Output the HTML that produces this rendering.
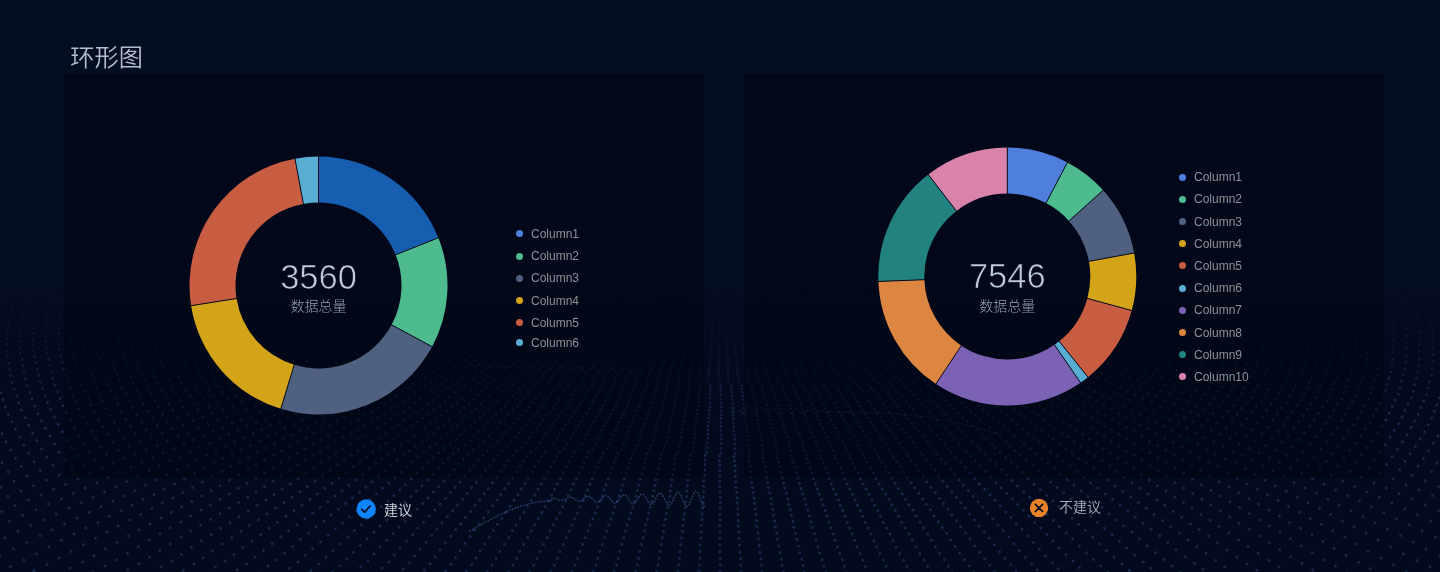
<!DOCTYPE html>
<html><head><meta charset="utf-8"><style>
html,body{margin:0;padding:0;}
body{width:1440px;height:572px;overflow:hidden;background:linear-gradient(180deg,#050d22 0,#050d22 280px,#030a1d 340px,#030a1d 572px);position:relative;font-family:"Liberation Sans","Noto Sans CJK SC",sans-serif;}
.abs{position:absolute;}
.txt{position:absolute;left:0;top:0;width:1440px;height:572px;will-change:transform;}
.title{position:absolute;left:70.3px;top:42px;font-size:24.2px;line-height:32px;color:#b4bccf;font-family:"Liberation Sans","Noto Sans CJK SC",sans-serif;font-weight:350;}
.panel{position:absolute;top:74px;width:640px;height:404px;background:rgba(0,3,16,0.5);}
.lg{position:absolute;width:7px;height:7px;border-radius:50%;}
.lt{position:absolute;font-size:12px;line-height:16px;color:#8f9095;white-space:nowrap;}
.num{position:absolute;font-size:34.5px;line-height:36px;color:#c4cadb;text-align:center;width:200px;font-weight:300;-webkit-text-stroke:0.7px #02081a;}
.sub{position:absolute;font-size:14px;line-height:20px;color:#9a9fae;font-weight:300;text-align:center;width:200px;font-family:"Liberation Sans","Noto Sans CJK SC",sans-serif;}
.tag{position:absolute;font-size:14px;line-height:20px;color:#c5c9d3;font-weight:350;font-family:"Liberation Sans","Noto Sans CJK SC",sans-serif;white-space:nowrap;}
svg{position:absolute;left:0;top:0;}
</style></head><body>
<svg width="1440" height="572" viewBox="0 0 1440 572" style="filter:blur(0.55px)">
<path d="M521.9 283.0h0m151.2 0.0h0m14.1-0.0h0m109.3 0.0h0m-157.7 0.1h0m39.0-0.0h0m4.7-0.0h0m217.4 0.0h0m81.3-0.0h0m-490.3 0.1h0m15.8-0.0h0m285.0 0.0h0m25.7 0.0h0m175.1-0.0h0m-401.2 0.0h0m242.9 0.1h0m-370.4 0.1h0m323.2-0.0h0m146.5 0.0h0m-376.9 0.1h0m47.2 0.0h0m39.8-0.0h0m138.5-0.0h0m103.7 0.0h0m-343.5 0.1h0m28.0 0.0h0m57.3-0.0h0m145.1 0.1h0m4.8-0.1h0m35.2 0.0h0m33.9 0.0h0m-393.7 0.1h0m163.2-0.1h0m147.2 0.1h0m4.8-0.0h0m104.4 0.1h0m36.6-0.1h0m-381.3 0.1h0m55.9 0.0h0m160.4 0.0h0m4.8-0.0h0m4.8-0.0h0m4.8-0.0h0m70.9 0.1h0m29.9-0.1h0m84.2 0.0h0m-502.1 0.1h0m39.3 0.1h0m167.9-0.1h0m86.0 0.1h0m4.8-0.1h0m-226.7 0.1h0m217.2-0.0h0m78.1-0.0h0m-310.9 0.1h0m99.7-0.0h0m36.0 0.0h0m92.4-0.1h0m228.8 0.1h0m-300.4 0.0h0m66.9-0.0h0m82.8 0.1h0m91.7-0.0h0m23.7 0.0h0m-356.1 0.1h0m46.8 0.0h0m106.4-0.1h0m109.0 0.1h0m17.1-0.0h0m-293.5 0.1h0m27.8 0.1h0m45.2-0.1h0m37.1 0.0h0m52.6-0.0h0m253.6 0.1h0m-430.8 0.1h0m172.4-0.1h0m92.2 0.0h0m56.0 0.1h0m26.5-0.0h0m-410.6 0.1h0m167.4 0.1h0m25.4-0.1h0m33.4 0.1h0m4.8-0.1h0m92.1 0.1h0m73.9-0.0h0m-278.2 0.1h0m78.7 0.0h0m23.9 0.0h0m236.3-0.0h0m47.3-0.1h0m-456.8 0.1h0m154.1-0.0h0m4.8 0.0h0m4.8-0.0h0m4.8-0.0h0m101.6 0.0h0m31.1-0.0h0m84.1 0.1h0m82.8 0.0h0m-499.7 0.1h0m115.1 0.0h0m181.8-0.0h0m53.0-0.0h0m-377.4 0.1h0m43.7-0.1h0m123.2 0.1h0m152.7-0.0h0m-225.0 0.1h0m14.0 0.0h0m46.5-0.0h0m28.3-0.0h0m126.6 0.0h0m4.9-0.1h0m40.7 0.1h0m-55.3 0.1h0m4.9-0.0h0m85.0 0.1h0m40.2-0.0h0m48.5-0.1h0m-398.5 0.1h0m42.0 0.0h0m168.3 0.0h0m4.9-0.1h0m-14.6 0.2h0m4.9-0.1h0m65.0 0.1h0m21.9-0.0h0m30.5 0.0h0m13.4-0.0h0m37.3-0.0h0m-388.5 0.1h0m70.1-0.0h0m53.0-0.1h0m87.6 0.0h0m-103.9 0.1h0m99.0-0.0h0m217.8-0.1h0m-471.6 0.1h0m248.9 0.1h0m79.5-0.0h0m-295.9 0.1h0m98.2-0.0h0m12.2 0.1h0m32.9-0.0h0m68.2 0.0h0m-227.6 0.0h0m66.5 0.1h0m240.4-0.0h0m26.8-0.0h0m17.5 0.0h0m54.1 0.0h0m60.3-0.0h0m-413.4 0.1h0m28.3-0.1h0m142.3 0.0h0m206.7 0.0h0m-335.6 0.2h0m70.4-0.1h0m53.6 0.0h0m84.1-0.0h0m-329.3 0.2h0m170.6-0.1h0m69.7 0.0h0m84.1 0.0h0m67.0-0.0h0m27.0 0.0h0m85.2-0.0h0m-439.0 0.1h0m131.9-0.0h0m38.9 0.0h0m84.0 0.0h0m36.6-0.1h0m48.7 0.0h0m-270.5 0.1h0m67.2 0.1h0m29.2-0.0h0m83.9 0.0h0m-167.7 0.1h0m12.1-0.0h0m47.4 0.0h0m19.5-0.0h0m83.8-0.0h0m63.9-0.1h0m93.1 0.0h0m-417.2 0.1h0m161.9 0.0h0m4.9 0.0h0m4.9-0.0h0m78.7 0.1h0m5.0-0.1h0m46.4 0.0h0m90.7-0.0h0m-424.7 0.1h0m82.5 0.0h0m76.1-0.1h0m119.1 0.0h0m-261.3 0.0h0m51.8 0.1h0m28.1 0.0h0m176.4-0.0h0m-5.0 0.1h0m61.2 0.0h0m40.2-0.0h0m-315.8 0.2h0m56.2-0.0h0m153.2-0.0h0m88.5 0.0h0m58.8 0.0h0m49.4-0.0h0m-296.0 0.1h0m94.3-0.0h0m124.6 0.0h0m13.6 0.0h0m-273.5 0.1h0m24.5-0.1h0m105.9 0.0h0m71.1-0.0h0m110.1 0.0h0m-395.9 0.1h0m96.8-0.0h0m112.9 0.0h0m-258.6 0.1h0m253.7 0.1h0m75.9-0.1h0m27.3 0.0h0m123.7-0.0h0m-381.8 0.2h0m80.5-0.1h0m145.3 0.1h0m50.2-0.1h0m-341.6 0.1h0m51.5-0.0h0m164.1 0.0h0m-231.9 0.1h0m95.6-0.0h0m50.3 0.1h0m81.0-0.0h0m75.7-0.0h0m110.3-0.0h0m61.4 0.0h0m-421.3 0.1h0m55.8 0.1h0m58.5-0.1h0m130.2 0.0h0m37.3-0.0h0m36.0 0.0h0m66.6-0.1h0m-215.6 0.1h0m70.6 0.0h0m106.0 0.0h0m-276.8 0.1h0m12.4 0.0h0m38.3-0.0h0m44.6 0.0h0m70.5-0.0h0m65.1 0.0h0m31.9-0.0h0m-346.5 0.1h0m174.1 0.1h0m70.4-0.1h0m47.3 0.0h0m-152.4 0.1h0m100.1-0.0h0m-126.4 0.1h0m31.3 0.1h0m19.8 0.0h0m5.0-0.1h0m65.2 0.0h0m149.9 0.1h0m25.3-0.1h0m-425.2 0.1h0m51.1-0.0h0m14.1 0.0h0m99.8 0.0h0m5.0 0.0h0m5.0-0.0h0m70.1-0.0h0m57.3 0.0h0m-335.2 0.1h0m69.5 0.1h0m42.2-0.0h0m161.1-0.0h0m85.1 0.1h0m18.2-0.0h0m-359.5 0.1h0m251.0 0.0h0m62.3 0.1h0m-205.2 0.0h0m25.0-0.0h0m16.9 0.0h0m96.0 0.0h0m155.2-0.0h0m-363.5 0.1h0m83.1-0.0h0m252.1-0.0h0m13.9 0.1h0m64.7-0.1h0m-210.6 0.1h0m67.3-0.0h0m-72.3 0.2h0m67.2-0.0h0m33.0-0.1h0m89.6 0.0h0m-270.6 0.1h0m199.1-0.0h0m-332.0 0.1h0m50.8-0.0h0m14.0 0.0h0m143.9-0.0h0m67.1-0.0h0m-239.4 0.1h0m79.7 0.0h0m154.5 0.0h0m38.0 0.0h0m-324.7 0.1h0m94.3-0.1h0m125.4 0.0h0m61.8 0.0h0m122.7 0.0h0m-296.9 0.1h0m12.6 0.0h0m34.0-0.1h0m60.7 0.1h0m61.7-0.0h0m85.0-0.0h0m-323.9 0.1h0m233.7 0.1h0m48.2 0.0h0m23.3-0.0h0m86.6-0.1h0m-270.2 0.2h0m50.6-0.0h0m56.5 0.0h0m109.2-0.1h0m14.3-0.0h0m-367.4 0.2h0m115.2-0.1h0m67.3 0.0h0m56.4 0.0h0m53.3 0.1h0m-241.6 0.1h0m91.5-0.0h0m35.4 0.0h0m56.3-0.0h0m-197.5 0.1h0m28.2-0.0h0m82.7 0.1h0m25.3 0.0h0m56.2 0.0h0m86.8-0.0h0m18.6 0.0h0m57.7-0.0h0m25.7-0.0h0m-339.6 0.1h0m25.4 0.0h0m49.0-0.0h0m5.1 0.0h0m5.1-0.0h0m5.1-0.0h0m119.6-0.0h0m-302.8 0.1h0m37.3 0.0h0m69.3-0.0h0m132.7 0.0h0m-103.0 0.1h0m161.3 0.0h0m-63.4 0.1h0m58.1 0.1h0m33.6-0.0h0m37.6-0.1h0m28.8 0.0h0m-163.3 0.2h0m148.7-0.1h0m-355.7 0.1h0m265.1 0.0h0m57.3 0.0h0m-286.5 0.1h0m14.2-0.0h0m69.4-0.0h0m82.4 0.0h0m57.9 0.0h0m135.4-0.0h0m-331.3 0.1h0m38.5-0.0h0m196.2 0.0h0m-314.4 0.2h0m37.0 0.0h0m56.0-0.0h0m119.6 0.0h0m57.8-0.1h0m-164.6 0.1h0m159.4 0.0h0m-124.7 0.1h0m67.0 0.0h0m52.5 0.0h0m49.1-0.0h0m23.7 0.0h0m19.0-0.1h0m43.6 0.1h0m-373.7 0.2h0m180.5 0.0h0m52.4-0.0h0m111.2 0.0h0m14.5 0.0h0m40.6-0.0h0m-297.6 0.1h0m22.2 0.0h0m103.8 0.0h0m54.3-0.1h0m-246.2 0.2h0m14.1 0.0h0m125.5-0.1h0m-111.9 0.2h0m65.5-0.0h0m41.2 0.0h0m52.2-0.1h0m54.2 0.0h0m29.0 0.0h0m-321.3 0.1h0m36.8 0.0h0m55.5 0.0h0m12.7-0.1h0m235.1 0.0h0m-190.4 0.1h0m30.9-0.0h0m52.1-0.0h0m54.1 0.0h0m112.0 0.0h0m-276.3 0.1h0m32.4 0.0h0m20.6-0.0h0m52.0 0.0h0m-205.9 0.1h0m138.4-0.0h0m5.2 0.0h0m5.2-0.0h0m111.1 0.0h0m34.2 0.0h0m-93.5 0.1h0m53.9 0.0h0m77.9-0.1h0m29.4 0.1h0m-14.9 0.1h0m-97.7 0.1h0m39.5 0.0h0m24.3-0.1h0m-328.6 0.2h0m51.1-0.1h0m14.0 0.0h0m39.2-0.0h0m17.4 0.0h0m89.2-0.0h0m-174.4 0.1h0m42.0 0.0h0m13.1 0.0h0m167.7-0.1h0m143.3 0.0h0m-197.0 0.1h0m48.3 0.0h0m44.7 0.0h0m43.6 0.1h0m-320.8 0.0h0m105.4 0.0h0m73.5 0.0h0m48.2-0.0h0m74.3-0.0h0m-79.6 0.2h0m50.0-0.0h0m93.5-0.0h0m-277.2 0.1h0m85.6 0.0h0m161.5 0.0h0m-224.5 0.1h0m105.8-0.0h0m133.5-0.0h0m-314.7 0.1h0m13.9 0.0h0m119.3-0.0h0m97.9-0.1h0m29.5 0.0h0m-275.0 0.1h0m41.7 0.0h0m13.0-0.0h0m135.5 0.1h0m-95.2 0.1h0m47.2-0.0h0m97.7-0.0h0m54.3-0.0h0m-309.2 0.2h0m199.8 0.0h0m-112.3 0.0h0m27.7 0.1h0m36.7-0.1h0m97.5-0.0h0m34.9 0.0h0m-137.6 0.1h0m97.3 0.0h0m-123.5 0.0h0m21.0 0.0h0m53.0-0.1h0m129.0 0.0h0m-197.7 0.1h0m5.2 0.0h0m5.2-0.0h0m102.3 0.0h0m40.2 0.0h0m24.7-0.0h0m49.8 0.0h0m-318.3 0.1h0m40.0-0.1h0m114.1 0.0h0m149.0-0.0h0m-317.3 0.1h0m28.1 0.0h0m13.3 0.0h0m30.6-0.0h0m140.3 0.0h0m-49.4 0.1h0m89.5 0.0h0m-267.2 0.0h0m221.6 0.0h0m70.2 0.1h0m19.8 0.0h0m-219.5 0.1h0m80.2-0.0h0m43.8 0.0h0m45.5 0.0h0m-187.2 0.1h0m92.6 0.1h0m43.7-0.0h0m45.4 0.1h0m70.1-0.0h0m-40.0 0.1h0m-265.5 0.0h0m14.2-0.0h0m13.7 0.0h0m13.2-0.0h0m35.8 0.0h0m64.2 0.0h0m43.6-0.0h0m136.0-0.0h0m-335.3 0.2h0m244.6-0.1h0m55.3 0.1h0m-106.0 0.1h0m-119.9 0.1h0m22.9-0.0h0m53.5-0.1h0m88.7 0.0h0m35.5 0.0h0m-129.5 0.1h0m43.4 0.0h0m45.1 0.0h0m-131.2 0.1h0m37.4 0.1h0m129.2 0.0h0m45.5-0.1h0m-253.1 0.1h0m46.3 0.1h0m75.4-0.0h0m44.9-0.0h0m66.2-0.0h0m-273.6 0.1h0m14.1-0.0h0m13.6 0.0h0m86.1-0.0h0m195.1 0.0h0m-323.4 0.1h0m73.4-0.0h0m33.5-0.0h0m5.3 0.1h0m5.3-0.0h0m5.3-0.1h0m93.4 0.0h0m-44.8 0.1h0m85.7-0.0h0m-46.4 0.1h0m71.5 0.0h0m-116.3 0.1h0m85.5-0.0h0m50.9 0.0h0m-97.3 0.1h0m-144.4 0.0h0m18.0-0.0h0m81.8 0.2h0m85.3-0.0h0m-225.5 0.2h0m13.9-0.0h0m13.5-0.0h0m151.9-0.0h0m76.9 0.0h0m40.8 0.0h0m-311.4 0.1h0m234.3-0.0h0m-156.0 0.1h0m70.9-0.0h0m39.0 0.0h0m102.5 0.0h0m-62.0 0.1h0m36.2 0.0h0m-204.4 0.1h0m83.3 0.0h0m-60.0 0.1h0m98.8-0.1h0m-44.3 0.2h0m84.7-0.1h0m-175.4 0.2h0m129.5 0.0h0m82.0-0.1h0m25.7 0.1h0m20.6-0.0h0m-271.3 0.1h0m55.1-0.0h0m128.1-0.0h0m-197.0 0.1h0m112.5-0.0h0m-66.9 0.1h0m28.7 0.0h0m32.7 0.0h0m44.1 0.0h0m40.1-0.0h0m41.7-0.0h0m-153.2 0.2h0m16.4 0.1h0m5.5-0.1h0m157.0 0.1h0m-173.3 0.0h0m5.5 0.0h0m54.9 0.0h0m40.0-0.1h0m41.6 0.0h0m-194.4 0.2h0m18.4 0.1h0m128.8 0.0h0m41.4 0.0h0m-201.8 0.1h0m120.5-0.0h0m112.6 0.0h0m-246.8 0.1h0m168.5 0.1h0m41.3-0.0h0m-81.2 0.1h0m-77.8 0.1h0m153.2 0.1h0m36.9-0.0h0m-208.3 0.1h0m130.2-0.0h0m-39.7 0.1h0m-66.6 0.2h0m141.8-0.1h0m-178.8 0.1h0m98.0 0.0h0m39.6-0.1h0m77.9-0.0h0m-229.2 0.2h0m186.6 0.0h0m-154.2 0.2h0m23.7-0.0h0m50.0 0.0h0m39.5 0.0h0m77.7-0.0h0m-42.5 0.1h0m-119.2 0.1h0m38.9-0.0h0m-5.6 0.2h0m45.0-0.0h0m77.5-0.0h0m-198.1 0.2h0m47.8-0.0h0m107.9-0.0h0m-102.3 0.1h0m11.1 0.0h0m5.6-0.1h0m122.1 0.1h0m-205.7 0.1h0m32.2-0.1h0m40.2-0.0h0m56.0 0.1h0m35.0 0.1h0m36.4 0.1h0m-77.0 0.1h0m34.9 0.1h0m-138.4 0.1h0m18.6-0.1h0m156.1 0.0h0m-76.8 0.1h0m34.8 0.1h0m-146.0 0.1h0m182.2-0.0h0m-144.5 0.1h0m67.9 0.0h0m34.7 0.1h0m36.0 0.0h0m-157.1 0.1h0m24.1 0.1h0m56.6-0.0h0m-5.7 0.2h0m40.3-0.1h0m35.9-0.0h0m-121.5 0.2h0m-43.1 0.0h0m82.7 0.1h0m-34.0 0.1h0m74.1-0.0h0m35.8-0.1h0m-139.6 0.1h0m58.0 0.0h0m-22.6 0.1h0m17.0 0.0h0m-11.3 0.0h0m5.7 0.0h0m87.1 0.0h0m-35.7 0.1h0m-111.2 0.2h0m18.9 0.0h0m122.1 0.1h0m-35.6 0.1h0m-80.7 0.3h0m75.0-0.0h0m35.5-0.0h0m-129.3 0.2h0m88.0 0.1h0m-63.4 0.1h0m57.7 0.2h0m-51.9 0.1h0m46.1 0.1h0m-40.4 0.2h0m34.6 0.0h0m-28.8 0.1h0m23.1 0.0h0m-17.3 0.1h0m5.8 0.0h0m5.8-0.0h0" stroke="#3d5a9a" stroke-opacity="0.03" stroke-width="1.51" stroke-linecap="round" fill="none"/>
<path d="M1041.1 283.1h0m-12.7 0.1h0m246.7 0.0h0m-1206.2 0.1h0m171.7-0.0h0m164.4 0.0h0m599.2-0.0h0m12.0-0.0h0m183.4 0.1h0m-1024.2 0.0h0m981.7 0.0h0m149.1 0.1h0m-1007.0 0.1h0m38.1-0.0h0m765.6-0.0h0m235.9 0.0h0m-966.3 0.1h0m-248.3 0.1h0m293.2-0.0h0m-222.8 0.3h0m63.3-0.1h0m171.6 0.0h0m658.8 0.1h0m138.5 0.0h0m-85.9 0.1h0m-755.1 0.1h0m-71.1 0.1h0m37.0 0.0h0m722.5 0.0h0m108.0-0.1h0m-1037.3 0.2h0m68.4-0.0h0m61.5-0.0h0m980.8 0.0h0m-195.0 0.1h0m-661.6 0.1h0m726.3-0.0h0m-78.1 0.1h0m-12.9 0.1h0m251.3-0.1h0m-1054.2 0.1h0m98.6 0.0h0m35.9-0.0h0m631.8-0.0h0m11.9 0.1h0m12.2-0.0h0m186.9 0.0h0m-1043.7 0.1h0m126.1-0.0h0m120.5 0.0h0m753.7-0.0h0m151.9 0.0h0m-207.2 0.1h0m-662.5 0.1h0m-23.6 0.0h0m12.0 0.1h0m-323.1 0.0h0m136.3 0.0h0m130.5 0.1h0m-195.0 0.1h0m160.2 0.0h0m750.6-0.0h0m141.1-0.0h0m-929.4 0.1h0m841.9 0.0h0m42.0 0.2h0m-924.7 0.1h0m814.7-0.0h0m-877.3 0.1h0m189.2-0.0h0m872.8 0.0h0m-1131.7 0.1h0m225.2 0.2h0m707.9-0.1h0m66.0 0.1h0m-810.4 0.0h0m657.3-0.0h0m-574.0 0.1h0m585.4 0.0h0m62.2-0.1h0m242.9 0.0h0m-1074.2 0.1h0m60.8-0.0h0m170.9-0.0h0m586.3 0.1h0m-37.3 0.0h0m12.1 0.1h0m12.4-0.0h0m146.3 0.0h0m44.1-0.1h0m-1063.5 0.2h0m263.9-0.1h0m24.1 0.0h0m-11.9 0.1h0m687.0 0.0h0m-744.4 0.1h0m-132.9 0.1h0m97.5-0.0h0m-38.4 0.1h0m947.0 0.1h0m-1071.9 0.1h0m928.1-0.0h0m-715.8 0.2h0m770.5-0.1h0m-899.4 0.2h0m942.3-0.0h0m-847.7 0.2h0m108.0 0.1h0m627.6-0.1h0m-894.0 0.1h0m121.2 0.0h0m658.5 0.0h0m-573.7 0.1h0m673.8 0.1h0m67.3 0.1h0m-866.2 0.1h0m174.2 0.0h0m535.9-0.0h0m-572.1 0.1h0m647.2 0.0h0m-847.1 0.1h0m153.8 0.1h0m70.7-0.0h0m559.2-0.1h0m231.0 0.1h0m-802.3 0.0h0m583.3 0.0h0m12.3 0.1h0m12.7-0.0h0m13.0-0.1h0m136.1 0.1h0m-852.1 0.1h0m794.7 0.1h0m-833.8 0.1h0m-60.2 0.0h0m149.3 0.2h0m86.3 0.0h0m489.7 0.1h0m153.4 0.1h0m-764.4 0.1h0m820.1 0.0h0m-916.5 0.1h0m234.9 0.0h0m725.3 0.1h0m-901.7 0.0h0m86.4 0.0h0m61.6 0.1h0m511.8-0.1h0m127.7 0.1h0m-688.0 0.2h0m571.5-0.1h0m-712.1 0.1h0m93.5 0.0h0m83.9-0.1h0m636.6 0.0h0m-660.9 0.1h0m570.3-0.0h0m159.1-0.1h0m-717.1 0.1h0m-228.7 0.1h0m119.9-0.0h0m150.0-0.0h0m528.7 0.1h0m64.6-0.1h0m-576.3 0.2h0m523.8 0.0h0m38.7-0.0h0m138.7 0.0h0m45.8-0.1h0m-210.7 0.2h0m12.9-0.0h0m-756.2 0.1h0m90.8 0.0h0m576.3-0.0h0m-728.4 0.1h0m911.0-0.1h0m-794.6 0.3h0m123.6-0.0h0m499.0 0.1h0m-573.3 0.1h0m-147.6 0.1h0m59.6-0.0h0m817.6-0.0h0m56.7 0.1h0m-694.6 0.1h0m16.9 0.0h0m-45.9 0.1h0m521.5 0.0h0m246.5-0.0h0m-817.5 0.1h0m-47.9 0.1h0m749.0 0.0h0m-844.3 0.1h0m156.1 0.0h0m24.7-0.1h0m544.7 0.1h0m-556.9 0.0h0m-110.9 0.1h0m628.5 0.1h0m143.3-0.0h0m-92.2 0.1h0m162.1-0.1h0m-688.8 0.1h0m34.2 0.1h0m-135.1 0.0h0m639.7 0.0h0m65.8-0.1h0m-798.0 0.1h0m210.8 0.0h0m533.8 0.1h0m39.5-0.0h0m141.3 0.0h0m-168.0 0.1h0m13.2-0.0h0m-714.4 0.1h0m623.6-0.1h0m186.1 0.1h0m-759.4 0.1h0m75.7-0.0h0m-165.4 0.2h0m217.1 0.1h0m456.8-0.0h0m-619.4 0.2h0m48.8-0.1h0m50.4 0.0h0m679.5-0.0h0m57.8 0.1h0m-707.8 0.0h0m17.2 0.0h0m445.7 0.0h0m-529.7 0.1h0m123.0-0.1h0m445.7 0.0h0m-555.9 0.1h0m12.4-0.1h0m-125.4 0.1h0m801.5 0.0h0m-121.0 0.1h0m-627.6 0.1h0m154.3-0.0h0m406.6 0.0h0m26.7 0.1h0m146.0 0.0h0m-630.7 0.1h0m536.7 0.0h0m165.2-0.1h0m-899.0 0.2h0m270.7-0.0h0m-213.5 0.1h0m174.8-0.1h0m514.1 0.1h0m67.1-0.0h0m-598.4 0.1h0m584.1 0.1h0m-690.5 0.0h0m584.1 0.1h0m66.1-0.1h0m13.0 0.1h0m13.4-0.0h0m-120.0 0.1h0m-479.6 0.0h0m69.2 0.0h0m627.5 0.0h0m-865.2 0.1h0m105.2 0.1h0m154.5 0.0h0m-204.2 0.0h0m576.5 0.1h0m54.7-0.0h0m-530.1 0.1h0m64.7 0.0h0m-102.6 0.1h0m68.0 0.0h0m662.3-0.0h0m-717.3 0.1h0m12.6-0.0h0m59.9 0.0h0m454.2-0.0h0m-641.9 0.1h0m227.4 0.0h0m454.2 0.0h0m-627.8 0.1h0m195.4 0.1h0m567.4 0.0h0m-191.3 0.1h0m68.1-0.0h0m-534.7 0.2h0m52.4-0.1h0m441.5 0.0h0m-636.5 0.1h0m593.2 0.0h0m192.0-0.0h0m-733.0 0.1h0m165.3 0.0h0m472.0-0.1h0m-511.4 0.2h0m592.3 0.0h0m-609.7 0.0h0m541.4-0.0h0m-462.7 0.1h0m408.2 0.0h0m67.4-0.0h0m41.0-0.0h0m-689.6 0.1h0m64.5-0.0h0m488.7 0.0h0m108.7-0.0h0m13.7-0.0h0m-726.2 0.1h0m185.7 0.0h0m639.4 0.0h0m-760.8 0.2h0m38.7-0.0h0m105.1-0.0h0m363.4 0.1h0m15.9-0.1h0m55.8 0.1h0m-565.6 0.1h0m12.9 0.0h0m43.2 0.1h0m35.2-0.0h0m60.9 0.1h0m-214.6 0.0h0m599.2-0.0h0m194.2 0.0h0m-657.0 0.1h0m40.4 0.1h0m462.8-0.0h0m-440.5 0.2h0m383.2 0.1h0m195.0 0.0h0m-815.8 0.0h0m53.2 0.0h0m220.8 0.0h0m416.2-0.0h0m-544.9 0.1h0m443.4-0.0h0m15.8 0.1h0m44.1-0.0h0m-449.9 0.1h0m60.5 0.0h0m443.4 0.1h0m97.6-0.0h0m-578.5 0.1h0m345.8 0.1h0m-499.9 0.0h0m96.1 0.1h0m17.8-0.0h0m-165.6 0.1h0m117.4 0.0h0m110.6-0.0h0m471.5-0.0h0m69.7-0.0h0m-153.7 0.1h0m28.5-0.0h0m68.7 0.1h0m41.8 0.0h0m-688.8 0.1h0m198.5 0.0h0m462.0-0.1h0m13.9 0.0h0m-635.0 0.1h0m84.2 0.0h0m377.5-0.1h0m-487.6 0.2h0m170.3-0.0h0m296.2 0.0h0m36.8 0.0h0m16.2-0.1h0m-506.3 0.1h0m119.8 0.0h0m-196.6 0.1h0m639.9 0.0h0m-519.2 0.2h0m97.9-0.0h0m-62.0 0.1h0m454.0-0.0h0m-86.6 0.2h0m21.0 0.0h0m-406.1 0.0h0m512.8 0.1h0m-636.8 0.1h0m165.2-0.0h0m74.4-0.0h0m-51.7 0.1h0m37.1-0.0h0m353.4-0.0h0m-32.7 0.1h0m-451.8 0.1h0m409.2 0.0h0m58.7-0.0h0m44.9 0.1h0m42.4-0.0h0m-439.2 0.1h0m-195.3 0.1h0m133.6 0.1h0m375.8-0.0h0m137.7 0.1h0m99.5 0.0h0m-679.6 0.1h0m90.0-0.0h0m325.4 0.0h0m-468.3 0.1h0m83.8-0.0h0m18.1 0.0h0m63.6-0.0h0m51.3-0.0h0m-14.5 0.1h0m308.3 0.0h0m49.6-0.1h0m29.1 0.0h0m56.6-0.0h0m71.0 0.0h0m-676.7 0.1h0m448.9 0.0h0m170.2-0.0h0m-645.5 0.0h0m13.4 0.1h0m435.1-0.0h0m80.9 0.0h0m129.9-0.0h0m14.2 0.0h0m14.6-0.1h0m-514.5 0.1h0m339.3 0.0h0m-400.6 0.1h0m23.3 0.1h0m451.8 0.0h0m-144.8 0.0h0m-384.3 0.1h0m99.8-0.0h0m51.0 0.1h0m260.2-0.1h0m21.4 0.1h0m66.8-0.0h0m-606.9 0.1h0m144.3 0.0h0m99.8 0.0h0m241.9 0.0h0m-359.7 0.1h0m102.9 0.1h0m419.7-0.0h0m-480.6 0.1h0m344.3-0.0h0m43.4-0.0h0m33.4 0.0h0m-397.9 0.1h0m288.6-0.0h0m92.4 0.0h0m-557.5 0.1h0m80.7 0.0h0m438.3 0.1h0m-320.1 0.1h0m404.3-0.0h0m43.2 0.0h0m-396.9 0.1h0m209.6-0.0h0m32.4 0.0h0m-477.2 0.1h0m53.8 0.1h0m67.9-0.0h0m99.2-0.0h0m424.0 0.1h0m-438.8 0.1h0m232.6-0.0h0m81.6 0.0h0m-506.3 0.1h0m71.3-0.0h0m60.2-0.0h0m23.0 0.1h0m302.5 0.0h0m27.3-0.0h0m72.5-0.0h0m-543.2 0.1h0m13.2-0.1h0m62.9 0.0h0m496.7-0.0h0m57.7 0.0h0m-225.4 0.1h0m103.9-0.0h0m16.8 0.0h0m-362.6 0.0h0m480.9 0.0h0m-430.7 0.2h0m223.8-0.0h0m220.9-0.0h0m14.5 0.0h0m-273.5 0.1h0m65.4 0.0h0m-363.8 0.1h0m98.6 0.0h0m287.0 0.0h0m98.5 0.0h0m-539.1 0.1h0m78.8-0.0h0m22.9 0.1h0m37.3 0.0h0m246.5-0.0h0m123.2-0.0h0m-161.3 0.1h0m-310.1 0.2h0m86.5 0.0h0m186.9-0.1h0m101.9 0.0h0m44.2 0.0h0m-437.8 0.1h0m360.4-0.0h0m111.4 0.0h0m60.7 0.0h0m-377.7 0.1h0m167.7-0.0h0m92.9 0.1h0m39.2-0.0h0m-485.9 0.1h0m74.1 0.0h0m243.1-0.0h0m-219.5 0.0h0m74.4 0.0h0m213.6-0.0h0m33.1 0.0h0m113.8 0.0h0m-600.0 0.1h0m188.0-0.0h0m85.0-0.0h0m142.3 0.1h0m228.8 0.0h0m-419.0 0.0h0m-170.3 0.1h0m324.0 0.0h0m68.2 0.0h0m83.1 0.0h0m-515.9 0.1h0m195.7 0.0h0m270.0-0.0h0m27.8-0.0h0m-479.6 0.2h0m13.5-0.0h0m82.3-0.0h0m135.6 0.0h0m149.7-0.1h0m172.4 0.0h0m75.5-0.0h0m-570.2 0.1h0m191.9 0.0h0m162.0 0.0h0m105.8-0.0h0m-441.0 0.1h0m42.5-0.1h0m23.5-0.0h0m201.1-0.0h0m191.0 0.0h0m47.9-0.1h0m-417.4 0.1h0m51.2 0.0h0m228.1-0.0h0m196.9-0.0h0m-267.3 0.1h0m98.2 0.0h0m-270.2 0.1h0m135.8 0.0h0m67.8-0.0h0m88.9 0.0h0m160.8-0.1h0m-399.8 0.1h0m182.8 0.0h0m-251.2 0.1h0m49.2 0.0h0m131.7 0.0h0m226.8-0.0h0m-549.4 0.1h0m56.1 0.0h0m297.9 0.0h0m66.4 0.0h0m97.9-0.1h0m-438.1 0.1h0m23.4-0.0h0m182.8-0.0h0m179.0 0.1h0m-249.6 0.1h0m170.7-0.0h0m-260.4 0.1h0m50.9 0.0h0m139.5 0.0h0m126.0-0.0h0m57.6-0.0h0m-462.1 0.1h0m242.6-0.1h0m67.3 0.1h0m134.6-0.1h0m79.4 0.1h0m-574.5 0.1h0m31.9-0.1h0m143.4 0.0h0m217.6 0.0h0m33.7-0.0h0m-217.2 0.1h0m25.0 0.0h0m52.9 0.1h0m-126.7 0.1h0m162.7 0.0h0m219.4-0.0h0m-467.1 0.1h0m24.1-0.0h0m23.2 0.0h0m231.6 0.0h0m-367.3 0.1h0m253.2-0.0h0m41.1 0.0h0m105.4 0.0h0m33.6 0.0h0m28.4-0.0h0m22.8-0.0h0m116.0 0.0h0m-442.3 0.1h0m50.5 0.0h0m-235.8 0.0h0m13.8 0.0h0m272.4 0.0h0m29.4-0.0h0m41.7 0.1h0m-101.8 0.0h0m36.6 0.0h0m17.6-0.0h0m78.6 0.0h0m140.1 0.0h0m35.6-0.1h0m-504.1 0.2h0m37.7 0.0h0m124.0-0.0h0m76.3-0.0h0m5.9-0.0h0m116.8-0.0h0m33.5 0.0h0m91.9 0.0h0m95.0-0.1h0m-158.6 0.1h0m112.5-0.0h0m-515.7 0.2h0m43.3-0.0h0m23.9-0.1h0m23.1 0.0h0m37.5 0.0h0m144.3-0.0h0m153.7 0.0h0m149.7 0.0h0m-272.4 0.1h0m32.1 0.0h0m-172.5 0.1h0m19.6-0.1h0m186.3-0.0h0m-256.0 0.2h0m153.6 0.1h0m130.5-0.0h0m-428.4 0.1h0m328.7 0.0h0m32.0-0.0h0m33.2 0.0h0m80.4-0.0h0m53.9-0.0h0m31.6 0.0h0m-379.4 0.1h0m39.6 0.0h0m230.9-0.0h0m-393.8 0.0h0m48.5-0.0h0m186.3 0.1h0m217.7 0.0h0m-427.8 0.0h0m46.8 0.0h0m37.3 0.1h0m256.1-0.0h0m69.7-0.0h0m-291.1 0.2h0m153.9 0.0h0m33.1-0.0h0m-400.4 0.1h0m32.5 0.0h0m206.3 0.0h0m59.9 0.0h0m36.7-0.1h0m250.0 0.0h0m-533.9 0.1h0m112.1 0.1h0m264.7 0.1h0m28.9-0.0h0m23.2 0.0h0m72.5-0.0h0m-566.2 0.1h0m305.9-0.0h0m101.4-0.0h0m-292.7 0.1h0m23.7-0.1h0m74.3-0.0h0m45.4-0.0h0m84.5 0.0h0m31.8-0.0h0m-284.2 0.1h0m71.1 0.0h0m71.5 0.0h0m67.2 0.0h0m311.9-0.1h0m-347.8 0.1h0m171.0 0.0h0m75.8-0.0h0m36.2 0.0h0m-348.9 0.0h0m95.7 0.1h0m107.0-0.0h0m62.9 0.0h0m-193.8 0.0h0m18.0 0.1h0m48.5-0.0h0m31.7-0.0h0m160.6-0.0h0m-495.3 0.1h0m149.9 0.1h0m92.7-0.1h0m6.0 0.0h0m205.0 0.0h0m91.5 0.0h0m-506.6 0.1h0m356.8 0.0h0m-307.1 0.1h0m23.6-0.1h0m73.8 0.0h0m19.9-0.0h0m155.8 0.0h0m-341.7 0.0h0m44.2 0.1h0m233.2-0.0h0m31.6 0.0h0m95.4-0.0h0m-289.5 0.1h0m336.3 0.1h0m-483.3 0.1h0m183.8-0.1h0m217.6-0.0h0m58.1 0.0h0m78.7-0.0h0m32.2 0.1h0m-346.2 0.1h0m79.3-0.0h0m64.1-0.0h0m-198.6 0.2h0m166.0-0.0h0m95.0-0.0h0m71.1 0.0h0m18.3 0.0h0m-411.7 0.1h0m23.4-0.0h0m73.4-0.0h0m-146.2 0.1h0m239.2 0.1h0m97.6-0.1h0m-408.0 0.1h0m96.4-0.0h0m147.0 0.1h0m131.0-0.0h0m-341.2 0.1h0m133.6-0.1h0m175.1 0.1h0m94.6-0.0h0m29.4-0.0h0m23.7 0.1h0m107.0-0.0h0m-544.0 0.2h0m150.7 0.0h0m101.1 0.0h0m259.1-0.0h0m-161.9 0.1h0m-177.9 0.1h0m25.8-0.1h0m-122.0 0.1h0m23.3 0.0h0m37.7-0.0h0m109.8-0.0h0m69.7-0.1h0m61.9 0.1h0m77.3-0.0h0m-251.6 0.1h0m80.0-0.0h0m123.6-0.0h0m84.9 0.0h0m-465.7 0.1h0m25.0-0.0h0m188.8 0.1h0m102.9-0.0h0m130.1-0.0h0m-263.6 0.1h0m221.1-0.1h0m-462.2 0.2h0m152.7-0.1h0m112.8 0.0h0m75.6 0.0h0m214.3 0.0h0m-366.4 0.0h0m20.3 0.0h0m37.9-0.1h0m6.1 0.0h0m6.1-0.0h0m49.4 0.0h0m93.9-0.1h0m29.2 0.1h0m-392.7 0.1h0m74.6-0.0h0m254.3-0.0h0m-348.2 0.1h0m69.8 0.0h0m47.2-0.0h0m37.5 0.0h0m305.2-0.0h0m-177.0 0.1h0m32.2-0.0h0m61.4 0.0h0m59.2-0.0h0m-390.4 0.1h0m150.6 0.1h0m320.0-0.1h0m-173.9 0.2h0m63.6-0.1h0m72.4 0.1h0m-338.3 0.0h0m36.1 0.0h0m320.9 0.0h0m-219.9 0.1h0m-175.8 0.1h0m207.8-0.0h0m61.2-0.0h0m-292.8 0.2h0m125.0-0.0h0m196.7 0.0h0m30.0-0.1h0m24.1 0.1h0m-426.2 0.1h0m97.2-0.0h0m37.2 0.1h0m174.3-0.0h0m-283.2 0.1h0m218.1-0.0h0m-282.6 0.1h0m375.5 0.1h0m164.9-0.0h0m-520.6 0.1h0m174.4-0.1h0m26.3 0.0h0m94.1-0.0h0m-156.2 0.1h0m118.1 0.0h0m127.9-0.0h0m29.9 0.0h0m48.9-0.0h0m-363.1 0.2h0m221.3-0.0h0m179.4 0.0h0m-424.5 0.1h0m130.5 0.0h0m231.5-0.0h0m43.4-0.0h0m-231.3 0.1h0m38.0 0.1h0m60.7-0.1h0m-297.3 0.1h0m71.2-0.1h0m37.0 0.0h0m53.1 0.0h0m-186.8 0.0h0m154.4 0.0h0m63.5-0.0h0m133.6-0.0h0m29.7 0.1h0m-188.2 0.1h0m18.7 0.0h0m77.0 0.0h0m-89.4 0.0h0m6.2 0.0h0m224.4 0.1h0m-311.0 0.0h0m136.9 0.0h0m60.4-0.0h0m88.9 0.0h0m-424.1 0.1h0m76.0-0.1h0m23.6-0.0h0m264.1 0.1h0m-184.0 0.1h0m213.7-0.0h0m-341.8 0.1h0m107.6 0.0h0m142.0 0.0h0m166.0-0.0h0m-344.8 0.1h0m146.0 0.1h0m217.7-0.0h0m-459.9 0.1h0m302.4 0.0h0m28.4 0.1h0m60.1-0.0h0m-231.1 0.1h0m200.5-0.0h0m55.2-0.0h0m-358.7 0.1h0m23.5 0.1h0m37.9-0.1h0m117.7 0.1h0m32.6 0.0h0m-236.1 0.1h0m107.0 0.0h0m156.4 0.0h0m-314.7 0.1h0m185.0 0.1h0m158.0-0.0h0m59.8 0.0h0m49.8-0.0h0m-426.5 0.1h0m95.7-0.0h0m126.6 0.0h0m124.0 0.0h0m54.9 0.1h0m-146.3 0.0h0m190.5 0.0h0m-388.9 0.1h0m61.0 0.1h0m47.8-0.1h0m50.7-0.0h0m66.0 0.1h0m-249.7 0.1h0m47.5-0.0h0m58.8 0.0h0m171.6-0.0h0m-100.6 0.1h0m129.8-0.0h0m30.3-0.0h0m-198.1 0.1h0m76.8 0.1h0m-241.1 0.1h0m170.7 0.0h0m25.3-0.0h0m216.0-0.0h0m-438.0 0.0h0m121.1-0.0h0m94.6 0.1h0m197.1-0.1h0m-209.8 0.1h0m6.3 0.0h0m84.8 0.0h0m-212.0 0.1h0m81.6 0.0h0m158.4-0.1h0m29.1 0.0h0m30.2 0.0h0m-323.4 0.1h0m84.7-0.0h0m117.8 0.0h0m196.1-0.0h0m-351.3 0.1h0m-72.2 0.2h0m254.4 0.0h0m118.1-0.1h0m25.1 0.1h0m-115.2 0.1h0m29.0 0.0h0m30.1 0.0h0m-246.7 0.0h0m42.5 0.0h0m83.9-0.0h0m-189.0 0.2h0m23.9-0.0h0m60.3 0.0h0m98.3 0.2h0m150.9-0.0h0m-286.4 0.1h0m64.5 0.0h0m104.3-0.0h0m86.6 0.1h0m-327.2 0.0h0m268.4-0.0h0m28.9-0.0h0m85.9 0.1h0m-289.0 0.2h0m106.8-0.0h0m-58.1 0.1h0m-110.9 0.1h0m23.8 0.0h0m59.9-0.1h0m118.4 0.0h0m117.1-0.0h0m-156.7 0.1h0m67.3 0.0h0m28.7-0.0h0m29.8-0.0h0m-313.0 0.2h0m142.0-0.1h0m-70.6 0.1h0m109.3 0.0h0m187.9-0.1h0m-220.2 0.2h0m25.8 0.1h0m45.9-0.0h0m116.6 0.0h0m-243.2 0.0h0m21.4-0.0h0m40.0-0.0h0m6.5 0.1h0m6.5-0.0h0m138.2 0.0h0m-274.3 0.1h0m216.0 0.0h0m28.6-0.0h0m-220.9 0.1h0m-48.2 0.1h0m354.2-0.0h0m-147.8 0.1h0m-135.4 0.1h0m43.3 0.0h0m208.2-0.0h0m-30.6 0.1h0m-198.8 0.1h0m140.8-0.0h0m28.5-0.0h0m-230.7 0.2h0m168.2-0.0h0m147.2 0.1h0m-339.7 0.1h0m47.9-0.0h0m65.7 0.0h0m194.5 0.1h0m-122.1 0.2h0m33.9 0.0h0m57.7-0.1h0m-207.0 0.1h0m177.6 0.0h0m-155.7 0.1h0m27.7 0.0h0m-88.7 0.2h0m147.9-0.0h0m121.6 0.1h0m-246.2 0.1h0m71.9-0.0h0m46.1 0.1h0m40.3-0.1h0m57.5-0.0h0m-29.3 0.1h0m-164.0 0.2h0m21.8 0.0h0m34.1-0.0h0m32.9 0.1h0m-26.3 0.1h0m19.7 0.0h0m134.3-0.0h0m-255.4 0.1h0m107.9-0.1h0m6.6 0.0h0m53.4 0.0h0m57.2 0.1h0m-201.9 0.2h0m172.7-0.1h0m-128.7 0.1h0m-21.6 0.2h0m115.5 0.0h0m87.1 0.0h0m-30.1 0.2h0m-211.1 0.1h0m67.0 0.0h0m115.1-0.1h0m-34.7 0.2h0m-124.3 0.1h0m211.0 0.1h0m-188.6 0.0h0m28.2 0.1h0m67.0 0.1h0m34.5 0.0h0m28.9-0.0h0m-197.0 0.3h0m73.3 0.1h0m53.6 0.0h0m-103.9 0.1h0m22.2 0.0h0m174.7-0.1h0m-139.9 0.2h0m40.2 0.0h0m41.1-0.0h0m28.8 0.0h0m-103.4 0.2h0m26.8-0.0h0m-20.1 0.1h0m6.7 0.0h0m6.7-0.0h0m-99.7 0.1h0m44.9 0.1h0m102.5 0.0h0m58.3-0.0h0m-182.8 0.1h0m153.1 0.0h0m-35.5 0.3h0m-88.8 0.0h0m117.3 0.2h0m-139.2 0.1h0m28.8 0.2h0m75.1-0.1h0m-68.3 0.5h0m61.5-0.1h0m35.2 0.0h0m-125.3 0.1h0m83.3 0.1h0m-47.8 0.1h0m41.0 0.2h0m-34.2 0.1h0m76.1-0.0h0m-48.7 0.1h0m-62.7 0.1h0m42.2-0.0h0m6.8 0.1h0m6.8-0.0h0m48.6 0.3h0m-97.5 0.2h0m90.5 0.3h0m-83.5 0.2h0m76.6 0.2h0m-69.6 0.2h0m62.7 0.2h0m-55.7 0.2h0" stroke="#3d5a9a" stroke-opacity="0.06" stroke-width="1.72" stroke-linecap="round" fill="none"/>
<path d="M1409.0 283.1h0m-36.0 0.3h0m-1339.9 0.1h0m58.0 1.0h0m1331.0 0.3h0m-1365.6 0.2h0m1328.9 0.1h0m-1365.3 0.1h0m1330.4 0.0h0m-1271.3 1.1h0m1356.2 0.2h0m-1391.6 0.3h0m-37.1 0.1h0m1321.8-0.0h0m69.5-0.1h0m-35.6 0.1h0m-1261.2 0.4h0m-34.3 0.8h0m1209.0-0.1h0m-1153.3 0.1h0m1184.5 0.3h0m-1276.3 0.1h0m1379.9 0.0h0m-70.8 0.1h0m34.5 0.1h0m-1231.0 0.1h0m-54.2 0.3h0m1166.7 0.1h0m-1092.2 0.1h0m1122.6 0.4h0m-1232.0 0.1h0m129.2 0.0h0m-72.4 0.1h0m1207.0 0.2h0m-1300.5 0.1h0m1406.1 0.0h0m-72.1 0.1h0m35.2 0.1h0m-1254.4 0.2h0m-55.2 0.3h0m1188.9 0.1h0m-1113.0 0.2h0m-111.5 0.4h0m1255.4-0.1h0m-1123.8 0.1h0m-73.7 0.1h0m-95.3 0.2h0m1325.2-0.0h0m-1136.6 0.2h0m1244.3-0.0h0m-190.6 0.1h0m117.1-0.0h0m35.8 0.0h0m-1278.2 0.3h0m90.7 0.1h0m-146.9 0.2h0m1211.5 0.1h0m-1046.0 0.1h0m-88.1 0.1h0m1085.1 0.2h0m-1198.7 0.2h0m219.7 0.0h0m1059.5-0.0h0m-1145.1 0.1h0m-75.1 0.1h0m1253.3 0.1h0m-1158.2 0.2h0m1073.7 0.1h0m119.3-0.0h0m36.5 0.0h0m-203.5 0.1h0m-1099.1 0.2h0m92.4-0.0h0m-149.7 0.2h0m1234.5 0.1h0m-1065.9 0.1h0m-89.8 0.2h0m1059.5 0.0h0m46.2 0.1h0m-997.6 0.1h0m-223.9 0.0h0m1303.5 0.0h0m-1166.9 0.2h0m-76.6 0.1h0m181.6 0.1h0m916.1 0.0h0m179.5-0.0h0m-1180.2 0.2h0m1215.7 0.0h0m37.2 0.0h0m-158.8 0.0h0m-48.5 0.1h0m-943.5 0.1h0m-176.4 0.1h0m94.2-0.0h0m-152.5 0.2h0m171.8 0.2h0m1086.2 0.0h0m-1006.3 0.1h0m-171.4 0.2h0m1079.7 0.0h0m-969.5 0.1h0m1016.6-0.0h0m-1244.7 0.1h0m1328.3 0.1h0m-1189.0 0.2h0m-78.0 0.1h0m185.1 0.0h0m1116.4 0.1h0m-182.9 0.1h0m-1019.8 0.1h0m1238.8-0.0h0m37.9 0.0h0m-1172.7 0.1h0m1010.9-0.1h0m-49.4 0.1h0m-1141.2 0.2h0m95.9-0.1h0m982.3 0.1h0m-1137.7 0.1h0m175.0 0.1h0m81.4-0.1h0m1025.4 0.1h0m-161.0 0.3h0m-1039.0 0.0h0m112.3 0.0h0m987.9-0.0h0m-908.9 0.1h0m956.8-0.0h0m85.2 0.1h0m-1102.6 0.2h0m891.8-0.0h0m-1080.4 0.2h0m79.5-0.1h0m185.8 0.2h0m1060.8-0.0h0m-186.4 0.1h0m-1039.1 0.1h0m106.0-0.0h0m1156.4-0.0h0m-126.3 0.1h0m-50.4 0.1h0m-1065.1 0.1h0m159.9 0.0h0m-257.7 0.1h0m200.7 0.0h0m898.0 0.1h0m-1159.3 0.0h0m178.4 0.1h0m1127.8 0.1h0m-1027.9 0.2h0m-194.9 0.1h0m114.4-0.1h0m944.3 0.0h0m62.3 0.1h0m48.9 0.1h0m86.8 0.1h0m-1123.5 0.1h0m908.8 0.1h0m-1019.9 0.1h0m189.3-0.1h0m-270.3 0.1h0m1351.3 0.1h0m-1140.8 0.1h0m874.2 0.0h0m76.7 0.0h0m227.4 0.1h0m-1286.3 0.0h0m183.9 0.1h0m782.5 0.0h0m191.2-0.0h0m-1031.8 0.2h0m825.3-0.0h0m155.2-0.0h0m-1085.4 0.1h0m-99.6 0.1h0m-61.8 0.0h0m340.0 0.1h0m841.4-0.0h0m-999.6 0.1h0m101.9 0.1h0m1047.4 0.1h0m-1129.5 0.2h0m153.6 0.0h0m-270.1 0.1h0m1078.9-0.0h0m63.5 0.1h0m-1006.6 0.2h0m79.7-0.1h0m976.7-0.0h0m88.5 0.1h0m-1340.7 0.2h0m1121.8-0.1h0m-1039.3 0.1h0m132.0 0.1h0m77.3 0.1h0m1085.2-0.0h0m-271.7 0.1h0m78.2 0.0h0m231.7 0.1h0m-1310.7 0.1h0m128.2 0.1h0m856.5 0.0h0m194.9 0.0h0m-976.3 0.2h0m765.9-0.0h0m158.2 0.0h0m-1106.0 0.1h0m917.9-0.1h0m14.7 0.0h0m-1034.2 0.2h0m226.1 0.1h0m914.8 0.0h0m-1018.6 0.1h0m176.6 0.1h0m994.5 0.1h0m-1150.9 0.1h0m100.8 0.1h0m70.7 0.1h0m809.1 0.0h0m-1099.4 0.0h0m1164.1 0.0h0m-1025.7 0.1h0m1076.4 0.0h0m-910.0 0.1h0m1000.1 0.0h0m-1068.7 0.1h0m-297.4 0.1h0m218.6-0.0h0m924.6-0.0h0m-1059.0 0.1h0m1319.1 0.1h0m-1166.1 0.2h0m76.5 0.0h0m812.7-0.1h0m79.7 0.1h0m-1099.5 0.1h0m1003.5 0.1h0m198.6 0.0h0m-259.5 0.0h0m14.6 0.1h0m15.0 0.0h0m15.5-0.1h0m161.2 0.0h0m-1127.0 0.1h0m126.9-0.0h0m74.2 0.1h0m-304.6 0.1h0m1162.5 0.1h0m-1037.9 0.1h0m123.3 0.2h0m72.0-0.0h0m998.1 0.1h0m-1172.8 0.0h0m189.6 0.2h0m-310.7 0.1h0m141.0 0.0h0m979.2-0.0h0m-879.5 0.1h0m84.3-0.0h0m861.1-0.0h0m-847.1 0.1h0m898.8 0.0h0m91.9 0.1h0m-1169.3 0.1h0m817.7 0.2h0m124.4-0.1h0m-1079.2 0.1h0m233.9 0.0h0m-78.0 0.1h0m906.1 0.1h0m-93.2 0.0h0m174.4 0.0h0m-1120.4 0.1h0m151.5 0.1h0m75.7-0.1h0m733.3 0.0h0m62.1-0.0h0m202.3 0.1h0m-249.6 0.1h0m31.0 0.0h0m-15.7 0.0h0m180.0 0.0h0m-1148.4 0.1h0m220.6 0.1h0m-73.4 0.1h0m932.0 0.1h0m-1057.6 0.0h0m214.2 0.1h0m-193.2 0.1h0m122.0 0.1h0m85.9-0.0h0m28.1-0.0h0m-13.9 0.1h0m-201.8 0.1h0m997.8 0.0h0m-158.6 0.0h0m225.8 0.0h0m52.7 0.1h0m-1097.9 0.0h0m98.7 0.1h0m734.6 0.2h0m126.8 0.0h0m-940.8 0.1h0m95.8 0.2h0m732.5 0.0h0m95.0 0.0h0m82.7 0.1h0m-987.3 0.0h0m824.3 0.1h0m-645.2 0.0h0m581.3 0.0h0m127.2-0.0h0m-794.6 0.1h0m746.5 0.0h0m31.6 0.0h0m-16.0 0.0h0m-986.8 0.1h0m149.9-0.0h0m1020.3-0.0h0m-930.1 0.1h0m57.4-0.0h0m-275.6 0.2h0m233.2 0.0h0m28.7 0.0h0m621.6-0.1h0m194.2-0.0h0m-932.1 0.1h0m102.1 0.0h0m-226.4 0.1h0m20.7 0.2h0m855.1 0.0h0m-734.4 0.1h0m896.1 0.0h0m-996.6 0.1h0m1065.1-0.1h0m-830.8 0.2h0m566.0-0.0h0m48.8 0.1h0m-829.5 0.1h0m97.6-0.0h0m861.1 0.0h0m-939.6 0.3h0m216.0-0.0h0m525.4 0.0h0m83.6-0.0h0m-730.3 0.1h0m87.8 0.0h0m739.3-0.0h0m-147.0 0.1h0m65.2 0.0h0m166.1-0.0h0m-101.6 0.1h0m-886.0 0.1h0m92.0 0.0h0m744.9-0.0h0m-686.5 0.1h0m702.4-0.0h0m16.4-0.0h0m-761.9 0.2h0m29.2 0.1h0m-118.5 0.1h0m104.1-0.0h0m613.4 0.1h0m34.4-0.0h0m-585.1 0.1h0m783.0 0.0h0m-762.9 0.2h0m-169.5 0.1h0m679.9-0.1h0m68.5 0.2h0m-871.4 0.0h0m1036.1 0.2h0m-1015.6 0.1h0m815.5 0.0h0m-696.1 0.1h0m119.3-0.0h0m846.6-0.0h0m-220.1 0.1h0m-845.3 0.1h0m976.9 0.2h0m-860.9 0.0h0m658.9 0.0h0m-755.4 0.1h0m186.0 0.1h0m34.1-0.0h0m20.0-0.0h0m495.4 0.0h0m105.2-0.1h0m-51.1 0.2h0m-677.0 0.1h0m743.4 0.1h0m83.4-0.1h0m-920.5 0.1h0m1006.4 0.0h0m-897.1 0.1h0m44.0-0.1h0m94.6 0.0h0m604.9 0.1h0m50.0-0.0h0m-33.8 0.1h0m16.7-0.0h0m-761.3 0.1h0m14.7-0.0h0m-120.7 0.1h0m671.5 0.1h0m59.6 0.0h0m35.0 0.0h0m-596.2 0.1h0m40.4 0.1h0m480.4 0.0h0m19.9 0.0h0m-692.8 0.1h0m219.1 0.1h0m730.9-0.1h0m-777.3 0.1h0m589.9 0.1h0m-745.3 0.2h0m629.1 0.0h0m80.2 0.0h0m-587.7 0.1h0m791.5 0.1h0m-153.2 0.1h0m-743.2 0.1h0m166.0 0.0h0m26.4-0.0h0m438.9 0.0h0m40.1 0.0h0m-769.8 0.2h0m189.5-0.0h0m559.9-0.0h0m226.3 0.1h0m-861.0 0.1h0m109.5 0.0h0m632.4-0.1h0m-612.0 0.1h0m458.6-0.1h0m101.3 0.0h0m-785.3 0.2h0m111.3 0.0h0m44.9-0.0h0m696.8 0.0h0m85.0-0.0h0m-811.2 0.1h0m14.9 0.0h0m137.2-0.0h0m-26.3 0.2h0m616.4-0.0h0m50.9 0.0h0m-901.3 0.1h0m684.3-0.0h0m182.5 0.0h0m17.0 0.0h0m-225.8 0.1h0m87.0-0.1h0m35.7 0.1h0m-607.5 0.2h0m530.6-0.0h0m20.2 0.0h0m-706.0 0.1h0m249.5 0.1h0m-53.2 0.1h0m411.0 0.0h0m-431.2 0.1h0m47.3 0.0h0m553.8-0.0h0m-759.5 0.0h0m264.3 0.0h0m350.5 0.0h0m26.2-0.0h0m81.8 0.1h0m-598.8 0.1h0m-106.8 0.1h0m222.1-0.0h0m343.2 0.0h0m78.1 0.0h0m114.0 0.0h0m-73.1 0.1h0m-429.8 0.2h0m335.9-0.0h0m73.0-0.1h0m-646.8 0.1h0m76.2 0.0h0m76.3 0.0h0m26.9-0.0h0m420.3 0.0h0m103.2 0.2h0m53.1-0.0h0m-739.9 0.1h0m95.5-0.0h0m429.8 0.0h0m-479.5 0.0h0m70.5 0.1h0m80.4-0.1h0m-181.0 0.1h0m15.2 0.0h0m519.3 0.2h0m52.7-0.0h0m152.9-0.1h0m86.6 0.1h0m-671.5 0.1h0m58.1-0.0h0m347.2 0.0h0m88.7 0.0h0m107.3-0.0h0m51.9 0.0h0m-680.0 0.1h0m374.0-0.0h0m183.1 0.0h0m87.7-0.0h0m17.3 0.0h0m-602.2 0.1h0m418.8-0.1h0m20.6 0.1h0m-719.4 0.1h0m158.0 0.0h0m460.7 0.1h0m52.4 0.2h0m-653.2 0.0h0m182.0 0.0h0m54.2-0.0h0m57.8 0.0h0m274.7 0.0h0m57.8-0.0h0m-465.2 0.1h0m612.5-0.0h0m-504.6 0.1h0m467.2-0.0h0m-719.0 0.2h0m108.8-0.0h0m83.3-0.0h0m383.8 0.1h0m79.6-0.0h0m41.6 0.2h0m-680.2 0.1h0m209.3-0.0h0m317.8 0.0h0m57.5-0.0h0m74.4-0.0h0m95.7-0.0h0m-677.1 0.2h0m189.2-0.0h0m344.3-0.0h0m-594.7 0.2h0m225.8-0.0h0m-179.3 0.2h0m92.3-0.0h0m27.4 0.0h0m368.8-0.0h0m164.6-0.0h0m54.1 0.1h0m-738.0 0.0h0m15.5 0.0h0m65.8-0.0h0m517.0 0.1h0m-495.9 0.1h0m81.9-0.0h0m303.0 0.0h0m57.3-0.0h0m26.4 0.1h0m183.1-0.0h0m-536.9 0.2h0m24.4-0.1h0m419.7-0.0h0m-204.7 0.1h0m55.1 0.1h0m106.8-0.1h0m152.1 0.1h0m-612.7 0.1h0m107.2-0.1h0m374.5 0.0h0m58.8 0.0h0m89.4 0.1h0m17.6 0.0h0m-737.8 0.1h0m63.1-0.0h0m61.2 0.0h0m288.3 0.0h0m57.0-0.0h0m53.4 0.1h0m-27.2 0.1h0m-113.7 0.1h0m-225.1 0.0h0m24.3 0.0h0m255.6 0.0h0m209.1 0.0h0m-624.2 0.1h0m21.0-0.0h0m55.3 0.0h0m106.6 0.0h0m403.1-0.1h0m-621.8 0.1h0m557.1-0.0h0m-411.3 0.1h0m273.5 0.1h0m56.7-0.1h0m-391.1 0.2h0m493.1 0.0h0m21.6-0.0h0m-693.1 0.1h0m595.7 0.0h0m27.0 0.0h0m-543.6 0.1h0m403.4-0.0h0m54.6 0.0h0m232.0-0.1h0m-752.3 0.2h0m255.2-0.0h0m24.2 0.1h0m-82.8 0.0h0m-180.3 0.1h0m31.2-0.0h0m182.7 0.0h0m72.5-0.0h0m242.7 0.0h0m167.8-0.0h0m-681.0 0.1h0m456.8 0.1h0m279.3 0.0h0m-669.1 0.1h0m42.4 0.0h0m484.4-0.1h0m-456.5 0.1h0m401.8-0.0h0m26.9 0.1h0m-139.5 0.0h0m54.3 0.1h0m-392.3 0.1h0m83.5 0.0h0m58.3 0.0h0m384.2-0.0h0m43.5-0.0h0m94.5 0.0h0m-498.2 0.1h0m381.6 0.0h0m-430.5 0.1h0m72.1 0.0h0m228.1-0.0h0m190.2 0.0h0m-246.3 0.1h0m81.9 0.1h0m-478.4 0.0h0m92.1 0.1h0m274.3-0.0h0m166.5-0.0h0m-112.5 0.1h0m84.8-0.1h0m-440.9 0.1h0m62.3-0.0h0m58.1 0.1h0m-24.8 0.1h0m48.6 0.0h0m23.0 0.0h0m213.5-0.0h0m174.2 0.0h0m38.8 0.0h0m-268.9 0.1h0m164.1-0.1h0m-567.7 0.1h0m36.4 0.0h0m337.1 0.0h0m111.5-0.0h0m-427.2 0.0h0m56.3 0.1h0m474.8-0.0h0m22.0-0.0h0m-462.4 0.1h0m278.7 0.0h0m84.4-0.1h0m27.5-0.0h0m-208.4 0.1h0m-345.5 0.1h0m101.3 0.1h0m202.5-0.0h0m399.3-0.0h0m-506.6 0.1h0m24.6-0.0h0m46.6-0.0h0m70.8 0.0h0m128.1 0.0h0m-513.6 0.1h0m16.1 0.1h0m15.6-0.1h0m260.0-0.0h0m65.9 0.0h0m20.9 0.0h0m49.7-0.0h0m29.9-0.0h0m252.1 0.0h0m-345.5 0.1h0m7.0 0.0h0m167.6 0.0h0m82.2 0.0h0m-437.6 0.1h0m34.2 0.1h0m347.7 0.0h0m27.4 0.0h0m173.3-0.1h0m-681.9 0.1h0m237.4 0.1h0m159.9-0.1h0m-354.0 0.1h0m514.8-0.0h0m44.4 0.0h0m-530.6 0.1h0m94.8-0.0h0m24.5 0.0h0m145.7-0.1h0m85.0 0.1h0m-399.7 0.1h0m192.6-0.0h0m151.8-0.0h0m213.4-0.0h0m-472.7 0.2h0m340.0 0.0h0m193.8-0.0h0m-499.7 0.1h0m103.3 0.1h0m228.9 0.0h0m55.4-0.0h0m-542.9 0.1h0m343.7-0.0h0m60.3 0.1h0m110.7-0.0h0m-420.9 0.3h0m94.3-0.0h0m24.3 0.0h0m23.5-0.0h0m29.7 0.0h0m107.6-0.1h0m55.0 0.0h0m-362.9 0.1h0m63.5-0.0h0m207.6 0.0h0m227.3-0.0h0m67.2 0.0h0m39.6 0.1h0m-507.7 0.1h0m290.6-0.0h0m-468.2 0.1h0m494.3 0.1h0m105.8-0.0h0m22.4 0.0h0m-585.4 0.1h0m250.2 0.0h0m123.9 0.0h0m110.2-0.0h0m28.0-0.0h0m-490.5 0.1h0m285.2-0.1h0m-359.1 0.2h0m395.7-0.0h0m-264.3 0.1h0m35.0 0.0h0m58.9 0.0h0m47.5-0.1h0m36.7 0.1h0m141.0-0.0h0m-465.9 0.1h0m265.0-0.0h0m102.6-0.0h0m-151.9 0.1h0m275.3 0.0h0m200.2 0.0h0m-572.5 0.0h0m213.4-0.0h0m28.4 0.0h0m240.3-0.0h0m-261.6 0.1h0m7.1 0.0h0m7.1-0.0h0m163.7-0.0h0m-113.1 0.1h0m30.4-0.0h0m109.6 0.0h0m27.9 0.0h0m-518.2 0.2h0m136.0 0.0h0m105.8-0.0h0m326.7 0.1h0m-467.4 0.0h0m512.7 0.0h0m-419.2 0.1h0m24.1 0.0h0m186.1-0.0h0m186.1 0.0h0m-546.8 0.1h0m125.6-0.0h0m173.4 0.1h0m86.7-0.0h0m-407.3 0.1h0m50.7 0.0h0m176.0 0.0h0m206.5-0.0h0m83.3-0.0h0m-165.5 0.1h0m109.0 0.1h0m-496.8 0.1h0m123.5-0.0h0m34.7-0.0h0m366.3-0.0h0m-284.1 0.3h0m109.8-0.0h0m-158.5 0.1h0m24.8-0.0h0m54.2 0.1h0m140.9-0.1h0m162.9 0.0h0m68.5 0.1h0m-206.6 0.1h0m-451.3 0.1h0m110.5 0.0h0m35.8 0.0h0m34.6 0.0h0m214.4-0.1h0m81.8 0.1h0m134.5-0.0h0m22.8 0.0h0m-552.8 0.0h0m276.3 0.0h0m145.8 0.0h0m27.6 0.0h0m28.6-0.1h0m-267.0 0.1h0m-255.0 0.1h0m224.8 0.1h0m-202.6 0.1h0m290.6-0.0h0m68.4 0.0h0m-204.8 0.1h0m24.7-0.0h0m61.2 0.0h0m87.8 0.1h0m193.2 0.0h0m-462.5 0.1h0m35.7-0.0h0m34.4 0.1h0m154.7-0.0h0m100.3-0.0h0m-136.4 0.1h0m162.0 0.1h0m-154.7 0.1h0m21.7-0.0h0m159.5 0.0h0m27.4 0.0h0m28.4-0.1h0m-461.8 0.1h0m180.2-0.0h0m51.7 0.0h0m7.2-0.0h0m274.0 0.0h0m-579.4 0.1h0m198.3 0.1h0m24.5-0.0h0m134.1 0.0h0m31.0-0.0h0m214.1 0.0h0m-463.4 0.1h0m-35.5 0.1h0m69.8 0.0h0m239.6 0.1h0m136.6 0.0h0m-504.2 0.1h0m208.9-0.0h0m184.1 0.1h0m-415.1 0.1h0m441.4 0.0h0m27.3 0.0h0m28.3-0.0h0m-445.3 0.2h0m275.1-0.1h0m-203.0 0.2h0m83.8 0.0h0m150.1-0.0h0m-269.3 0.1h0m94.8-0.0h0m364.9-0.0h0m-390.1 0.2h0m80.5-0.1h0m81.0 0.2h0m62.6 0.0h0m188.5-0.0h0m-163.2 0.2h0m110.6-0.1h0m-272.1 0.2h0m187.7-0.0h0m27.1 0.0h0m28.1-0.0h0m-458.2 0.2h0m29.4-0.0h0m71.8-0.1h0m83.3 0.1h0m135.1-0.0h0m-364.2 0.1h0m110.5-0.1h0m215.6-0.0h0m-121.2 0.1h0m-25.1 0.1h0m87.4 0.0h0m286.3 0.0h0m-530.9 0.1h0m296.1 0.0h0m69.7 0.1h0m-234.7 0.2h0m120.9-0.0h0m36.8 0.1h0m212.1-0.0h0m-404.9 0.1h0m118.0 0.0h0m120.1-0.0h0m56.9 0.0h0m26.0 0.1h0m55.0-0.0h0m-412.3 0.1h0m199.7 0.0h0m22.1 0.0h0m162.6-0.1h0m-254.1 0.2h0m76.8-0.0h0m7.4 0.0h0m-243.7 0.1h0m134.6 0.0h0m193.2 0.2h0m164.2-0.0h0m-418.3 0.1h0m34.9 0.0h0m82.5-0.0h0m105.1-0.0h0m-258.7 0.2h0m315.3 0.1h0m109.4-0.1h0m-483.9 0.1h0m400.5 0.0h0m26.8-0.0h0m27.8-0.0h0m-266.1 0.1h0m-24.8 0.1h0m56.3 0.0h0m90.1-0.0h0m-280.3 0.1h0m73.4-0.0h0m34.8 0.1h0m203.5-0.0h0m-274.4 0.1h0m437.7 0.0h0m-277.3 0.2h0m75.1-0.0h0m172.5 0.0h0m-278.9 0.1h0m170.2-0.0h0m80.1 0.1h0m-335.2 0.1h0m60.2 0.0h0m220.6-0.1h0m26.7-0.0h0m-410.6 0.2h0m30.0 0.0h0m37.2 0.0h0m70.5-0.0h0m89.1-0.0h0m60.0-0.0h0m38.8 0.0h0m-130.0 0.3h0m38.7-0.0h0m45.0-0.0h0m-168.2 0.2h0m160.7 0.1h0m78.5-0.1h0m108.1 0.0h0m-287.4 0.1h0m70.7-0.0h0m134.1 0.1h0m54.0-0.1h0m-354.6 0.1h0m173.9 0.0h0m7.5 0.0h0m7.5-0.0h0m53.7-0.0h0m84.5-0.0h0m-364.1 0.1h0m107.3-0.0h0m57.6 0.2h0m-84.0 0.2h0m-35.6 0.1h0m95.2 0.1h0m131.5-0.1h0m32.2-0.0h0m107.5 0.1h0m-403.3 0.1h0m106.8 0.0h0m57.4 0.0h0m157.1-0.0h0m53.7-0.0h0m-27.4 0.1h0m-267.1 0.3h0m175.4-0.0h0m-210.8 0.1h0m126.7 0.2h0m116.2-0.0h0m-279.6 0.1h0m131.5-0.1h0m-25.2 0.2h0m133.5 0.0h0m146.6-0.0h0m-81.6 0.1h0m53.4 0.0h0m-313.4 0.1h0m35.3 0.1h0m90.8-0.1h0m160.1 0.0h0m-191.8 0.3h0m92.9-0.1h0m-223.9 0.1h0m170.3 0.0h0m93.1-0.1h0m-157.5 0.3h0m110.3-0.0h0m-171.4 0.1h0m133.1-0.0h0m7.6 0.2h0m22.9-0.1h0m80.0 0.0h0m-208.6 0.0h0m113.3 0.1h0m7.6-0.0h0m140.8 0.0h0m-203.0 0.1h0m116.9 0.0h0m59.0-0.0h0m-261.6 0.4h0m60.8-0.0h0m-25.8 0.2h0m58.4-0.0h0m101.3 0.1h0m32.8 0.0h0m25.9 0.2h0m26.9-0.0h0m-272.1 0.2h0m60.5 0.1h0m32.5 0.0h0m85.7 0.1h0m-143.9 0.2h0m176.5 0.1h0m-110.6 0.1h0m70.1 0.1h0m-162.7 0.1h0m60.2 0.1h0m168.7-0.0h0m26.7 0.0h0m-155.3 0.1h0m54.6 0.1h0m-120.2 0.1h0m160.5 0.1h0m-87.1 0.1h0m39.0 0.0h0m-138.8 0.2h0m59.9 0.0h0m47.8-0.0h0m7.8 0.1h0m7.8 0.0h0m7.8-0.1h0m81.5 0.2h0m-178.0 0.2h0m144.5-0.0h0m-111.2 0.2h0m103.2 0.4h0m33.4 0.1h0m-161.9 0.1h0m33.1 0.0h0m87.4 0.4h0m-79.4 0.1h0m-33.0 0.2h0m145.7-0.0h0m-41.2 0.1h0m-63.5 0.1h0m55.6 0.3h0m-47.6 0.1h0m-40.8 0.1h0m48.7 0.1h0m31.8-0.0h0m49.0-0.0h0m-72.8 0.2h0m7.9 0.0h0m7.9-0.1h0" stroke="#3d5a9a" stroke-opacity="0.09" stroke-width="1.93" stroke-linecap="round" fill="none"/>
<path d="M-0.9 308.0h0m1429.8 0.3h0m-1404.6 0.7h0m1343.0 0.4h0m-1318.4 0.3h0m1355.1 0.3h0m-1331.2 0.3h0m1369.7 0.1h0m-1346.5 0.3h0m1248.1 0.1h0m-1333.0 0.3h0m1368.5 0.5h0m-1343.5 0.3h0m1285.4 0.2h0m95.4 0.1h0m-1356.5 0.3h0m23.7 0.5h0m1271.9 0.1h0m-56.4 0.2h0m-1301.9 0.1h0m109.5-0.0h0m22.4 0.3h0m21.7 0.2h0m1240.9 0.1h0m-1369.0 0.3h0m1309.8 0.2h0m97.2 0.1h0m-1382.3 0.3h0m24.1 0.5h0m1296.0 0.1h0m-1272.6 0.2h0m1215.1-0.1h0m-1192.3 0.3h0m22.2 0.2h0m1264.5 0.1h0m-1243.0 0.0h0m-152.1 0.2h0m173.0-0.1h0m1106.0 0.1h0m-1085.6 0.1h0m1141.4 0.1h0m-1309.5 0.4h0m1232.6 0.3h0m-1208.0 0.2h0m1320.6 0.1h0m-58.5 0.2h0m-1238.2 0.1h0m1163.6 0.2h0m-1140.3 0.0h0m22.6 0.2h0m21.9 0.2h0m1266.6 0.0h0m-1245.3 0.1h0m1054.5 0.1h0m-1033.8 0.1h0m1106.2 0.0h0m56.8 0.2h0m-1142.9 0.0h0m994.2 0.1h0m-974.6 0.2h0m-211.0 0.1h0m230.1 0.2h0m1025.9 0.1h0m-1231.0 0.2h0m1345.7 0.1h0m-1321.4 0.2h0m1261.7-0.1h0m-76.1 0.3h0m-1162.0 0.1h0m23.0 0.2h0m22.4 0.1h0m1290.7 0.1h0m-1268.9 0.1h0m1074.6 0.1h0m-1053.4 0.1h0m1127.3 0.1h0m-1106.7 0.1h0m1164.6 0.1h0m-1144.7 0.1h0m993.1-0.0h0m-1208.2 0.3h0m234.4-0.0h0m954.5 0.0h0m-18.7 0.2h0m-917.0 0.1h0m1026.6 0.0h0m-1254.3 0.2h0m246.1 0.1h0m1125.2 0.0h0m-60.8 0.2h0m-1285.7 0.1h0m239.1 0.1h0m-214.9 0.2h0m1184.1-0.1h0m-1160.7 0.3h0m22.8 0.1h0m22.2 0.1h0m21.5 0.1h0m1073.4 0.0h0m-1052.5 0.2h0m1127.8 0.1h0m-1107.4 0.1h0m1012.0 0.1h0m154.4-0.1h0m-1146.6 0.2h0m972.7 0.2h0m-953.5 0.1h0m880.5-0.0h0m17.5 0.2h0m36.5-0.0h0m-18.5 0.1h0m-897.3 0.1h0m1027.4-0.1h0m-1278.2 0.3h0m268.9 0.1h0m1128.5-0.0h0m-61.9 0.2h0m-1310.2 0.1h0m261.2 0.0h0m970.0 0.1h0m-1206.6 0.1h0m253.7 0.0h0m-229.8 0.1h0m23.2 0.1h0m22.6 0.1h0m21.9 0.1h0m1093.8 0.0h0m-1072.5 0.1h0m20.7 0.2h0m1128.5 0.0h0m-1108.3 0.2h0m899.5 0.0h0m111.6 0.0h0m157.3 0.0h0m-1148.9 0.2h0m897.3 0.1h0m74.3 0.0h0m-952.6 0.2h0m896.0-0.0h0m18.3 0.1h0m18.8-0.1h0m113.8 0.2h0m-1028.5 0.1h0m-274.0 0.2h0m291.9 0.1h0m1132.0 0.0h0m-63.1 0.1h0m-1051.5 0.1h0m-283.6 0.1h0m1064.7 0.1h0m189.8 0.0h0m-954.1 0.0h0m-275.5 0.1h0m291.9-0.1h0m-267.5 0.2h0m23.7 0.1h0m23.0 0.1h0m22.4 0.1h0m962.9-0.0h0m151.7 0.1h0m-1092.9 0.0h0m21.1 0.1h0m1149.9 0.1h0m-1129.4 0.0h0m857.8 0.1h0m58.9-0.1h0m113.7 0.1h0m-1010.4 0.1h0m1170.7-0.0h0m-256.4 0.1h0m-894.9 0.1h0m970.7-0.0h0m-57.6 0.1h0m18.7 0.1h0m19.2-0.0h0m-932.1 0.1h0m815.6 0.1h0m232.4 0.1h0m-1029.8 0.1h0m17.7 0.2h0m66.0 0.1h0m-48.8 0.1h0m16.7 0.1h0m16.2-0.0h0m745.8 0.0h0m275.5 0.0h0m-1360.4 0.2h0m1043.5-0.0h0m234.9 0.0h0m-1252.9 0.3h0m24.8 0.1h0m969.0-0.0h0m82.5-0.0h0m-1027.4 0.1h0m23.4 0.0h0m22.8 0.0h0m22.1 0.0h0m1113.6 0.0h0m-1092.1 0.1h0m20.9 0.1h0m874.1 0.0h0m60.0 0.0h0m216.8 0.1h0m-1130.5 0.0h0m1029.6 0.1h0m-856.0 0.1h0m-153.9 0.0h0m911.9-0.0h0m77.2 0.2h0m-969.9 0.1h0m790.0-0.0h0m121.2-0.0h0m19.0 0.1h0m19.6-0.0h0m-830.2 0.2h0m646.4 0.0h0m65.1-0.1h0m-812.5 0.1h0m1049.3 0.2h0m-1031.2 0.0h0m67.2 0.1h0m-49.7 0.1h0m17.1 0.1h0m16.6-0.0h0m759.9 0.1h0m-42.2 0.1h0m-71.6 0.3h0m310.9-0.0h0m-264.0 0.1h0m-23.9 0.1h0m108.0-0.0h0m-721.5 0.1h0m-325.5 0.2h0m23.9 0.0h0m23.2 0.0h0m22.6 0.0h0m21.9 0.0h0m912.0 0.0h0m200.9-0.0h0m-1091.6 0.1h0m951.8-0.0h0m-931.1 0.1h0m176.9 0.1h0m38.2-0.0h0m-195.0 0.1h0m753.4 0.0h0m175.8 0.0h0m99.8-0.0h0m-1009.5 0.2h0m805.0-0.0h0m-48.2 0.2h0m171.7-0.0h0m59.8-0.0h0m-969.4 0.1h0m102.9-0.0h0m658.7-0.0h0m66.4-0.0h0m101.0 0.0h0m19.9 0.0h0m-930.4 0.2h0m68.5 0.1h0m-50.6 0.1h0m17.4 0.1h0m16.9-0.0h0m71.6 0.1h0m927.1-0.0h0m-363.0 0.1h0m95.7 0.2h0m43.0-0.1h0m-679.7 0.2h0m510.4 0.0h0m53.3 0.1h0m47.8 0.1h0m-24.3 0.1h0m293.3 0.1h0m-183.3 0.1h0m-735.2 0.1h0m570.1 0.2h0m-501.4 0.1h0m622.2 0.0h0m-951.7 0.1h0m22.3 0.0h0m21.7 0.1h0m756.4-0.0h0m213.5-0.0h0m142.4 0.0h0m-1091.2 0.1h0m180.3 0.1h0m608.0-0.0h0m-767.8 0.1h0m198.7-0.0h0m22.9 0.1h0m618.6 0.1h0m106.7 0.0h0m101.7 0.1h0m-1028.7 0.0h0m771.2 0.0h0m-751.9 0.2h0m104.8 0.0h0m592.4-0.0h0m78.8-0.1h0m67.6 0.1h0m83.2 0.0h0m-713.7 0.1h0m774.7-0.0h0m-969.0 0.1h0m927.8-0.0h0m20.3 0.0h0m-878.3 0.1h0m578.3-0.0h0m-629.9 0.1h0m17.7 0.1h0m17.2-0.0h0m647.7 0.1h0m-574.8 0.1h0m672.3 0.1h0m43.8-0.0h0m-669.9 0.1h0m30.6 0.1h0m466.8-0.0h0m54.3 0.0h0m-574.4 0.1h0m623.2 0.1h0m-133.2 0.1h0m108.4-0.0h0m-137.4 0.2h0m249.6 0.0h0m-749.1 0.1h0m581.0 0.1h0m-442.7 0.0h0m-37.8 0.2h0m603.6-0.1h0m-634.0 0.2h0m479.9-0.0h0m217.6 0.0h0m-163.6 0.1h0m-803.2 0.1h0m183.7-0.0h0m535.6 0.0h0m-698.4 0.1h0m202.5 0.0h0m122.5-0.1h0m531.2 0.0h0m-186.6 0.1h0m136.6-0.0h0m158.8 0.0h0m-944.6 0.0h0m205.6 0.0h0m604.9 0.0h0m-790.8 0.1h0m106.8-0.0h0m140.6-0.0h0m463.0 0.0h0m149.2 0.0h0m84.8 0.1h0m-925.3 0.0h0m18.6 0.1h0m52.6-0.0h0m203.1 0.0h0m386.2 0.0h0m284.9-0.0h0m20.7 0.0h0m-929.5 0.1h0m17.5-0.0h0m143.9-0.0h0m516.1 0.1h0m-477.3 0.1h0m393.9-0.1h0m-502.3 0.2h0m685.1 0.0h0m-211.5 0.0h0m256.2-0.0h0m-575.5 0.1h0m455.1 0.0h0m-55.4 0.0h0m-506.8 0.1h0m586.6 0.0h0m25.2-0.0h0m-635.0 0.1h0m54.3 0.0h0m38.6 0.0h0m406.3-0.0h0m224.7 0.2h0m-763.4 0.1h0m178.0-0.0h0m331.1 0.0h0m82.9-0.0h0m125.5 0.2h0m-237.0 0.1h0m-339.6 0.1h0m312.1-0.0h0m107.5 0.1h0m55.0 0.1h0m166.7 0.0h0m-798.0 0.1h0m118.2-0.0h0m84.0 0.1h0m-115.0 0.0h0m150.6 0.1h0m307.9-0.0h0m160.8-0.1h0m-51.0 0.1h0m-615.1 0.1h0m640.2-0.0h0m136.7 0.1h0m-942.5 0.1h0m108.8-0.0h0m181.6-0.0h0m351.1 0.0h0m82.4 0.0h0m-534.5 0.1h0m686.6-0.0h0m-856.5 0.1h0m593.6 0.1h0m-574.7 0.1h0m53.6-0.0h0m160.1 0.0h0m83.7-0.0h0m249.9 0.0h0m376.7-0.0h0m-905.6 0.1h0m17.9-0.0h0m617.9 0.0h0m-321.2 0.1h0m375.9 0.0h0m-448.2 0.0h0m-77.7 0.1h0m440.9 0.1h0m186.3 0.0h0m-698.1 0.1h0m743.6 0.0h0m-122.7 0.1h0m-510.5 0.1h0m83.4-0.0h0m288.7 0.1h0m81.9-0.0h0m81.3 0.1h0m25.7-0.0h0m-514.4 0.1h0m72.0 0.1h0m197.9-0.0h0m27.2 0.0h0m-406.2 0.1h0m-23.6 0.1h0m508.8 0.0h0m229.0 0.1h0m-777.9 0.1h0m95.5-0.0h0m39.4 0.0h0m83.0 0.0h0m385.4-0.1h0m127.9 0.2h0m-549.7 0.0h0m337.4 0.0h0m-265.7 0.2h0m318.0 0.1h0m56.1-0.0h0m-192.7 0.1h0m55.2-0.1h0m307.4 0.1h0m-813.2 0.1h0m159.7 0.1h0m143.4-0.1h0m174.6 0.0h0m242.3 0.0h0m-303.6 0.0h0m251.6 0.0h0m-547.5 0.1h0m85.6-0.0h0m36.3-0.0h0m313.7 0.1h0m137.4-0.0h0m-652.3 0.1h0m47.7-0.1h0m-105.6 0.1h0m626.8 0.1h0m154.9 0.0h0m-487.7 0.1h0m33.8 0.0h0m-345.0 0.1h0m99.2 0.0h0m103.0 0.0h0m357.7-0.0h0m-595.8 0.1h0m18.2-0.0h0m459.7-0.0h0m-193.7 0.1h0m227.7-0.1h0m-191.5 0.1h0m246.4-0.0h0m80.9-0.0h0m55.7 0.0h0m-504.5 0.1h0m189.9 0.1h0m150.0-0.1h0m267.8 0.1h0m-559.9 0.1h0m108.5-0.0h0m114.5-0.0h0m383.3 0.1h0m-757.8 0.0h0m72.3 0.0h0m449.3-0.0h0m111.2-0.0h0m51.6 0.2h0m-486.8 0.0h0m104.2 0.0h0m106.7 0.1h0m166.8-0.1h0m82.9 0.0h0m-424.6 0.2h0m132.9-0.0h0m125.3 0.0h0m-379.2 0.0h0m47.6 0.1h0m149.6 0.0h0m-284.9 0.1h0m24.1-0.0h0m219.2-0.0h0m90.1 0.0h0m76.9-0.0h0m27.8-0.0h0m80.4 0.0h0m-559.3 0.1h0m614.7-0.0h0m-392.7 0.2h0m111.8-0.0h0m411.2 0.0h0m-378.8 0.1h0m-268.9 0.1h0m40.1 0.1h0m204.5-0.1h0m8.1 0.1h0m8.1-0.0h0m58.0-0.0h0m112.5 0.1h0m-343.8 0.0h0m73.0-0.0h0m381.2 0.0h0m-346.7 0.1h0m289.5-0.0h0m-598.4 0.0h0m733.6 0.0h0m-218.2 0.1h0m165.3-0.0h0m-433.7 0.2h0m212.2-0.0h0m247.6-0.1h0m-723.7 0.2h0m503.7-0.0h0m-444.8 0.1h0m120.7-0.1h0m47.3 0.0h0m214.3-0.0h0m142.4 0.0h0m55.0 0.1h0m-531.1 0.1h0m32.2 0.0h0m159.9-0.0h0m34.4 0.0h0m-351.5 0.0h0m101.1 0.2h0m469.5 0.0h0m-364.5 0.1h0m84.0-0.0h0m160.5 0.0h0m229.9-0.0h0m-427.2 0.1h0m106.6 0.1h0m263.8-0.1h0m-138.4 0.1h0m300.3 0.0h0m-460.0 0.1h0m215.6-0.0h0m-374.8 0.1h0m346.4-0.0h0m192.7-0.1h0m-644.7 0.1h0m381.6 0.1h0m289.0-0.0h0m26.7-0.0h0m-543.0 0.1h0m153.1-0.0h0m224.1-0.0h0m54.7 0.1h0m-512.5 0.1h0m127.6 0.0h0m36.7 0.0h0m35.4 0.2h0m42.3-0.0h0m57.7-0.0h0m42.8 0.0h0m84.9 0.0h0m-386.4 0.1h0m495.4-0.0h0m-626.4 0.0h0m41.6 0.0h0m137.8-0.0h0m390.5-0.0h0m-503.8 0.1h0m274.0 0.0h0m41.2-0.0h0m106.6 0.1h0m-261.8 0.0h0m233.5-0.0h0m-196.9 0.1h0m85.6-0.0h0m24.7-0.0h0m278.1 0.1h0m-353.2 0.1h0m58.7-0.1h0m8.2-0.0h0m-381.6 0.1h0m115.9-0.0h0m324.9 0.0h0m114.6-0.0h0m54.3 0.0h0m-453.0 0.1h0m48.3-0.0h0m488.5 0.0h0m26.5 0.1h0m-468.4 0.2h0m273.5 0.1h0m-237.1 0.1h0m35.0 0.0h0m310.4 0.0h0m-590.8 0.0h0m171.2 0.1h0m253.9-0.0h0m109.6 0.0h0m-411.7 0.1h0m266.5-0.0h0m63.7-0.0h0m-403.7 0.1h0m32.8 0.1h0m-57.1 0.1h0m590.2-0.1h0m-397.8 0.1h0m71.1 0.0h0m214.8 0.0h0m-323.5 0.1h0m73.8-0.0h0m303.7-0.1h0m-425.5 0.1h0m249.1-0.0h0m259.7 0.0h0m-657.0 0.2h0m432.6-0.0h0m57.0 0.1h0m-176.4 0.0h0m-205.6 0.1h0m353.0 0.0h0m136.7-0.0h0m-354.8 0.1h0m146.4-0.0h0m152.7-0.0h0m-466.5 0.2h0m82.2-0.1h0m47.8-0.0h0m73.4 0.1h0m43.1 0.0h0m58.8 0.2h0m241.3-0.0h0m-595.9 0.2h0m304.2-0.0h0m94.0-0.0h0m86.5-0.0h0m53.6 0.0h0m-513.4 0.1h0m66.0-0.0h0m49.4 0.0h0m205.8-0.0h0m-158.1 0.1h0m37.2-0.0h0m87.3 0.0h0m308.6-0.0h0m-360.0 0.1h0m76.6 0.0h0m117.0 0.0h0m-133.9 0.0h0m8.4 0.0h0m96.6-0.0h0m135.8 0.2h0m-55.4 0.1h0m-447.9 0.0h0m90.9 0.0h0m240.1 0.0h0m-289.4 0.1h0m96.8 0.0h0m37.1 0.1h0m35.7-0.0h0m316.3 0.1h0m-110.4 0.1h0m53.3 0.1h0m-370.4 0.1h0m258.7 0.0h0m-382.7 0.1h0m346.5-0.1h0m64.9 0.0h0m-336.5 0.0h0m96.4 0.1h0m72.4-0.1h0m-268.6 0.1h0m58.2-0.0h0m174.8 0.0h0m309.5 0.1h0m-55.0 0.1h0m-329.6 0.1h0m204.9 0.1h0m-85.6 0.0h0m-168.2 0.1h0m96.1 0.2h0m193.8-0.0h0m167.8-0.0h0m-324.8 0.1h0m215.1-0.1h0m-389.2 0.2h0m218.1-0.0h0m68.5-0.0h0m155.6-0.0h0m-342.9 0.1h0m260.4-0.0h0m-392.9 0.2h0m83.8 0.0h0m176.1 0.1h0m51.4 0.0h0m187.3 0.1h0m-319.0 0.0h0m36.6 0.0h0m52.4 0.0h0m34.3 0.0h0m53.0-0.0h0m88.2-0.0h0m-302.3 0.1h0m-98.9 0.1h0m50.4-0.0h0m184.0 0.0h0m8.6 0.1h0m8.6-0.0h0m119.3 0.2h0m-29.4 0.1h0m-159.2 0.2h0m241.2-0.0h0m-456.4 0.1h0m92.7 0.0h0m48.4 0.0h0m37.8-0.1h0m158.5 0.1h0m-294.9 0.1h0m436.9 0.2h0m-255.4 0.1h0m201.1-0.1h0m-323.1 0.1h0m48.2 0.1h0m37.6-0.0h0m140.9 0.0h0m36.9 0.0h0m-313.7 0.1h0m342.9-0.0h0m-385.1 0.2h0m101.5 0.2h0m121.5-0.1h0m214.3 0.1h0m-127.1 0.1h0m-258.6 0.2h0m97.9-0.1h0m37.4 0.0h0m44.8 0.1h0m115.3 0.1h0m-236.3 0.1h0m190.8-0.0h0m104.6-0.1h0m54.0 0.0h0m-219.6 0.2h0m135.6-0.0h0m-315.0 0.2h0m97.6 0.1h0m37.3-0.0h0m97.0-0.0h0m-43.6 0.1h0m-129.3 0.2h0m164.2-0.0h0m-26.2 0.1h0m8.7 0.1h0m8.7-0.0h0m62.7-0.0h0m89.8-0.0h0m-357.5 0.2h0m134.3 0.1h0m-37.1 0.1h0m229.3 0.0h0m-29.9 0.1h0m-237.8 0.1h0m-49.3 0.1h0m249.4 0.0h0m-115.6 0.2h0m-36.9 0.2h0m-38.3 0.1h0m280.1-0.0h0m-329.3 0.1h0m231.1 0.1h0m37.6 0.1h0m-135.4 0.0h0m165.2 0.1h0m-289.0 0.3h0m87.1-0.0h0m-38.1 0.1h0m83.8 0.0h0m80.0-0.0h0m-71.1 0.4h0m108.6 0.0h0m-46.3 0.0h0m-107.7 0.1h0m-38.0 0.1h0m92.3 0.1h0m129.3-0.0h0m-84.8 0.0h0m-35.6 0.2h0m26.7 0.0h0m-17.8 0.1h0m8.9 0.0h0m-72.0 0.1h0m135.9 0.0h0m-173.7 0.1h0m203.1 0.4h0m-156.3 0.1h0m117.8 0.1h0m-155.4 0.1h0m46.7 0.3h0m99.7 0.2h0m-90.6 0.3h0m81.5 0.2h0m-72.5 0.2h0m63.4 0.2h0m-54.4 0.1h0m45.3 0.2h0m-36.2 0.1h0m27.2 0.1h0m-18.1 0.0h0m9.1 0.0h0" stroke="#3d5a9a" stroke-opacity="0.13" stroke-width="2.14" stroke-linecap="round" fill="none"/>
<path d="M1419.2 331.9h0m-25.5 1.3h0m-1386.3 0.2h0m26.0 0.3h0m25.3 0.1h0m1310.2 0.5h0m63.6 0.3h0m-26.0 1.3h0m-1386.1 0.5h0m25.8 0.1h0m25.0 0.0h0m24.3-0.0h0m23.7-0.0h0m1262.0 0.4h0m-24.6 0.9h0m62.9 0.7h0m-86.8 0.1h0m-1325.7 0.5h0m146.9 0.0h0m22.1 0.0h0m-142.8 0.1h0m74.4-0.0h0m23.4-0.1h0m1178.3 0.0h0m-1250.7 0.1h0m24.8-0.0h0m1203.3 0.3h0m106.8 0.1h0m-128.7 0.2h0m103.7 0.7h0m-24.3 0.7h0m88.4-0.0h0m-1289.6 0.5h0m22.5-0.0h0m21.9 0.0h0m-67.7 0.1h0m88.9 0.0h0m1111.8-0.0h0m-1224.6 0.1h0m133.5 0.0h0m-209.3 0.1h0m26.0 0.0h0m25.3-0.0h0m1226.2 0.2h0m108.8 0.1h0m-131.2 0.1h0m-42.8 0.0h0m21.1 0.1h0m127.4 0.7h0m-24.8 0.7h0m-1201.0 0.5h0m22.3-0.0h0m-45.3 0.1h0m67.0-0.1h0m21.1 0.1h0m1111.8 0.0h0m-1223.5 0.1h0m132.1 0.0h0m960.4-0.1h0m-1116.9 0.1h0m176.3 0.0h0m-253.6 0.1h0m52.2-0.0h0m220.7 0.0h0m-246.4 0.0h0m1187.9 0.0h0m87.3 0.0h0m-66.4 0.2h0m177.3-0.0h0m-155.8 0.1h0m22.1-0.1h0m-115.2 1.0h0m222.9-0.1h0m-203.4 0.7h0m178.1 0.0h0m-1223.8 0.5h0m22.7-0.1h0m22.1-0.0h0m21.5 0.0h0m930.4 0.0h0m-1020.2 0.1h0m110.6-0.1h0m978.6-0.0h0m133.5 0.1h0m-1091.9 0.0h0m19.7 0.1h0m-174.6 0.0h0m193.7 0.0h0m18.5-0.0h0m-237.0 0.1h0m1158.8 0.0h0m-1184.3 0.1h0m1273.2-0.0h0m-1299.5 0.1h0m1231.8 0.1h0m44.5 0.1h0m-22.5 0.0h0m158.8 0.0h0m-272.9 0.1h0m19.3 0.7h0m-48.6 0.1h0m275.7-0.0h0m-304.0 0.5h0m96.8 0.0h0m181.5 0.2h0m-1043.1 0.1h0m-158.3 0.2h0m21.9-0.0h0m948.1-0.1h0m-992.5 0.1h0m65.6-0.0h0m20.6 0.1h0m76.7-0.0h0m899.9-0.0h0m-1086.1 0.1h0m129.5-0.0h0m19.5 0.0h0m18.9-0.0h0m-191.7 0.1h0m1245.9-0.1h0m-1270.5 0.2h0m1155.5-0.0h0m-120.5 0.2h0m211.1-0.0h0m-1271.4 0.0h0m1202.5 0.1h0m-1228.5 0.1h0m1273.8 0.0h0m-1300.5 0.1h0m1161.2-0.0h0m116.3 0.0h0m-219.9 0.1h0m27.2-0.0h0m96.0 0.7h0m-823.1 0.1h0m773.6 0.0h0m280.9 0.2h0m-1071.6 0.3h0m761.8-0.0h0m-55.0 0.1h0m27.0 0.1h0m126.5-0.0h0m-878.0 0.3h0m1063.0 0.1h0m-235.8 0.1h0m-966.1 0.2h0m21.6-0.0h0m99.2-0.1h0m917.0 0.1h0m-1060.1 0.0h0m65.0-0.0h0m20.4 0.0h0m19.8 0.0h0m19.2-0.0h0m98.0 0.0h0m-245.4 0.1h0m-23.6 0.1h0m896.2 0.1h0m349.1-0.1h0m-1269.6 0.1h0m1029.7 0.0h0m122.8-0.1h0m-1177.5 0.2h0m971.4 0.0h0m228.1 0.0h0m70.2-0.0h0m-243.8 0.1h0m77.7-0.1h0m-1129.5 0.1h0m327.7 0.1h0m696.3-0.1h0m224.0 0.0h0m23.4-0.0h0m-1298.0 0.2h0m337.3 0.6h0m650.4-0.0h0m137.8 0.0h0m50.4-0.0h0m-795.5 0.3h0m633.0 0.1h0m-693.6 0.2h0m86.1-0.1h0m690.2 0.0h0m-56.0 0.1h0m27.5 0.1h0m128.9 0.0h0m-243.6 0.1h0m-651.1 0.1h0m842.9 0.2h0m-861.3 0.1h0m-38.7 0.2h0m19.6-0.0h0m713.3 0.0h0m240.1 0.0h0m-1057.6 0.1h0m22.1-0.0h0m21.4-0.0h0m20.8 0.0h0m139.7 0.0h0m-226.7 0.1h0m-23.4 0.1h0m889.1 0.1h0m-913.2 0.1h0m1024.5-0.0h0m125.1 0.0h0m119.4 0.0h0m-943.3 0.1h0m-350.4 0.1h0m325.1-0.0h0m639.3-0.0h0m-86.5 0.2h0m113.9-0.0h0m28.3-0.0h0m79.2-0.0h0m97.6 0.1h0m71.6 0.0h0m-986.2 0.1h0m937.8 0.0h0m23.9 0.0h0m-341.5 0.3h0m-637.4 0.3h0m803.3-0.0h0m51.4-0.0h0m-725.7 0.2h0m533.8-0.1h0m-567.7 0.2h0m-51.1 0.1h0m645.0 0.0h0m84.2 0.1h0m-791.0 0.1h0m620.8-0.0h0m-533.1 0.1h0m646.2-0.1h0m28.1 0.0h0m131.4 0.1h0m-911.7 0.1h0m174.6 0.1h0m488.9 0.0h0m195.4 0.1h0m-877.7 0.0h0m-39.4 0.2h0m20.0-0.1h0m-83.6 0.2h0m21.8-0.0h0m21.2-0.0h0m684.8-0.0h0m82.7 0.1h0m244.7-0.0h0m-1077.6 0.1h0m207.9-0.1h0m77.3-0.0h0m-308.4 0.2h0m351.6 0.1h0m530.6 0.0h0m113.4-0.0h0m-198.8 0.1h0m326.3-0.0h0m-213.9 0.1h0m-625.7 0.1h0m653.6-0.0h0m28.8-0.1h0m80.7-0.0h0m-788.9 0.1h0m888.4 0.1h0m-932.0 0.1h0m607.0 0.0h0m-459.8 0.1h0m808.4-0.0h0m-851.5 0.1h0m445.7 0.2h0m82.1 0.1h0m-649.5 0.2h0m818.5-0.1h0m52.4 0.0h0m-696.6 0.1h0m501.1 0.1h0m-440.9 0.1h0m301.0 0.0h0m55.0-0.0h0m111.6 0.2h0m-720.2 0.1h0m63.0-0.1h0m52.0 0.0h0m34.5-0.0h0m656.5-0.0h0m-58.2 0.2h0m28.6 0.0h0m-574.5 0.0h0m430.6 0.0h0m-543.2 0.1h0m821.0-0.1h0m-929.0 0.1h0m280.6-0.0h0m313.8 0.1h0m-613.7 0.1h0m695.2 0.0h0m199.1-0.1h0m-914.2 0.2h0m269.2 0.0h0m-289.5 0.1h0m237.2-0.0h0m-279.8 0.1h0m21.6-0.1h0m1031.4 0.0h0m-886.3 0.1h0m225.3-0.0h0m272.8 0.0h0m138.9-0.0h0m-84.3 0.1h0m-473.9 0.1h0m700.3 0.0h0m-604.1 0.1h0m488.5 0.0h0m-540.6 0.3h0m568.1-0.0h0m57.8 0.0h0m82.3 0.0h0m-596.3 0.1h0m341.8-0.0h0m142.9 0.0h0m-692.2 0.2h0m-44.5 0.1h0m70.7-0.0h0m131.2-0.0h0m335.5-0.0h0m-61.8 0.3h0m142.8-0.1h0m-318.2 0.1h0m-194.2 0.2h0m43.9-0.0h0m356.0-0.1h0m-294.5 0.2h0m49.9-0.1h0m382.6 0.1h0m-661.8 0.1h0m578.1-0.0h0m255.9-0.0h0m53.4 0.0h0m-199.2 0.2h0m-510.6 0.2h0m149.7-0.1h0m475.6 0.1h0m-821.4 0.1h0m64.2 0.0h0m193.2-0.1h0m49.7 0.0h0m195.6 0.0h0m117.4-0.0h0m113.7-0.0h0m-169.7 0.1h0m197.9-0.0h0m29.1 0.0h0m-674.1 0.1h0m-136.2 0.1h0m171.3-0.1h0m380.6 0.1h0m111.7 0.1h0m-553.5 0.1h0m114.7 0.0h0m61.2 0.0h0m88.0-0.0h0m517.8 0.0h0m-911.4 0.0h0m-20.1 0.1h0m375.2-0.0h0m-396.0 0.1h0m666.2 0.0h0m83.1-0.0h0m-176.4 0.1h0m-446.5 0.2h0m115.3 0.1h0m53.3-0.1h0m61.0 0.1h0m87.7 0.0h0m331.8-0.0h0m144.8 0.1h0m-286.3 0.2h0m-427.2 0.1h0m198.6-0.0h0m197.6 0.0h0m86.7-0.0h0m112.9-0.0h0m28.0 0.2h0m58.8-0.0h0m-584.6 0.1h0m258.9-0.0h0m295.8 0.1h0m-406.6 0.1h0m-344.1 0.1h0m256.8-0.1h0m348.3 0.1h0m-559.8 0.1h0m97.6-0.0h0m-70.8 0.1h0m133.7 0.1h0m100.2 0.0h0m241.7 0.0h0m-194.3 0.1h0m92.3-0.1h0m184.5 0.0h0m-363.8 0.2h0m218.3 0.0h0m347.0-0.0h0m-849.9 0.1h0m126.3 0.1h0m407.5-0.0h0m140.6-0.0h0m-503.4 0.1h0m62.7 0.0h0m147.1 0.1h0m73.9 0.0h0m134.5 0.1h0m-255.5 0.1h0m367.7-0.0h0m-720.1 0.2h0m837.0-0.1h0m-524.0 0.2h0m95.9-0.0h0m339.0-0.1h0m-682.5 0.1h0m398.8 0.0h0m312.4 0.0h0m29.7-0.0h0m-606.5 0.1h0m62.5-0.0h0m369.7 0.1h0m-651.3 0.1h0m437.4 0.0h0m94.3-0.0h0m-392.9 0.1h0m335.6-0.1h0m119.9 0.1h0m-419.6 0.1h0m206.5-0.1h0m65.5 0.0h0m18.5 0.0h0m-352.9 0.1h0m343.7-0.0h0m220.4 0.1h0m-384.8 0.1h0m50.5 0.0h0m220.5-0.1h0m-333.3 0.1h0m472.9 0.1h0m-634.7 0.1h0m323.3 0.0h0m131.7 0.0h0m95.1 0.0h0m111.4 0.1h0m-489.6 0.1h0m62.1-0.1h0m-116.4 0.1h0m166.7 0.0h0m404.8 0.0h0m88.5 0.1h0m-203.6 0.2h0m143.6-0.1h0m29.5 0.0h0m-665.2 0.1h0m250.8 0.0h0m152.8 0.0h0m31.7-0.1h0m-535.2 0.2h0m463.6-0.0h0m-263.8 0.1h0m62.0 0.0h0m-215.5 0.1h0m265.6 0.1h0m304.8-0.1h0m-543.2 0.1h0m72.1 0.0h0m214.5 0.0h0m-150.4 0.2h0m244.5 0.0h0m103.9 0.0h0m84.1-0.1h0m-660.8 0.1h0m290.0 0.0h0m98.0 0.2h0m124.4 0.0h0m174.7-0.0h0m-558.5 0.1h0m211.2-0.0h0m-165.6 0.1h0m63.9-0.0h0m225.1-0.0h0m80.7-0.0h0m170.6 0.0h0m-114.3 0.2h0m142.6-0.0h0m-695.4 0.1h0m252.3-0.0h0m97.7-0.1h0m374.7 0.1h0m-318.3 0.1h0m-205.8 0.2h0m158.7-0.1h0m-57.3 0.1h0m95.0 0.1h0m180.4-0.0h0m-522.3 0.1h0m81.9-0.1h0m231.8 0.0h0m18.8 0.1h0m67.8-0.0h0m-427.4 0.1h0m350.2-0.1h0m-286.6 0.2h0m170.5-0.0h0m257.1-0.0h0m-308.6 0.2h0m392.1-0.1h0m-116.0 0.1h0m-504.5 0.1h0m164.9 0.0h0m164.5-0.1h0m317.4 0.1h0m-183.2 0.3h0m96.9 0.0h0m113.5-0.1h0m-435.6 0.1h0m51.3-0.0h0m412.5 0.1h0m-582.4 0.2h0m55.3-0.0h0m164.0-0.0h0m-255.6 0.2h0m443.6 0.1h0m57.8-0.1h0m-556.1 0.1h0m219.6-0.0h0m205.7 0.0h0m40.7-0.0h0m-309.6 0.2h0m114.2-0.1h0m49.2 0.1h0m-292.1 0.1h0m553.5-0.0h0m-480.0 0.2h0m65.3 0.2h0m62.9-0.1h0m99.9 0.0h0m86.3-0.1h0m191.6-0.0h0m-326.9 0.2h0m241.2-0.0h0m112.7 0.1h0m-569.1 0.2h0m273.8 0.0h0m67.1 0.0h0m50.1-0.1h0m-279.5 0.2h0m-65.1 0.1h0m127.8 0.0h0m248.9-0.1h0m57.4 0.2h0m-255.6 0.1h0m58.4-0.1h0m47.9 0.0h0m-209.7 0.3h0m171.3-0.1h0m28.8 0.0h0m-19.2 0.1h0m9.6 0.0h0m-366.4 0.1h0m27.6-0.1h0m210.9 0.1h0m321.3-0.1h0m-448.8 0.1h0m324.5-0.0h0m-370.8 0.2h0m224.2-0.0h0m211.5 0.0h0m85.1 0.0h0m-399.6 0.1h0m281.4 0.2h0m145.0 0.0h0m-491.1 0.1h0m127.1 0.0h0m177.3 0.1h0m-229.5 0.0h0m102.6-0.0h0m225.7 0.1h0m-449.2 0.3h0m56.4-0.0h0m-93.4 0.1h0m168.1 0.1h0m52.0-0.1h0m50.1 0.0h0m107.5 0.1h0m133.3-0.1h0m-91.8 0.1h0m32.9-0.0h0m-348.3 0.2h0m432.9 0.1h0m-256.6 0.1h0m-101.8 0.1h0m-130.7 0.1h0m182.5-0.0h0m137.9 0.0h0m-253.9 0.2h0m175.7 0.1h0m186.0 0.0h0m-117.7 0.2h0m-347.4 0.0h0m177.6 0.0h0m220.9-0.1h0m-284.8 0.2h0m115.6-0.0h0m59.5-0.0h0m142.4 0.1h0m-383.9 0.0h0m290.3 0.0h0m-39.1 0.1h0m191.1 0.0h0m-181.3 0.1h0m9.8 0.0h0m9.8-0.1h0m-203.9 0.2h0m63.8 0.0h0m51.5 0.1h0m-181.4 0.2h0m330.7-0.1h0m-254.2 0.3h0m320.4 0.0h0m-256.9 0.2h0m51.3 0.1h0m171.9-0.0h0m-352.7 0.2h0m76.3 0.1h0m233.9 0.0h0m100.6 0.2h0m-271.1 0.1h0m51.1-0.0h0m-180.2 0.2h0m76.1 0.1h0m213.6 0.1h0m-99.5 0.2h0m141.8-0.0h0m33.5 0.0h0m-226.2 0.2h0m-52.8 0.1h0m113.7 0.2h0m79.6-0.1h0m-183.0 0.5h0m52.6-0.0h0m60.7-0.0h0m59.7-0.0h0m52.0 0.2h0m-101.8 0.1h0m39.8 0.0h0m-29.9 0.2h0m125.2-0.0h0m-115.2 0.1h0m10.0-0.1h0m-142.8 0.2h0m52.5 0.0h0m152.1 0.4h0m-194.3 0.3h0m52.3-0.0h0m175.1 0.3h0m-43.3 0.2h0m-121.7 0.1h0m10.1 0.5h0m101.4 0.1h0m-91.3 0.4h0m81.1 0.1h0m-71.0 0.3h0m60.9 0.1h0m-50.7 0.2h0m10.1 0.2h0m30.4-0.1h0m-20.3 0.2h0m10.1-0.0h0" stroke="#3d5a9a" stroke-opacity="0.18" stroke-width="2.36" stroke-linecap="round" fill="none"/>
<path d="M1432.8 354.9h0m-26.7 0.7h0m-1345.2 1.0h0m-26.2 0.2h0m-27.0 0.2h0m1411.5 1.6h0m-1295.0 0.4h0m-24.5 0.2h0m1293.1-0.1h0m-1318.3 0.3h0m1292.6-0.0h0m-25.0 0.1h0m-1293.5 0.1h0m-26.7 0.2h0m161.9 1.6h0m-22.9 0.1h0m1271.8-0.0h0m-1295.3 0.2h0m1144.4 0.1h0m-1168.7 0.1h0m1292.6 0.1h0m-1317.6 0.2h0m1217.1-0.0h0m74.3 0.1h0m-50.3 0.1h0m24.8 0.1h0m-1291.6 0.0h0m-26.5 0.3h0m-27.2 0.3h0m1238.2 0.6h0m-1028.5 0.6h0m1051.0 0.0h0m-1073.0 0.1h0m-22.7 0.1h0m-23.3 0.2h0m-24.0 0.2h0m1086.7 0.1h0m79.5-0.1h0m-1190.9 0.3h0m1214.7 0.1h0m102.5-0.1h0m-1342.7 0.3h0m1264.7 0.0h0m51.2-0.0h0m-26.0 0.1h0m-1316.2 0.2h0m1184.7 0.1h0m-1211.7 0.2h0m1233.9 0.6h0m-984.6 0.3h0m928.7-0.0h0m-949.2 0.2h0m-21.1 0.1h0m-21.8 0.1h0m1070.9 0.0h0m-1093.4 0.1h0m982.0 0.1h0m-1005.1 0.1h0m-23.8 0.2h0m1082.9 0.1h0m81.0-0.0h0m-1188.3 0.2h0m1212.6 0.2h0m104.4-0.0h0m-1342.2 0.1h0m1262.8 0.2h0m25.7 0.1h0m26.5-0.1h0m-1340.9 0.1h0m1125.1 0.1h0m55.4 0.1h0m-1207.2 0.2h0m1119.5 0.2h0m-852.9 0.1h0m-294.1 0.1h0m1115.7 0.1h0m-841.3 0.2h0m983.0 0.0h0m-1003.3 0.2h0m946.3-0.0h0m-967.3 0.2h0m-21.5 0.1h0m-22.2 0.1h0m1091.3-0.0h0m-1114.1 0.2h0m1000.7-0.0h0m-1024.2 0.2h0m992.1 0.2h0m87.0 0.0h0m-1103.4 0.1h0m955.3 0.1h0m30.0 0.0h0m200.6-0.1h0m-1210.9 0.3h0m230.7 0.0h0m1004.9 0.1h0m-1261.3 0.2h0m1286.8 0.0h0m53.2 0.1h0m-219.9 0.1h0m193.0 0.0h0m-1075.5 0.1h0m939.0-0.0h0m-1202.9 0.1h0m1113.5 0.3h0m-1140.8 0.1h0m271.7-0.0h0m747.7 0.1h0m89.5 0.1h0m-60.7 0.0h0m29.8 0.0h0m-826.4 0.1h0m88.0-0.0h0m913.7 0.1h0m-58.0 0.2h0m-964.3 0.0h0m-21.3 0.2h0m-22.0 0.2h0m-22.6 0.2h0m1112.0-0.0h0m-955.6 0.1h0m840.0-0.0h0m-1019.7 0.1h0m-24.0 0.2h0m890.5 0.0h0m120.5-0.0h0m88.7 0.0h0m-180.6 0.1h0m264.7-0.1h0m-1208.5 0.2h0m973.4-0.1h0m30.6-0.0h0m-794.3 0.2h0m1024.0 0.1h0m-1259.1 0.1h0m283.1 0.1h0m1002.0 0.1h0m-169.9 0.0h0m224.1 0.1h0m-1365.4 0.0h0m242.0 0.0h0m95.5 0.0h0m861.3-0.0h0m139.1-0.0h0m-1364.9 0.4h0m955.1-0.0h0m179.6-0.0h0m-885.6 0.1h0m733.5 0.1h0m28.4 0.1h0m91.2-0.0h0m-873.6 0.1h0m89.6 0.0h0m722.1-0.1h0m30.4-0.0h0m178.5 0.1h0m-59.1 0.2h0m-982.6 0.0h0m-21.7 0.2h0m-22.4 0.2h0m183.9 0.1h0m28.1 0.0h0m898.1 0.0h0m-1133.1 0.1h0m777.4-0.0h0m238.0 0.0h0m-856.0 0.1h0m-183.1 0.2h0m296.7 0.0h0m530.8-0.0h0m178.3 0.2h0m90.4 0.0h0m-1120.6 0.1h0m879.2-0.1h0m327.1 0.1h0m-298.9 0.1h0m90.6 0.0h0m-61.4 0.1h0m30.2 0.0h0m-778.2 0.1h0m-213.7 0.0h0m1257.1 0.1h0m-994.6 0.2h0m-288.5 0.0h0m345.2 0.1h0m37.7-0.0h0m753.4 0.0h0m-916.4 0.1h0m975.0 0.0h0m-329.1 0.1h0m-548.6 0.1h0m133.6 0.2h0m651.2 0.0h0m-902.4 0.1h0m692.3-0.0h0m27.1 0.2h0m-525.4 0.1h0m553.5 0.1h0m121.9-0.1h0m-890.2 0.1h0m282.6 0.1h0m514.6-0.0h0m30.0 0.0h0m31.0-0.0h0m181.9 0.0h0m-948.7 0.0h0m559.9 0.1h0m328.6 0.0h0m-1001.3 0.1h0m198.8 0.0h0m-220.9 0.2h0m336.7 0.0h0m-359.5 0.2h0m291.9-0.1h0m450.8 0.1h0m388.5 0.0h0m-943.8 0.1h0m823.8 0.0h0m-1034.6 0.1h0m162.4-0.0h0m77.1-0.0h0m154.1 0.0h0m398.6 0.2h0m-816.3 0.1h0m1024.9 0.1h0m92.1-0.0h0m-766.6 0.0h0m492.8 0.1h0m-540.9 0.0h0m126.0 0.0h0m326.5 0.1h0m116.2 0.0h0m121.0-0.0h0m-824.8 0.2h0m732.5-0.1h0m29.7 0.0h0m30.8-0.0h0m-599.1 0.3h0m77.7-0.0h0m64.6 0.2h0m-286.4 0.1h0m864.0-0.0h0m-933.8 0.1h0m632.5-0.1h0m-504.8 0.2h0m865.9-0.1h0m-827.5 0.1h0m136.1-0.0h0m-77.5 0.1h0m-125.4 0.1h0m-119.8 0.1h0m387.1-0.0h0m291.7-0.0h0m240.7-0.0h0m-336.0 0.1h0m34.1 0.0h0m-284.4 0.1h0m-77.3 0.1h0m449.5-0.0h0m180.4 0.0h0m-907.1 0.1h0m93.1 0.1h0m661.2-0.0h0m120.1 0.0h0m-655.6 0.1h0m564.0-0.0h0m29.5 0.0h0m30.5-0.0h0m155.6 0.0h0m-1020.3 0.1h0m440.6-0.0h0m-130.8 0.1h0m77.1 0.0h0m-409.5 0.2h0m225.1 0.0h0m482.9-0.0h0m-69.2 0.1h0m-295.8 0.2h0m130.4 0.0h0m533.6 0.0h0m-839.4 0.1h0m106.5 0.0h0m145.8-0.0h0m252.8-0.0h0m-554.5 0.1h0m78.5 0.1h0m536.7-0.0h0m-379.7 0.2h0m618.7 0.1h0m-488.7 0.1h0m276.2 0.0h0m-329.4 0.1h0m198.0-0.1h0m310.5 0.1h0m-840.5 0.1h0m137.7-0.0h0m48.9-0.0h0m79.4 0.0h0m422.8-0.0h0m119.3 0.1h0m-90.9 0.1h0m29.3 0.0h0m30.3-0.0h0m-178.0 0.1h0m-203.1 0.1h0m168.1 0.1h0m-287.0 0.1h0m65.8-0.0h0m177.1 0.0h0m-540.0 0.1h0m71.1-0.1h0m146.8 0.1h0m-87.9 0.3h0m296.3-0.1h0m218.1 0.0h0m-336.6 0.1h0m-328.9 0.1h0m122.1 0.0h0m68.1-0.0h0m204.3 0.0h0m542.5-0.1h0m-687.1 0.1h0m300.8-0.0h0m-93.0 0.2h0m234.0 0.0h0m210.9 0.0h0m-924.3 0.1h0m361.3 0.0h0m255.0-0.0h0m34.8 0.1h0m-556.2 0.1h0m187.6 0.1h0m279.5-0.1h0m178.5 0.0h0m150.5-0.0h0m-464.4 0.1h0m63.0-0.0h0m279.0 0.1h0m90.3-0.0h0m-61.2 0.1h0m30.1-0.0h0m-604.8 0.2h0m328.7 0.0h0m-179.7 0.0h0m128.0 0.0h0m-206.6 0.2h0m-109.3 0.1h0m326.3-0.0h0m31.0-0.0h0m-104.1 0.1h0m83.5-0.0h0m10.3 0.0h0m145.2 0.0h0m-70.5 0.0h0m-530.4 0.1h0m50.3 0.1h0m178.8 0.1h0m78.4-0.1h0m-227.4 0.2h0m78.8 0.0h0m406.2-0.0h0m-192.6 0.2h0m254.5-0.0h0m-386.9 0.1h0m-260.2 0.2h0m338.3-0.1h0m201.7 0.1h0m316.4-0.1h0m-182.4 0.1h0m149.4 0.1h0m-683.1 0.1h0m49.9 0.1h0m80.9-0.0h0m132.0 0.0h0m298.8-0.1h0m89.6 0.0h0m-60.7 0.1h0m29.9-0.0h0m-708.9 0.3h0m297.4-0.1h0m261.0-0.0h0m-35.7 0.2h0m-292.4 0.0h0m247.5 0.0h0m-115.9 0.1h0m-212.4 0.1h0m-89.6 0.2h0m248.0 0.1h0m-277.6 0.1h0m210.7-0.0h0m343.0 0.0h0m-484.3 0.1h0m272.5-0.0h0m94.8 0.0h0m-306.5 0.2h0m-180.1 0.1h0m271.5 0.0h0m130.8 0.0h0m129.0 0.0h0m99.0-0.1h0m-292.1 0.1h0m137.9 0.0h0m90.7 0.1h0m211.8 0.0h0m-587.4 0.1h0m466.7-0.1h0m88.9 0.1h0m-334.0 0.0h0m273.7 0.0h0m29.6 0.0h0m-433.8 0.1h0m183.1-0.1h0m-334.9 0.2h0m292.8 0.0h0m-74.5 0.1h0m85.1 0.0h0m21.1-0.1h0m-364.1 0.1h0m111.4 0.0h0m242.1-0.1h0m-413.1 0.2h0m489.3 0.0h0m71.8 0.0h0m-299.0 0.0h0m-231.7 0.2h0m151.9 0.0h0m146.1 0.0h0m-217.6 0.2h0m413.9-0.0h0m63.1 0.2h0m-314.6 0.0h0m-79.7 0.1h0m145.7 0.2h0m139.5-0.0h0m136.5 0.1h0m-543.9 0.1h0m133.3 0.1h0m439.0-0.0h0m29.4 0.0h0m30.4-0.1h0m-722.4 0.1h0m141.1-0.0h0m161.9-0.0h0m65.8 0.2h0m200.2 0.0h0m-82.1 0.1h0m-252.2 0.0h0m298.0 0.0h0m-218.7 0.2h0m-282.8 0.1h0m30.1-0.1h0m91.3 0.0h0m227.1 0.0h0m-133.7 0.1h0m230.3 0.1h0m-374.3 0.1h0m493.5-0.0h0m-205.0 0.2h0m-65.4 0.1h0m-161.1 0.1h0m93.2 0.0h0m208.4 0.1h0m157.1 0.1h0m-221.5 0.1h0m120.7-0.0h0m36.1 0.2h0m-103.2 0.1h0m196.1-0.0h0m-475.6 0.1h0m93.0-0.0h0m143.6-0.0h0m268.2 0.0h0m-344.1 0.1h0m86.7 0.1h0m21.5-0.0h0m-330.5 0.1h0m319.8-0.1h0m-360.2 0.2h0m113.5 0.2h0m92.8 0.0h0m231.5 0.1h0m-164.0 0.1h0m237.2 0.1h0m-386.1 0.3h0m92.5 0.1h0m256.3 0.0h0m-421.7 0.0h0m232.7 0.1h0m253.3 0.1h0m-401.8 0.1h0m290.6 0.1h0m-415.1 0.2h0m216.8-0.0h0m337.4-0.0h0m-418.4 0.2h0m148.0-0.0h0m-232.1 0.1h0m352.4 0.2h0m83.7 0.0h0m-340.7 0.1h0m80.8 0.0h0m222.9 0.0h0m-156.0 0.0h0m-231.4 0.3h0m95.2 0.1h0m147.2 0.1h0m87.5-0.0h0m-154.1 0.2h0m275.6 0.1h0m-344.8 0.2h0m146.8-0.0h0m65.6 0.0h0m-307.4 0.1h0m364.7 0.1h0m-112.1 0.1h0m43.7 0.0h0m-121.1 0.0h0m-69.0 0.1h0m157.3-0.0h0m21.9 0.0h0m116.1-0.1h0m-127.0 0.1h0m-263.0 0.1h0m106.1 0.4h0m68.8-0.0h0m-163.3 0.2h0m330.4 0.0h0m74.6 0.2h0m-299.1 0.2h0m68.6 0.0h0m192.6 0.2h0m-47.8 0.3h0m-202.1 0.1h0m68.3 0.0h0m-57.0 0.6h0m68.1-0.0h0m111.4 0.0h0m47.5 0.2h0m-147.8 0.2h0m89.2 0.1h0m-157.1 0.0h0m79.1 0.2h0m66.9 0.2h0m-55.7 0.1h0m44.6 0.1h0m-33.4 0.1h0m11.1 0.1h0m11.1-0.0h0" stroke="#3d5a9a" stroke-opacity="0.24" stroke-width="2.57" stroke-linecap="round" fill="none"/>
<path d="M10.6 375.8h0m1378.4 2.2h0m27.2 0.2h0m-1363.4 0.2h0m-27.5 0.5h0m-28.3 0.5h0m1351.5 1.2h0m-1229.2 0.1h0m-25.6 0.4h0m1281.0-0.0h0m26.9 0.4h0m-1334.4 0.1h0m1362.1 0.1h0m-1389.3 0.4h0m1269.3 0.4h0m-1297.3 0.1h0m169.8 0.7h0m1152.7 0.0h0m-1176.6 0.3h0m1113.5 0.2h0m-1138.2 0.1h0m1227.2 0.1h0m-1252.5 0.3h0m1279.2 0.3h0m-1305.4 0.2h0m1153.0 0.0h0m60.9 0.2h0m118.9 0.0h0m-1359.7 0.3h0m1388.0-0.1h0m-1415.7 0.6h0m1293.4 0.1h0m-62.5 0.1h0m-1039.7 0.1h0m-219.6 0.2h0m196.7 0.1h0m-23.7 0.3h0m1174.6-0.0h0m-124.6 0.1h0m-1074.3 0.3h0m1039.1 0.2h0m95.6-0.1h0m-1159.8 0.2h0m1250.5-0.0h0m-1276.3 0.4h0m1303.5 0.1h0m-155.2 0.1h0m-969.6 0.1h0m-205.3 0.1h0m1237.0-0.1h0m121.2 0.1h0m-1174.2 0.4h0m954.8-0.0h0m-1166.2 0.1h0m189.3 0.3h0m941.9-0.0h0m158.6 0.1h0m-1318.0 0.2h0m1125.5 0.0h0m128.8-0.0h0m-1059.5 0.1h0m-23.4 0.3h0m1045.8 0.3h0m127.0-0.1h0m-1196.9 0.1h0m147.0 0.1h0m-171.8 0.3h0m1156.3 0.0h0m-97.4 0.1h0m189.8 0.1h0m-1274.2 0.2h0m176.9 0.1h0m872.7 0.0h0m-33.6 0.3h0m-1042.3 0.1h0m1328.3-0.0h0m-318.5 0.1h0m160.3 0.0h0m-988.0 0.1h0m1051.2 0.0h0m123.5 0.2h0m-1383.9 0.1h0m187.4 0.2h0m973.0 0.0h0m-1188.3 0.4h0m192.9 0.1h0m959.8 0.0h0m161.6 0.0h0m-1022.9 0.2h0m958.0-0.0h0m-131.2 0.1h0m-948.4 0.0h0m-198.5 0.2h0m1113.5 0.1h0m-938.9 0.2h0m906.6 0.0h0m-31.2 0.1h0m319.7 0.1h0m-129.4 0.1h0m-1090.2 0.1h0m149.8 0.0h0m52.2 0.2h0m950.9 0.1h0m-1178.2 0.1h0m1078.9 0.0h0m-820.7 0.1h0m1014.1-0.0h0m-1118.2 0.2h0m889.3 0.1h0m-1069.6 0.0h0m1035.3 0.3h0m291.4 0.0h0m-161.2 0.1h0m-1192.3 0.1h0m185.5 0.0h0m843.4 0.0h0m227.8 0.0h0m-995.9 0.1h0m736.1 0.1h0m-61.0 0.1h0m30.0 0.0h0m-993.6 0.3h0m191.0-0.0h0m991.5 0.0h0m-862.3 0.4h0m30.7 0.0h0m-182.8 0.1h0m978.0 0.1h0m164.7-0.0h0m-1339.2 0.1h0m296.9 0.1h0m976.2-0.0h0m-1100.1 0.2h0m247.8-0.0h0m718.6 0.1h0m-34.0 0.3h0m-956.7 0.1h0m802.7 0.1h0m121.1 0.1h0m294.0-0.0h0m-131.9 0.1h0m-958.3 0.1h0m703.9 0.0h0m60.5-0.0h0m-917.0 0.1h0m886.3-0.0h0m-680.4 0.2h0m103.1 0.0h0m865.9-0.0h0m-907.1 0.1h0m-293.6 0.2h0m1099.4-0.1h0m197.1 0.1h0m-1033.4 0.1h0m-106.0 0.0h0m906.2 0.2h0m-1089.9 0.1h0m447.4 0.1h0m-74.3 0.2h0m681.9 0.0h0m132.7-0.0h0m-1025.9 0.1h0m1091.6 0.0h0m-384.9 0.1h0m-629.9 0.1h0m220.5-0.0h0m562.2 0.0h0m-689.0 0.2h0m656.4 0.0h0m-849.5 0.1h0m757.8-0.1h0m-426.3 0.1h0m455.9 0.0h0m30.5-0.0h0m192.4 0.0h0m-764.4 0.1h0m-269.2 0.3h0m155.0 0.0h0m211.4-0.0h0m347.1-0.0h0m-527.3 0.1h0m978.2-0.1h0m-167.8 0.1h0m100.4 0.1h0m-994.7 0.1h0m-126.3 0.2h0m305.0 0.0h0m97.0-0.0h0m582.8 0.1h0m-732.3 0.1h0m512.4 0.1h0m-789.7 0.1h0m438.4 0.0h0m536.5 0.0h0m-633.3 0.2h0m178.6-0.0h0m586.3-0.0h0m-976.5 0.1h0m583.3-0.0h0m228.1 0.0h0m-123.4 0.1h0m-843.5 0.1h0m475.5 0.0h0m459.0 0.1h0m-724.7 0.1h0m566.6-0.1h0m96.5 0.1h0m324.4-0.1h0m-294.0 0.1h0m-630.3 0.2h0m106.1-0.0h0m178.2-0.0h0m536.9 0.0h0m-779.2 0.1h0m172.2 0.1h0m-353.2 0.1h0m108.0 0.1h0m485.6 0.1h0m-336.7 0.1h0m666.5 0.0h0m-488.8 0.1h0m-69.9 0.1h0m304.8 0.0h0m353.4 0.0h0m-1045.4 0.1h0m910.2 0.0h0m-619.1 0.0h0m-212.9 0.1h0m137.3-0.0h0m437.9-0.0h0m-184.9 0.1h0m-69.6 0.1h0m205.9 0.0h0m271.1 0.0h0m-572.9 0.1h0m417.2-0.0h0m-743.2 0.1h0m196.8 0.1h0m832.7 0.0h0m-163.9 0.0h0m-362.7 0.1h0m269.4 0.0h0m-434.4 0.1h0m95.7 0.0h0m368.9-0.0h0m31.1-0.1h0m-857.2 0.2h0m157.9 0.1h0m116.4-0.1h0m365.9-0.0h0m375.3 0.2h0m-911.3 0.1h0m85.6-0.0h0m183.6 0.0h0m164.6-0.0h0m150.6 0.1h0m38.5-0.0h0m-258.3 0.2h0m160.1 0.1h0m-243.7 0.2h0m164.2-0.0h0m429.6 0.0h0m-692.7 0.1h0m-53.5 0.1h0m327.9 0.1h0m56.8-0.0h0m-137.1 0.2h0m463.3-0.0h0m-860.9 0.1h0m314.2-0.0h0m358.0 0.0h0m-182.9 0.1h0m34.1-0.0h0m-22.7 0.1h0m11.4 0.0h0m-296.4 0.1h0m378.7-0.0h0m232.4 0.0h0m-771.5 0.2h0m270.7-0.0h0m375.0 0.1h0m92.7 0.1h0m-384.5 0.0h0m223.4 0.1h0m323.7 0.0h0m-225.4 0.1h0m30.9 0.0h0m-783.9 0.1h0m141.7-0.0h0m42.8 0.1h0m65.3-0.0h0m110.2 0.0h0m-249.9 0.1h0m332.8 0.2h0m162.0 0.1h0m336.1-0.1h0m-679.2 0.2h0m109.9-0.0h0m-394.6 0.0h0m705.2 0.2h0m-625.5 0.1h0m397.7 0.0h0m450.2-0.1h0m-630.9 0.2h0m-320.2 0.1h0m243.0-0.1h0m186.8-0.0h0m209.8 0.1h0m49.6-0.1h0m226.7 0.1h0m-715.5 0.3h0m131.7 0.0h0m180.2-0.0h0m244.9 0.0h0m124.8 0.1h0m-440.4 0.1h0m345.2 0.1h0m62.3-0.0h0m-712.5 0.1h0m207.5 0.0h0m283.9-0.0h0m189.4 0.0h0m-735.6 0.1h0m442.0-0.0h0m486.6 0.0h0m-841.4 0.1h0m86.1-0.0h0m100.9 0.2h0m97.2-0.0h0m82.1 0.1h0m81.0 0.0h0m60.9-0.1h0m39.2 0.0h0m256.7 0.2h0m-605.1 0.2h0m178.9 0.0h0m57.9 0.1h0m-544.9 0.1h0m152.9-0.0h0m54.6-0.0h0m197.7 0.0h0m93.5 0.1h0m378.6 0.0h0m-557.1 0.1h0m190.0 0.0h0m23.1-0.1h0m-11.6 0.1h0m163.2 0.1h0m-628.7 0.1h0m549.3 0.1h0m236.8-0.0h0m-425.5 0.1h0m-197.3 0.1h0m112.5-0.0h0m-354.8 0.1h0m831.3 0.0h0m-94.4 0.0h0m-592.6 0.1h0m522.8-0.0h0m131.6 0.1h0m-686.6 0.1h0m254.6-0.0h0m400.6-0.1h0m-579.4 0.2h0m263.4-0.0h0m-196.8 0.1h0m704.3 0.0h0m-982.1 0.2h0m639.7 0.0h0m-237.6 0.1h0m-320.9 0.2h0m208.9 0.0h0m196.4-0.0h0m458.8 0.1h0m-226.6 0.2h0m-304.5 0.1h0m-190.4 0.2h0m78.6-0.0h0m195.9 0.1h0m129.7-0.0h0m50.5-0.0h0m231.0 0.0h0m-729.1 0.3h0m134.2 0.1h0m111.6-0.0h0m321.6 0.0h0m127.1 0.0h0m-759.5 0.1h0m394.6-0.0h0m-450.4 0.0h0m556.6 0.1h0m161.8 0.1h0m63.5-0.1h0m-693.0 0.1h0m178.4-0.0h0m482.3 0.0h0m-371.0 0.1h0m-201.9 0.0h0m285.6 0.0h0m-182.8 0.2h0m265.3-0.0h0m62.1 0.1h0m-132.8 0.1h0m172.8-0.0h0m261.6-0.0h0m-930.7 0.2h0m412.9 0.0h0m142.4-0.0h0m-241.3 0.1h0m194.1 0.0h0m-352.3 0.1h0m387.7 0.0h0m-332.1 0.1h0m308.5-0.0h0m11.8 0.0h0m362.3-0.0h0m-836.6 0.2h0m268.9-0.0h0m98.6 0.2h0m273.1 0.1h0m160.5 0.1h0m-881.5 0.0h0m640.1-0.0h0m-278.6 0.1h0m-114.6 0.1h0m-99.8 0.1h0m700.0-0.0h0m-732.8 0.1h0m345.6-0.0h0m291.0-0.0h0m-377.2 0.1h0m306.1-0.1h0m134.1 0.1h0m-32.1 0.0h0m-590.4 0.1h0m67.8 0.1h0m368.8 0.1h0m-569.1 0.1h0m327.0-0.0h0m85.9 0.0h0m467.5 0.2h0m-667.6 0.1h0m126.4 0.1h0m85.7 0.1h0m224.6 0.0h0m-92.4 0.1h0m-411.9 0.1h0m80.1 0.0h0m383.3-0.0h0m235.4-0.1h0m-742.9 0.2h0m250.4 0.0h0m85.5 0.0h0m-459.0 0.0h0m56.9 0.0h0m773.9 0.1h0m-571.0 0.1h0m307.3 0.1h0m134.1-0.1h0m-610.7 0.2h0m380.5 0.0h0m325.7 0.0h0m-411.0 0.0h0m346.2 0.1h0m-459.7 0.0h0m491.5 0.0h0m-583.8 0.1h0m375.1 0.0h0m-72.1 0.0h0m-505.8 0.2h0m307.5 0.0h0m333.6-0.0h0m-220.4 0.1h0m97.0 0.0h0m48.1 0.0h0m116.0 0.0h0m-152.0 0.2h0m-209.8 0.1h0m221.8-0.0h0m12.0-0.1h0m-395.0 0.1h0m752.2 0.1h0m-852.5 0.1h0m157.0 0.0h0m217.5 0.1h0m-100.5 0.1h0m296.4 0.3h0m82.4-0.0h0m163.5-0.0h0m-529.8 0.1h0m100.3 0.1h0m-352.2 0.1h0m33.4-0.0h0m101.7 0.0h0m611.7 0.1h0m-482.4 0.1h0m311.9 0.0h0m72.4-0.0h0m64.2 0.1h0m-634.3 0.1h0m601.6 0.0h0m-736.6 0.1h0m420.8-0.0h0m-87.6 0.2h0m246.7-0.0h0m-375.8 0.0h0m228.8 0.4h0m-87.3 0.1h0m-128.8 0.1h0m350.8 0.2h0m94.2 0.0h0m-216.6 0.1h0m414.8-0.1h0m-882.5 0.1h0m170.5-0.0h0m210.2 0.0h0m262.0-0.0h0m-584.7 0.1h0m67.5-0.0h0m126.6 0.0h0m227.9 0.3h0m98.0 0.0h0m268.7-0.0h0m-754.3 0.1h0m172.5 0.0h0m449.8 0.0h0m-321.5 0.0h0m99.1 0.2h0m319.7-0.0h0m-534.4 0.2h0m288.2-0.1h0m180.2 0.0h0m32.4 0.1h0m-594.9 0.1h0m222.2 0.1h0m98.9-0.0h0m49.0 0.1h0m76.7 0.0h0m-339.9 0.1h0m226.5 0.0h0m12.2 0.1h0m12.2-0.0h0m130.4 0.1h0m-635.2 0.2h0m102.2 0.0h0m164.3 0.0h0m115.1 0.1h0m-221.7 0.2h0m119.3 0.1h0m552.6 0.2h0m-437.7 0.0h0m187.1-0.0h0m-546.0 0.2h0m256.7-0.0h0m373.3-0.0h0m-595.9 0.1h0m103.6 0.2h0m623.3 0.0h0m-491.6 0.1h0m101.9 0.1h0m-428.8 0.0h0m644.7 0.0h0m73.8 0.0h0m-580.9 0.1h0m646.3 0.0h0m-33.3 0.1h0m-411.1 0.1h0m251.4-0.0h0m-382.9 0.2h0m233.2 0.0h0m-89.0 0.3h0m-131.2 0.3h0m232.7-0.0h0m124.8 0.0h0m-542.3 0.2h0m328.8 0.0h0m309.5-0.0h0m-569.5 0.1h0m45.9 0.0h0m481.1 0.0h0m-398.0 0.2h0m232.2-0.0h0m99.8 0.2h0m-494.9 0.1h0m768.6 0.0h0m-462.1 0.0h0m101.0 0.1h0m-231.8 0.1h0m458.4 0.0h0m-151.7 0.1h0m-62.4 0.1h0m313.3-0.0h0m-544.5 0.2h0m130.5-0.1h0m346.8 0.0h0m-573.2 0.1h0m339.6 0.0h0m37.4-0.1h0m229.2 0.0h0m-254.1 0.1h0m12.5-0.0h0m90.7 0.0h0m-605.0 0.2h0m258.6 0.0h0m388.7 0.1h0m-543.1 0.1h0m284.7-0.1h0m-117.3 0.2h0m-108.6 0.3h0m121.5 0.1h0m117.1 0.0h0m-365.7 0.2h0m556.4-0.0h0m-521.7 0.1h0m226.8 0.0h0m380.4 0.1h0m-263.5 0.2h0m-103.9 0.1h0m500.9 0.0h0m-635.1 0.0h0m458.1 0.2h0m-516.7 0.1h0m591.9 0.0h0m-386.1 0.1h0m103.6 0.0h0m152.6-0.0h0m196.6-0.0h0m-33.9 0.1h0m-552.9 0.2h0m146.9 0.1h0m103.4 0.1h0m127.1 0.2h0m-552.6 0.1h0m188.3 0.1h0m146.7 0.0h0m103.2 0.1h0m-368.1 0.0h0m580.3 0.0h0m-533.6 0.1h0m490.3 0.0h0m-67.2 0.2h0m-504.3 0.0h0m165.9 0.1h0m146.4-0.0h0m102.9 0.0h0m76.3 0.3h0m-63.6 0.0h0m-248.9 0.1h0m467.1 0.0h0m-320.9 0.1h0m115.4 0.1h0m38.1 0.0h0m-25.4 0.1h0m12.7 0.0h0m281.1-0.1h0m-652.6 0.2h0m97.7-0.0h0m486.4 0.0h0m33.7 0.0h0m-153.9 0.1h0m-220.2 0.1h0m-132.8 0.1h0m-157.4 0.1h0m553.4-0.0h0m-382.8 0.2h0m132.5 0.1h0m-372.6 0.2h0m129.5-0.0h0m123.8 0.0h0m-218.0 0.2h0m531.6-0.0h0m-300.4 0.2h0m119.1-0.0h0m268.5 0.2h0m-374.4 0.2h0m-136.8 0.1h0m-59.7 0.1h0m315.3-0.1h0m211.2 0.1h0m-55.8 0.1h0m-261.1 0.1h0m393.5 0.0h0m68.0 0.1h0m-34.6 0.1h0m-308.3 0.1h0m-255.1 0.1h0m149.7-0.0h0m234.9 0.3h0m-221.7 0.2h0m105.1-0.1h0m-375.1 0.2h0m120.5 0.1h0m470.8 0.1h0m-626.4 0.1h0m82.7-0.1h0m340.4 0.0h0m90.7 0.0h0m68.5-0.0h0m-264.0 0.1h0m-149.2 0.2h0m267.1-0.0h0m64.8 0.1h0m-169.4 0.2h0m117.6-0.0h0m38.9 0.1h0m-25.9 0.1h0m-279.5 0.1h0m292.5-0.0h0m183.5 0.0h0m-562.0 0.3h0m248.3 0.0h0m-148.7 0.0h0m373.1-0.0h0m122.5 0.0h0m34.3 0.0h0m-676.8 0.3h0m160.4 0.0h0m403.6 0.1h0m-255.1 0.1h0m-135.0 0.2h0m-112.7 0.3h0m-95.9 0.0h0m222.1 0.0h0m134.8 0.1h0m184.8-0.0h0m-306.1 0.3h0m395.0 0.2h0m-381.5 0.1h0m121.1-0.1h0m-321.3 0.3h0m60.8-0.0h0m418.9 0.1h0m56.8 0.0h0m-322.8 0.1h0m120.8 0.1h0m280.1 0.0h0m34.0 0.2h0m-421.5 0.0h0m-152.6 0.2h0m273.1 0.0h0m118.8 0.0h0m-225.9 0.2h0m-275.1 0.1h0m395.4 0.1h0m92.4 0.1h0m-439.3 0.1h0m74.3-0.0h0m434.8 0.1h0m-269.0 0.0h0m314.0 0.0h0m-193.9 0.1h0m66.0 0.2h0m-52.8 0.1h0m-285.3 0.1h0m165.5 0.0h0m159.4 0.0h0m-26.4 0.0h0m13.2 0.0h0m-298.0 0.3h0m485.0-0.0h0m-319.7 0.1h0m-253.0 0.2h0m481.7 0.0h0m-380.2 0.1h0m505.0 0.0h0m-654.7 0.1h0m314.7 0.1h0m-151.3 0.1h0m411.2 0.0h0m-397.5 0.3h0m151.0 0.1h0m-265.9 0.2h0m128.6 0.0h0m325.7-0.1h0m-312.0 0.4h0m137.1 0.0h0m265.4 0.2h0m-388.8 0.1h0m-204.0 0.2h0m488.8-0.0h0m-426.8 0.1h0m278.8-0.0h0m205.9 0.1h0m-329.0 0.0h0m408.6 0.3h0m-394.9 0.1h0m122.9-0.0h0m121.1 0.2h0m-399.4 0.2h0m169.2 0.1h0m122.6 0.0h0m94.2 0.3h0m-203.1 0.2h0m122.3-0.0h0m-366.9 0.1h0m75.7 0.1h0m443.1-0.0h0m-138.4 0.1h0m53.8-0.0h0m130.4-0.0h0m-170.7 0.2h0m26.9-0.0h0m-162.4 0.0h0m149.0 0.0h0m-317.7 0.2h0m182.4 0.3h0m325.8 0.2h0m-494.2 0.0h0m-89.4 0.2h0m490.8-0.0h0m-387.5 0.3h0m168.1-0.1h0m-154.2 0.4h0m419.0-0.0h0m-251.2 0.1h0m-153.9 0.2h0m345.8 0.1h0m-462.9 0.1h0m131.0 0.1h0m153.6 0.0h0m-139.7 0.3h0m153.4 0.3h0m-139.4 0.0h0m396.1-0.0h0m-105.9 0.1h0m-434.9 0.2h0m158.7 0.0h0m335.2-0.0h0m-196.1 0.2h0m-125.2 0.2h0m248.6 0.1h0m-109.7 0.1h0m-124.9 0.2h0m-172.4 0.1h0m311.0 0.1h0m82.2-0.0h0m-206.9 0.2h0m138.4 0.1h0m54.8 0.0h0m86.2 0.1h0m-127.3 0.1h0m-324.2 0.0h0m337.9 0.0h0m13.7-0.0h0m146.5 0.0h0m-312.1 0.1h0m-171.9 0.5h0m185.8 0.0h0m-171.6 0.5h0m409.1-0.0h0m-223.5 0.0h0m-171.3 0.4h0m185.3 0.2h0m255.9 0.1h0m-427.0 0.1h0m366.6 0.3h0m-352.4 0.0h0m170.8 0.0h0m-156.6 0.3h0m14.2 0.3h0m156.3-0.0h0m-142.1 0.3h0m295.7-0.1h0m-139.7 0.2h0m-141.8 0.1h0m341.6-0.0h0m-327.4 0.3h0m141.5 0.0h0m111.7-0.0h0m-239.0 0.4h0m141.3 0.0h0m83.8 0.1h0m-69.8 0.2h0m-141.0 0.1h0m196.9 0.1h0m-41.9 0.1h0m14.0 0.1h0m14.0-0.0h0m101.8 0.1h0m-270.4 0.2h0m14.2 0.5h0m14.2 0.5h0m227.7 0.1h0m-213.5 0.4h0m14.2 0.5h0m185.0 0.1h0m-170.8 0.4h0m156.6 0.4h0m-142.3 0.1h0m14.2 0.4h0m113.9 0.1h0m-99.6 0.3h0m85.4 0.2h0m-71.2 0.1h0m56.9 0.2h0m-42.7 0.1h0m14.2 0.1h0m14.2-0.0h0" stroke="#3d5a9a" stroke-opacity="0.30" stroke-width="2.78" stroke-linecap="round" fill="none"/>
<path d="M1439.3 398.1h0m-1379.2 0.4h0m-28.2 0.6h0m-29.0 0.7h0m1392.3 0.5h0m28.5 0.8h0m-1321.2 0.1h0m-27.1 0.6h0m1277.1 0.2h0m-1305.0 0.4h0m-28.7 0.7h0m1361.0-0.0h0m-68.7 0.2h0m-1142.3 0.3h0m-25.3 0.5h0m1264.5 0.0h0m-136.9 0.1h0m-1153.6 0.4h0m1219.9-0.0h0m99.6 0.3h0m-1346.3 0.2h0m1205.6 0.5h0m-1233.2 0.1h0m1301.3 0.0h0m-1329.8 0.6h0m1221.9 0.0h0m-1073.3 0.4h0m1209.1-0.0h0m-70.0 0.2h0m-1316.9 0.1h0m152.8 0.3h0m1262.8 0.4h0m-1288.5 0.1h0m1149.0 0.1h0m67.6 0.3h0m-1243.1 0.1h0m1136.0 0.3h0m-1163.3 0.3h0m1228.5 0.4h0m69.4 0.1h0m-1326.1 0.2h0m147.1 0.4h0m1069.0 0.2h0m-1245.1 0.1h0m151.4 0.3h0m1232.1-0.0h0m-71.4 0.2h0m-106.2 0.2h0m-1079.9 0.2h0m1286.8 0.4h0m-1313.0 0.2h0m1170.8 0.0h0m68.9 0.3h0m-1266.7 0.3h0m1157.6 0.2h0m-1185.4 0.4h0m1146.5 0.2h0m105.4-0.0h0m-1106.1 0.1h0m1176.9 0.0h0m-1351.3 0.4h0m149.9 0.2h0m1089.3 0.2h0m-1268.7 0.3h0m1409.7-0.0h0m-1255.5 0.1h0m1182.8 0.1h0m-108.2 0.3h0m-1100.4 0.2h0m1061.8 0.5h0m104.5 0.1h0m-1193.0 0.0h0m1263.2 0.2h0m-1290.7 0.4h0m144.3 0.1h0m1035.3 0.1h0m-1207.9 0.5h0m1275.6 0.1h0m-1127.2 0.0h0m1019.8 0.1h0m179.5-0.1h0m-1376.9 0.6h0m152.8 0.0h0m1006.3 0.1h0m103.7 0.2h0m143.7 0.2h0m-1279.3 0.1h0m1205.2 0.1h0m-110.3 0.4h0m-1121.4 0.2h0m115.6 0.5h0m966.4 0.1h0m106.5-0.0h0m-1215.7 0.1h0m1287.2 0.1h0m-216.1 0.4h0m-1099.1 0.1h0m147.0-0.0h0m1055.0 0.1h0m-1230.9 0.6h0m151.3-0.0h0m1148.6-0.0h0m73.5 0.0h0m-182.9 0.2h0m-1064.5 0.5h0m-155.7 0.1h0m1181.1 0.1h0m105.7 0.1h0m-1157.2 0.4h0m1228.1 0.0h0m-1113.6 0.1h0m899.2 0.1h0m102.0 0.3h0m-1142.7 0.1h0m117.8 0.4h0m1093.3 0.1h0m-1238.8 0.2h0m1130.3-0.1h0m181.4 0.1h0m-1190.5 0.5h0m970.2 0.1h0m-1120.0 0.1h0m1224.8 0.1h0m-142.4 0.5h0m212.7 0.0h0m74.9-0.0h0m-1245.3 0.0h0m-154.2 0.2h0m241.7 0.1h0m971.4-0.0h0m-1084.7 0.4h0m-158.6 0.3h0m1311.2 0.0h0m-107.7 0.0h0m-1071.5 0.3h0m116.7 0.0h0m1134.8-0.0h0m-218.5 0.4h0m103.9 0.2h0m-1164.4 0.1h0m120.1 0.3h0m903.1-0.0h0m210.9 0.2h0m-1262.4 0.2h0m1151.7 0.0h0m184.9-0.1h0m-1126.4 0.4h0m-86.7 0.2h0m-152.7 0.3h0m1141.3-0.0h0m106.8 0.0h0m147.9 0.4h0m-1268.9 0.0h0m1192.6 0.0h0m-216.7 0.2h0m-886.8 0.1h0m-246.3 0.0h0m1236.1 0.1h0m-1105.4 0.3h0m965.3 0.1h0m209.2 0.4h0m-109.7 0.2h0m-973.0 0.2h0m1156.4-0.0h0m-1275.2 0.0h0m180.2 0.2h0m872.4 0.4h0m105.9 0.1h0m-1186.5 0.1h0m122.3 0.2h0m920.3 0.3h0m214.9-0.0h0m75.7 0.1h0m-1362.0 0.2h0m1173.6 0.1h0m-959.4 0.1h0m820.5 0.0h0m-908.8 0.1h0m-155.6 0.5h0m1271.8-0.1h0m-108.8 0.1h0m-1033.5 0.3h0m151.6 0.1h0m1063.7-0.0h0m-1124.4 0.3h0m-250.9 0.2h0m1154.6-0.1h0m105.0 0.1h0m-1126.4 0.2h0m983.6 0.3h0m213.2 0.1h0m-1103.3 0.2h0m-121.1 0.1h0m974.8-0.0h0m137.8 0.0h0m186.8-0.0h0m-1115.9 0.3h0m-212.1 0.6h0m1101.1 0.0h0m107.9-0.1h0m-959.9 0.1h0m-124.4 0.0h0m1156.8 0.3h0m77.1 0.1h0m-296.1 0.2h0m-1091.8 0.1h0m218.3 0.1h0m977.7 0.0h0m-1067.7 0.1h0m926.1 0.2h0m-36.2 0.3h0m247.6 0.0h0m-1296.0 0.1h0m132.0 0.2h0m1053.1-0.0h0m185.3 0.1h0m-1083.9 0.0h0m-61.9 0.2h0m98.6 0.1h0m822.1 0.4h0m107.0 0.0h0m-1147.8 0.0h0m1219.5 0.5h0m-1124.3 0.1h0m907.0-0.0h0m293.7 0.1h0m-1324.2 0.1h0m1133.8 0.1h0m-946.7 0.1h0m806.2 0.1h0m-35.9 0.2h0m-986.5 0.5h0m290.3-0.1h0m941.7 0.1h0m-1105.0 0.0h0m126.8 0.0h0m868.2 0.1h0m183.7 0.3h0m-1335.7 0.5h0m222.4-0.0h0m-91.7 0.1h0m981.8-0.0h0m106.2 0.1h0m-144.3 0.5h0m215.4 0.1h0m-955.1 0.1h0m-365.5 0.0h0m134.5 0.0h0m898.2-0.0h0m35.6 0.0h0m-776.4 0.1h0m1104.5-0.0h0m-188.8 0.1h0m-978.8 0.1h0m100.5 0.2h0m-222.7 0.4h0m1169.6 0.1h0m-109.1 0.1h0m182.2 0.4h0m-1145.6 0.0h0m176.3 0.1h0m1047.2-0.0h0m-1349.3 0.1h0m1050.1 0.0h0m-859.4 0.1h0m964.7 0.1h0m-215.0 0.2h0m71.9 0.1h0m-36.6 0.2h0m-875.8 0.1h0m-129.4 0.1h0m295.8-0.0h0m-37.1 0.1h0m996.8-0.0h0m-112.1 0.3h0m187.2 0.1h0m-984.4 0.1h0m-150.1 0.3h0m-93.4 0.1h0m-133.2 0.0h0m1133.6 0.2h0m108.2-0.0h0m-256.0 0.5h0m328.4 0.1h0m-1208.7 0.1h0m285.5-0.0h0m703.6 0.0h0m-753.7 0.1h0m-75.0 0.1h0m1125.5-0.0h0m-1189.8 0.1h0m819.1 0.0h0m36.3 0.0h0m141.9 0.1h0m-894.9 0.2h0m-227.0 0.3h0m328.4 0.2h0m863.3-0.0h0m-111.1 0.2h0m-981.7 0.1h0m1167.4 0.1h0m-1295.6 0.3h0m194.3 0.1h0m113.6-0.1h0m615.5-0.0h0m146.7 0.3h0m-697.8 0.0h0m805.1 0.1h0m-1075.5 0.3h0m856.4-0.0h0m73.3 0.1h0m-1061.6 0.2h0m263.6-0.0h0m37.8-0.0h0m722.9 0.0h0m255.0 0.1h0m-862.4 0.1h0m939.0 0.2h0m-190.8 0.1h0m-812.3 0.1h0m-152.9 0.1h0m-95.2 0.1h0m326.7 0.1h0m507.6-0.0h0m-970.1 0.1h0m1265.4 0.3h0m-110.2 0.1h0m-678.2 0.1h0m-369.3 0.3h0m1231.6-0.0h0m-334.7 0.1h0m-799.0 0.1h0m65.5-0.1h0m76.4 0.0h0m51.1-0.0h0m92.8 0.0h0m926.5-0.0h0m-302.4 0.1h0m-805.6 0.4h0m196.0-0.0h0m534.4 0.0h0m37.0 0.0h0m144.6-0.0h0m-266.4 0.1h0m-876.8 0.2h0m441.7-0.0h0m14.5 0.3h0m758.2 0.0h0m-879.7 0.1h0m-233.9 0.1h0m369.9 0.0h0m630.4 0.1h0m189.2 0.0h0m-805.1 0.1h0m-515.1 0.1h0m198.0 0.0h0m115.7 0.1h0m215.9 0.0h0m411.3 0.1h0m-396.8 0.2h0m348.1-0.0h0m-512.9 0.1h0m711.1 0.0h0m109.3 0.0h0m-1096.0 0.1h0m454.9 0.0h0m-320.7 0.2h0m-268.6 0.1h0m307.1-0.0h0m296.6 0.1h0m403.3-0.1h0m74.7 0.1h0m221.8 0.0h0m-259.8 0.1h0m-619.0 0.1h0m193.5 0.0h0m763.3-0.0h0m-1177.9 0.2h0m-97.0 0.2h0m252.8-0.0h0m548.9 0.0h0m278.8-0.1h0m-554.4 0.1h0m-664.4 0.2h0m471.2 0.1h0m517.3-0.1h0m-309.5 0.2h0m610.5 0.2h0m-112.3 0.2h0m-1067.4 0.1h0m376.3 0.0h0m207.5-0.0h0m671.3 0.1h0m-1155.2 0.1h0m66.8-0.0h0m649.2 0.0h0m519.4 0.0h0m-1090.8 0.1h0m52.0 0.1h0m617.5 0.0h0m-522.9 0.1h0m207.2-0.0h0m428.8 0.1h0m-820.9 0.1h0m199.7 0.2h0m729.6-0.1h0m-1164.9 0.1h0m642.2-0.0h0m337.6-0.0h0m37.7 0.0h0m-124.1 0.1h0m-62.7 0.1h0m-380.7 0.1h0m-347.4 0.2h0m554.0 0.0h0m580.8-0.0h0m-772.6 0.1h0m-123.9 0.1h0m138.6 0.2h0m835.2-0.1h0m-1143.5 0.2h0m-201.7 0.1h0m701.6-0.0h0m145.0 0.0h0m305.8-0.0h0m-627.6 0.1h0m-205.2 0.1h0m220.0 0.1h0m176.5 0.1h0m242.6 0.0h0m-853.1 0.2h0m448.7-0.0h0m277.8 0.0h0m76.9-0.0h0m-522.6 0.2h0m344.2 0.1h0m380.4-0.0h0m111.4-0.0h0m-980.0 0.2h0m326.8-0.0h0m-287.5 0.2h0m-313.0 0.0h0m776.5 0.1h0m72.5-0.1h0m-233.7 0.1h0m713.1 0.0h0m-302.1 0.0h0m-235.3 0.1h0m43.5-0.0h0m267.8 0.0h0m305.6 0.0h0m-1200.3 0.1h0m422.5 0.0h0m175.4-0.0h0m14.5 0.0h0m243.6 0.1h0m-954.9 0.1h0m324.2-0.0h0m-66.5 0.2h0m278.5 0.0h0m280.8 0.0h0m284.1 0.0h0m-550.2 0.4h0m315.4-0.0h0m-527.1 0.1h0m833.8 0.2h0m-1202.2 0.1h0m594.8 0.0h0m-493.1 0.1h0m68.0-0.0h0m918.0 0.0h0m191.2 0.0h0m-895.4 0.1h0m447.9 0.0h0m-582.2 0.1h0m360.5 0.1h0m-307.5 0.1h0m629.2 0.1h0m-721.2 0.0h0m188.4 0.1h0m225.9 0.2h0m422.2-0.1h0m-1076.6 0.1h0m1187.1 0.1h0m-743.5 0.1h0m403.0 0.1h0m63.9-0.0h0m88.0-0.0h0m38.4 0.0h0m-932.2 0.1h0m564.6 0.0h0m-210.6 0.1h0m802.4 0.0h0m-913.5 0.3h0m126.2-0.0h0m866.1-0.0h0m-1165.3 0.1h0m509.4 0.0h0m-715.0 0.1h0m862.8 0.0h0m-343.0 0.1h0m654.6 0.1h0m-848.6 0.1h0m209.1 0.0h0m194.9 0.0h0m-622.1 0.2h0m442.2 0.0h0m298.1 0.1h0m-103.5 0.1h0m181.8 0.0h0m50.6-0.1h0m-412.1 0.1h0m-317.9 0.1h0m998.7 0.0h0m-851.8 0.0h0m-425.7 0.2h0m318.9-0.1h0m293.0-0.0h0m179.3 0.0h0m73.9 0.0h0m299.0-0.0h0m-537.1 0.3h0m179.0-0.0h0m44.3 0.0h0m503.3-0.0h0m-532.8 0.1h0m613.9 0.0h0m-1223.1 0.0h0m624.1 0.0h0m210.2 0.1h0m-935.0 0.1h0m531.3-0.0h0m481.2 0.0h0m-39.4 0.2h0m-642.7 0.1h0m-67.8 0.1h0m283.8-0.0h0m286.1 0.1h0m289.5 0.1h0m-560.6 0.2h0m321.4 0.1h0m-912.5 0.2h0m375.4-0.0h0m230.8 0.1h0m618.8-0.1h0m-1121.3 0.1h0m69.3 0.0h0m1130.2 0.2h0m-456.0 0.2h0m261.3-0.0h0m-854.5 0.0h0m367.4 0.0h0m-230.5 0.1h0m-176.6 0.2h0m93.8 0.0h0m-338.5 0.3h0m666.9-0.1h0m312.8-0.0h0m-543.0 0.2h0m660.4 0.1h0m112.5 0.1h0m-1103.0 0.0h0m575.3 0.1h0m180.7-0.1h0m-410.6 0.2h0m475.7-0.1h0m89.7 0.1h0m39.1 0.1h0m228.4 0.2h0m-1107.1 0.1h0m289.5 0.0h0m229.6 0.0h0m668.3 0.0h0m-1011.2 0.2h0m-385.7 0.0h0m514.3 0.0h0m364.9-0.0h0m-349.5 0.3h0m214.0-0.1h0m-411.7 0.1h0m864.8 0.0h0m-1087.0 0.1h0m435.3 0.1h0m213.7 0.1h0m105.4 0.0h0m-303.8 0.1h0m-308.6 0.1h0m692.3 0.0h0m51.6 0.0h0m-419.9 0.1h0m198.1-0.0h0m-481.2 0.1h0m556.6-0.0h0m420.3 0.1h0m-868.0 0.0h0m189.7 0.1h0m197.8 0.0h0m45.2 0.1h0m319.7 0.0h0m-970.7 0.0h0m620.9 0.0h0m15.1 0.0h0m-212.6 0.1h0m740.4-0.0h0m-1266.5 0.2h0m541.4 0.2h0m411.4 0.0h0m79.0 0.1h0m-475.0 0.2h0m434.9 0.0h0m-724.0 0.0h0m69.1-0.0h0m511.7 0.1h0m295.0 0.2h0m-571.3 0.1h0m-602.3 0.3h0m105.6 0.1h0m824.2-0.0h0m-753.6 0.1h0m441.4 0.0h0m-235.2 0.1h0m865.8-0.0h0m79.6 0.2h0m-694.9 0.2h0m-374.4 0.0h0m604.6-0.0h0m266.2 0.2h0m-911.3 0.1h0m180.0 0.1h0m-84.4 0.1h0m334.6 0.0h0m-679.6 0.1h0m998.3 0.1h0m-889.6 0.1h0m336.3 0.1h0m249.9 0.0h0m184.2 0.1h0m238.9 0.0h0m114.7 0.1h0m-287.2 0.1h0m-764.1 0.2h0m279.3 0.0h0m249.6 0.0h0m326.5-0.0h0m39.9 0.1h0m232.7 0.1h0m81.9 0.1h0m-1423.4 0.2h0m508.4-0.0h0m387.5 0.0h0m-502.9 0.1h0m364.7-0.0h0m-233.7 0.2h0m-412.3 0.1h0m226.4 0.0h0m201.5 0.1h0m233.4-0.0h0m446.3 0.1h0m-338.9 0.0h0m-624.1 0.2h0m298.9-0.0h0m233.1 0.1h0m-217.5 0.1h0m391.0 0.0h0m-663.9 0.1h0m567.1-0.1h0m149.3 0.1h0m-427.9 0.1h0m217.2-0.0h0m-617.3 0.1h0m632.7 0.0h0m30.7-0.0h0m443.6 0.0h0m-884.5 0.1h0m193.3 0.0h0m232.2-0.0h0m-752.6 0.2h0m536.0 0.1h0m557.7-0.0h0m196.8-0.0h0m-738.9 0.3h0m419.2 0.2h0m-403.5 0.2h0m-294.7 0.1h0m778.8-0.0h0m-708.4 0.2h0m521.4-0.1h0m146.0 0.1h0m-427.5 0.1h0m582.1 0.1h0m-1195.9 0.1h0m107.6 0.0h0m72.0 0.1h0m449.8 0.1h0m318.1 0.1h0m324.5 0.2h0m-882.2 0.1h0m963.4 0.0h0m-708.1 0.1h0m-381.5 0.1h0m616.0 0.0h0m-657.3 0.1h0m438.4 0.2h0m490.2 0.0h0m-1182.7 0.1h0m351.5 0.0h0m86.0 0.0h0m-326.8 0.2h0m597.4 0.1h0m309.1 0.1h0m-121.5 0.1h0m-442.3 0.1h0m-268.7 0.1h0m539.0 0.1h0m239.6 0.0h0m175.8-0.1h0m116.8 0.0h0m-786.6 0.4h0m587.1-0.0h0m277.8 0.0h0m-237.1 0.1h0m-357.7 0.1h0m140.7 0.0h0m-799.0 0.2h0m286.6-0.0h0m117.6-0.0h0m-173.4 0.2h0m443.1-0.0h0m-253.8 0.1h0m363.2 0.0h0m-635.9 0.2h0m288.6 0.0h0m253.5-0.0h0m439.2 0.1h0m-676.7 0.2h0m315.7-0.0h0m-577.9 0.1h0m515.3-0.1h0m-629.0 0.1h0m391.8-0.0h0m284.2 0.0h0m114.2-0.1h0m-145.5 0.1h0m15.6 0.1h0m183.4 0.0h0m-436.0 0.1h0m720.3 0.1h0m-1234.6 0.1h0m333.3 0.0h0m197.0 0.0h0m784.8 0.1h0m-768.8 0.1h0m568.3 0.1h0m-552.4 0.2h0m15.9 0.3h0m411.2-0.0h0m-711.5 0.1h0m603.0 0.1h0m190.5 0.1h0m-993.1 0.2h0m271.3-0.1h0m244.5 0.0h0m435.6 0.1h0m-1061.0 0.1h0m183.0 0.0h0m1035.6 0.1h0m-577.2 0.1h0m324.2 0.2h0m-308.2 0.2h0m638.9-0.0h0m82.7 0.1h0m-1110.3 0.1h0m-42.1 0.1h0m170.7-0.1h0m499.1 0.1h0m-223.1 0.2h0m-705.6 0.2h0m112.8 0.1h0m245.3 0.0h0m847.0 0.0h0m-759.3 0.2h0m275.7 0.0h0m191.2 0.2h0m123.8 0.1h0m-848.3 0.1h0m549.2 0.1h0m-275.4 0.2h0m519.6 0.1h0m179.2 0.0h0m119.1-0.1h0m-526.5 0.2h0m606.2 0.1h0m-462.8 0.0h0m179.7 0.1h0m-993.9 0.1h0m395.6-0.1h0m639.7 0.1h0m-348.6 0.1h0m-451.5 0.2h0m56.9-0.1h0m119.8 0.1h0m386.4 0.1h0m-648.0 0.1h0m552.4-0.0h0m-274.5 0.1h0m290.5 0.1h0m63.7-0.0h0m-704.7 0.2h0m115.8-0.0h0m250.9-0.0h0m705.8 0.0h0m-415.7 0.1h0m15.9 0.1h0m15.9-0.1h0m-305.8 0.1h0m422.2 0.0h0m-913.8 0.2h0m507.9-0.1h0m460.5 0.1h0m-444.3 0.1h0m734.0 0.1h0m-918.4 0.1h0m200.7 0.0h0m799.7 0.0h0m-783.5 0.2h0m16.2 0.2h0m562.9-0.0h0m-852.6 0.4h0m306.0-0.1h0m308.5 0.1h0m110.5-0.0h0m-928.3 0.1h0m-111.8 0.1h0m186.5-0.0h0m450.8-0.0h0m486.4 0.1h0m-735.5 0.0h0m693.0 0.1h0m-427.6 0.1h0m588.2 0.1h0m-257.9 0.2h0m-314.1 0.0h0m-396.1 0.1h0m1047.1-0.0h0m84.3-0.0h0m-1174.2 0.1h0m682.5 0.1h0m-508.6 0.1h0m281.3 0.1h0m-719.0 0.2h0m115.0 0.0h0m250.0 0.2h0m370.3 0.0h0m492.8 0.1h0m-773.8 0.1h0m475.8 0.0h0m-738.3 0.0h0m559.7 0.1h0m304.7 0.1h0m-585.4 0.3h0m296.9-0.1h0m232.6-0.0h0m303.9 0.1h0m-390.3 0.1h0m269.0-0.0h0m-1098.6 0.1h0m1301.2-0.0h0m-601.5 0.1h0m-296.6 0.2h0m609.6-0.1h0m42.2 0.1h0m-815.3 0.1h0m58.0 0.0h0m418.4 0.0h0m97.4-0.0h0m-660.3 0.1h0m266.6 0.2h0m312.5 0.1h0m65.0 0.0h0m-718.1 0.1h0m118.0 0.1h0m239.1 0.0h0m312.2-0.0h0m32.5 0.0h0m-16.2 0.0h0m-311.9 0.2h0m446.8 0.1h0m272.5-0.0h0m-1203.6 0.1h0m501.0 0.1h0m16.5 0.2h0m469.3 0.0h0m-452.7 0.1h0m747.9 0.1h0m-935.9 0.0h0m204.5 0.0h0m814.9-0.0h0m-798.3 0.2h0m16.5 0.2h0m573.6 0.1h0m-1076.0 0.2h0m207.2 0.0h0m311.8-0.0h0m-442.8 0.1h0m757.2-0.0h0m-947.3 0.1h0m649.4 0.1h0m410.4-0.0h0m-664.3 0.3h0m749.5 0.0h0m-479.1 0.0h0m435.8 0.1h0m163.6 0.2h0m-582.8 0.1h0m-447.3 0.1h0m43.7-0.0h0m723.7-0.0h0m-71.8 0.2h0m415.2-0.0h0m-646.8 0.1h0m-615.5 0.1h0m328.9 0.0h0m303.2 0.2h0m-377.4 0.1h0m-176.4 0.1h0m752.3 0.1h0m-182.0 0.0h0m485.6 0.0h0m-788.5 0.1h0m319.4 0.3h0m294.0-0.0h0m-145.1 0.3h0m88.1-0.0h0m-933.5 0.1h0m1243.1 0.1h0m-849.2 0.0h0m319.1 0.0h0m406.5 0.1h0m206.4-0.0h0m-596.4 0.2h0m99.3 0.0h0m-672.8 0.0h0m88.2 0.0h0m787.8-0.0h0m-728.8 0.1h0m107.6-0.0h0m664.2 0.1h0m-328.9 0.1h0m66.2 0.1h0m-731.8 0.1h0m682.1 0.0h0m-561.8 0.1h0m226.8-0.0h0m351.6 0.0h0m16.5-0.0h0m-351.2 0.3h0m-476.8 0.1h0m948.9 0.1h0m-455.2 0.1h0m732.9-0.0h0m-716.0 0.2h0m16.9 0.1h0m478.2-0.0h0m-652.9 0.2h0m191.6-0.1h0m762.1 0.1h0m85.1-0.0h0m-830.4 0.1h0m16.9 0.1h0m16.9 0.2h0m-512.0 0.0h0m77.6 0.1h0m133.5 0.1h0m317.7-0.0h0m-644.9 0.1h0m965.3-0.0h0m247.3-0.1h0m-550.7 0.2h0m418.2 0.1h0m-401.4 0.2h0m-275.5 0.1h0m763.7 0.1h0m-471.3 0.2h0m427.2-0.0h0m-883.0 0.1h0m44.5 0.1h0m1005.2 0.0h0m-341.0 0.2h0m73.2-0.1h0m-309.3 0.1h0m-627.2 0.1h0m1286.3-0.0h0m-951.2 0.3h0m308.9 0.0h0m-564.3 0.2h0m179.8 0.0h0m401.4 0.1h0m185.5 0.0h0m309.4 0.3h0m-803.4 0.1h0m325.5-0.0h0m-709.7 0.3h0m861.4 0.0h0m147.8-0.0h0m-282.7 0.1h0m224.6 0.0h0m315.5 0.2h0m-865.3 0.1h0m342.0 0.0h0m607.7 0.0h0m-1192.2 0.1h0m685.6-0.0h0m-595.8 0.1h0m892.0-0.1h0m-380.5 0.1h0m67.4 0.1h0m223.9-0.0h0m-969.5 0.0h0m226.9-0.0h0m109.6 0.1h0m358.6-0.0h0m16.9 0.1h0m16.9-0.0h0m284.6 0.0h0m-890.8 0.1h0m-237.5 0.3h0m468.6-0.1h0m498.3 0.3h0m-481.1 0.0h0m17.2 0.2h0m746.8-0.0h0m-729.6 0.2h0m504.5 0.1h0m-487.3 0.1h0m-178.0 0.1h0m195.2-0.0h0m776.6 0.0h0m-759.4 0.1h0m-487.4 0.1h0m504.5 0.1h0m-425.5 0.1h0m442.6 0.1h0m-306.6 0.1h0m323.8 0.0h0m326.4 0.0h0m-309.3 0.2h0m561.2-0.1h0m-544.0 0.3h0m409.0-0.0h0m-689.8 0.2h0m-166.5 0.1h0m464.5 0.0h0m-419.1 0.1h0m899.4-0.0h0m-45.0 0.1h0m-1057.3 0.1h0m639.1 0.0h0m240.5-0.0h0m74.6 0.1h0m272.9-0.0h0m83.6 0.2h0m-654.5 0.1h0m-575.0 0.2h0m260.2 0.1h0m-77.0 0.2h0m409.0-0.0h0m189.0 0.1h0m-171.8 0.3h0m487.0 0.2h0m-1210.2 0.1h0m391.5 0.0h0m348.8 0.1h0m137.4-0.0h0m150.6 0.2h0m-59.2 0.1h0m-211.7 0.1h0m-595.6 0.1h0m698.7 0.0h0m-451.6 0.2h0m365.7-0.0h0m516.1-0.1h0m86.0 0.0h0m-1123.3 0.1h0m-169.9 0.1h0m708.3 0.0h0m51.5-0.1h0m319.0 0.0h0m-353.3 0.1h0m17.2-0.0h0m-511.4 0.1h0m-106.3 0.1h0m863.1 0.0h0m-645.0 0.1h0m689.7 0.1h0m-1149.7 0.1h0m477.5 0.2h0m507.7 0.1h0m-490.2 0.2h0m778.5 0.2h0m-761.0 0.0h0m17.5 0.2h0m514.0-0.0h0m-958.1 0.1h0m280.2 0.1h0m181.4-0.0h0m-381.0 0.1h0m398.5-0.0h0m791.3 0.0h0m-773.8 0.1h0m17.5 0.1h0m-294.9 0.2h0m312.4-0.1h0m350.2 0.1h0m-332.6 0.0h0m17.5 0.2h0m571.9 0.1h0m-554.4 0.1h0m416.8 0.1h0m-872.6 0.0h0m46.2 0.2h0m123.5-0.0h0m303.6-0.0h0m-633.8 0.2h0m651.3 0.1h0m245.1-0.0h0m226.8-0.0h0m-45.8 0.1h0m-104.9 0.1h0m278.1 0.1h0m-581.7 0.1h0m-585.9 0.1h0m1252.8-0.0h0m-987.7 0.4h0m338.3-0.1h0m-416.8 0.1h0m609.4-0.0h0m-175.1 0.3h0m-736.9 0.3h0m754.4 0.0h0m140.1 0.0h0m338.7 0.2h0m-834.3 0.1h0m373.0 0.1h0m215.7 0.1h0m60.3 0.0h0m-882.9 0.0h0m711.9 0.0h0m-87.5 0.1h0m-704.2 0.2h0m173.1 0.0h0m548.6 0.0h0m52.5-0.0h0m455.9 0.1h0m87.6-0.0h0m-986.1 0.1h0m407.7-0.0h0m17.5-0.0h0m-629.5 0.2h0m108.3 0.1h0m863.7-0.0h0m-92.6 0.2h0m-1126.1 0.1h0m468.8 0.1h0m702.8 0.1h0m-167.6 0.3h0m-517.4 0.1h0m17.8 0.3h0m-416.8 0.2h0m1210.2 0.0h0m-775.5 0.0h0m541.6 0.0h0m-894.2 0.0h0m370.4 0.1h0m-167.0 0.1h0m184.8 0.1h0m17.8 0.1h0m806.4 0.0h0m-788.5 0.1h0m17.8 0.1h0m-300.5 0.1h0m318.3 0.0h0m356.8 0.0h0m-339.0 0.1h0m17.8 0.2h0m17.8 0.2h0m-464.4 0.1h0m1029.3 0.0h0m-982.3 0.2h0m435.2-0.0h0m406.9 0.0h0m-1052.7 0.1h0m336.4 0.0h0m327.2 0.1h0m249.8 0.0h0m231.1 0.2h0m-463.0 0.1h0m309.4-0.0h0m106.9 0.0h0m-1013.4 0.0h0m1189.8 0.1h0m86.8 0.1h0m-661.7 0.1h0m196.2 0.2h0m-620.9 0.1h0m80.0 0.1h0m362.6 0.0h0m-750.9 0.4h0m768.8 0.0h0m142.7 0.1h0m-124.9 0.2h0m-618.4 0.1h0m238.4 0.1h0m487.1-0.0h0m112.8 0.1h0m250.2-0.1h0m-452.2 0.1h0m263.5 0.1h0m-981.1 0.1h0m176.4 0.1h0m559.0-0.1h0m53.5 0.0h0m-35.7 0.1h0m17.8 0.0h0m-641.4 0.2h0m1123.8 0.0h0m-1013.4 0.2h0m97.8-0.1h0m782.3 0.2h0m-94.3 0.2h0m-669.8 0.2h0m716.2 0.1h0m-170.8 0.1h0m-527.2 0.3h0m-406.6 0.1h0m83.7 0.2h0m341.1 0.0h0m570.1 0.2h0m238.3 0.0h0m-790.2 0.1h0m-152.0 0.1h0m170.2 0.1h0m18.2 0.1h0m18.2 0.1h0m821.7-0.0h0m-1091.6 0.0h0m288.0 0.0h0m18.2 0.1h0m381.8-0.0h0m-363.6 0.1h0m18.2 0.1h0m18.2 0.1h0m-455.1 0.1h0m473.3 0.1h0m-639.9 0.3h0m214.6-0.1h0m443.5 0.1h0m557.5 0.0h0m-142.9 0.2h0m-729.9 0.1h0m333.4-0.0h0m254.5 0.0h0m-844.7 0.2h0m608.4 0.1h0m315.3 0.1h0m156.6 0.1h0m-47.6 0.1h0m-406.1 0.1h0m585.8 0.1h0m88.5 0.1h0m-474.3 0.0h0m-632.7 0.2h0m450.9-0.0h0m-369.5 0.2h0m-395.7 0.2h0m783.4-0.0h0m145.4 0.1h0m-127.3 0.2h0m-630.2 0.2h0m739.2 0.1h0m-90.9 0.0h0m-731.3 0.2h0m325.8 0.1h0m423.6-0.0h0m54.5 0.0h0m133.1-0.1h0m-169.5 0.2h0m18.2 0.0h0m213.9-0.0h0m192.3-0.1h0m-1012.3 0.1h0m-47.6 0.2h0m1145.2 0.3h0m-1032.7 0.1h0m99.7 0.0h0m797.2 0.3h0m-96.1 0.1h0m-682.5 0.2h0m555.7 0.0h0m174.0 0.0h0m-1125.6 0.2h0m85.3 0.1h0m329.1 0.0h0m18.5 0.3h0m581.0 0.1h0m-717.3 0.2h0m154.9 0.0h0m805.2-0.1h0m-1024.6 0.2h0m237.9 0.0h0m18.5 0.1h0m18.5 0.1h0m426.1-0.1h0m411.2 0.0h0m-818.8 0.1h0m18.5 0.0h0m18.5 0.1h0m-426.7 0.1h0m445.2-0.1h0m18.5 0.1h0m18.5 0.2h0m-433.4 0.1h0m-218.7 0.0h0m670.6 0.1h0m18.5 0.3h0m259.3-0.0h0m290.2-0.0h0m-145.6 0.1h0m-1005.4 0.1h0m261.7 0.0h0m358.3 0.1h0m321.3 0.2h0m-302.7 0.1h0m462.3 0.1h0m-48.5 0.1h0m-210.0 0.1h0m-185.2 0.1h0m578.4-0.0h0m-1037.9 0.1h0m478.0 0.2h0m-395.0 0.1h0m543.2 0.1h0m-129.7 0.2h0m-642.1 0.2h0m660.7 0.1h0m92.6-0.0h0m-837.8 0.2h0m763.7 0.0h0m55.6 0.0h0m-37.0 0.1h0m18.5 0.0h0m154.2-0.0h0m-771.7 0.1h0m148.8 0.0h0m686.7 0.1h0m-884.0 0.1h0m1080.0-0.1h0m-965.4 0.6h0m1052.3 0.0h0m-950.7 0.1h0m812.3 0.3h0m-98.0 0.1h0m-129.2 0.1h0m-969.6 0.1h0m403.3 0.0h0m743.6 0.1h0m-1060.1 0.0h0m335.3 0.4h0m18.9 0.4h0m592.0-0.1h0m-730.9 0.1h0m-65.7 0.1h0m1044.1 0.0h0m-820.5 0.1h0m490.8 0.0h0m-471.9 0.2h0m-340.4 0.1h0m359.3-0.0h0m872.1-0.0h0m-853.2 0.1h0m18.9 0.0h0m18.9 0.0h0m18.9 0.0h0m18.9 0.1h0m18.9 0.1h0m-645.6 0.1h0m222.9-0.0h0m441.6 0.0h0m18.9 0.2h0m283.1 0.2h0m-877.1 0.1h0m612.9-0.0h0m18.9 0.3h0m392.7-0.0h0m148.3-0.0h0m-906.2 0.1h0m384.0 0.3h0m308.5 0.0h0m-100.8 0.2h0m-188.8 0.1h0m452.2 0.1h0m-49.4 0.0h0m-871.0 0.2h0m487.1 0.1h0m570.5-0.0h0m-419.5 0.2h0m-132.1 0.1h0m-421.4 0.0h0m-233.0 0.1h0m673.2 0.1h0m94.4 0.0h0m-853.7 0.2h0m778.2 0.0h0m18.9 0.1h0m37.8-0.1h0m-18.9 0.1h0m157.1 0.2h0m-786.4 0.1h0m-49.4 0.1h0m201.1 0.1h0m699.8 0.0h0m199.7 0.1h0m-983.7 0.4h0m1072.3 0.2h0m-968.8 0.1h0m-391.7 0.3h0m988.0-0.0h0m131.6 0.0h0m99.8-0.0h0m-1131.0 0.1h0m322.4 0.2h0m757.8 0.1h0m-738.5 0.5h0m622.5 0.2h0m-811.8 0.1h0m67.0 0.0h0m141.6 0.1h0m519.4 0.0h0m-827.8 0.2h0m1163.7-0.0h0m-836.1 0.1h0m19.2 0.2h0m19.2 0.1h0m19.2 0.0h0m19.2 0.0h0m19.2-0.0h0m19.2 0.0h0m811.7-0.1h0m-1431.1 0.1h0m227.1 0.0h0m411.5-0.0h0m19.2 0.1h0m19.2 0.1h0m19.2 0.2h0m-605.3 0.1h0m624.5 0.1h0m269.3-0.1h0m-250.1 0.3h0m-372.0 0.2h0m772.2-0.0h0m151.2 0.0h0m-532.1 0.1h0m314.3 0.2h0m-102.8 0.1h0m-192.4 0.1h0m-477.1 0.4h0m496.4-0.0h0m391.2 0.1h0m50.4-0.0h0m-287.7 0.2h0m-134.6 0.1h0m562.1-0.0h0m-1228.9 0.2h0m237.4 0.2h0m448.6-0.0h0m96.2 0.0h0m-869.9 0.1h0m793.0 0.0h0m57.7 0.1h0m-38.5 0.1h0m19.2 0.0h0m-641.2 0.3h0m-50.4 0.1h0m851.7-0.1h0m-646.8 0.4h0m713.1-0.0h0m203.5 0.2h0m-1002.4 0.3h0m1092.7 0.4h0m-987.2 0.1h0m-399.2 0.0h0m90.2 0.1h0m916.6 0.0h0m134.1 0.2h0m101.7 0.0h0m-823.9 0.3h0m772.2 0.1h0m-752.6 0.5h0m-192.9 0.1h0m827.2 0.0h0m-929.0 0.2h0m170.0-0.1h0m673.5-0.0h0m-529.2 0.2h0m871.6 0.2h0m-1134.1 0.1h0m282.1-0.0h0m19.6 0.2h0m19.6 0.1h0m19.6 0.0h0m19.6-0.0h0m19.6-0.0h0m19.6-0.0h0m19.6 0.0h0m19.6 0.0h0m19.6 0.1h0m-597.2 0.1h0m616.8 0.1h0m294.0 0.1h0m-274.4 0.1h0m19.6 0.2h0m-379.1 0.3h0m398.7-0.0h0m388.2 0.1h0m-172.6 0.2h0m326.6-0.0h0m-522.6 0.1h0m300.7-0.0h0m-281.1 0.3h0m-505.8 0.2h0m662.6 0.1h0m-137.2 0.1h0m379.0 0.0h0m51.3 0.0h0m-1109.8 0.1h0m699.0 0.1h0m98.0 0.1h0m455.2-0.0h0m-1341.7 0.1h0m331.3 0.1h0m476.7-0.1h0m58.8 0.1h0m-39.2 0.0h0m19.6 0.0h0m-653.4 0.4h0m-51.3 0.0h0m867.9 0.1h0m-659.1 0.6h0m726.6-0.0h0m207.4 0.3h0m-1021.5 0.1h0m-299.3 0.3h0m91.9 0.1h0m1320.8 0.1h0m-1006.0 0.1h0m619.2-0.0h0m136.7 0.4h0m103.6 0.1h0m-839.5 0.3h0m786.8 0.1h0m-963.5 0.3h0m-103.6 0.1h0m859.5 0.0h0m87.1 0.0h0m-773.4 0.1h0m127.0-0.0h0m-247.6 0.4h0m267.5-0.0h0m888.1 0.2h0m-1296.9 0.2h0m428.8-0.1h0m20.0 0.2h0m79.9 0.0h0m20.0-0.0h0m20.0-0.0h0m20.0 0.0h0m-119.8 0.1h0m20.0 0.0h0m20.0-0.0h0m99.9-0.0h0m20.0 0.1h0m299.6-0.0h0m-279.6 0.2h0m20.0 0.2h0m20.0 0.2h0m-406.3 0.2h0m426.3 0.1h0m199.7-0.1h0m175.9 0.1h0m-69.2 0.2h0m226.1 0.1h0m-512.6 0.1h0m159.8 0.2h0m-675.2 0.0h0m535.4 0.0h0m-692.4 0.1h0m712.3 0.1h0m99.9 0.1h0m266.4-0.0h0m52.3 0.0h0m-1221.9 0.1h0m823.4 0.0h0m20.0 0.1h0m39.9-0.0h0m483.8 0.1h0m-503.8 0.0h0m-525.8 0.2h0m-192.4 0.3h0m52.3-0.0h0m832.1 0.2h0m68.8 0.6h0m-740.4 0.1h0m-89.1 0.2h0m1040.9 0.1h0m-1345.9 0.1h0m93.7 0.1h0m951.7 0.3h0m-630.9 0.2h0m1025.1-0.0h0m-254.8 0.4h0m105.6 0.1h0m-855.5 0.3h0m801.8 0.1h0m-1087.4 0.1h0m105.6 0.0h0m770.2 0.1h0m88.8 0.1h0m-788.1 0.1h0m129.5 0.1h0m-252.3 0.1h0m-144.0 0.3h0m416.6 0.0h0m905.0 0.2h0m-884.7 0.1h0m142.5 0.0h0m20.4-0.0h0m346.0-0.0h0m-407.1 0.1h0m20.4-0.1h0m61.1-0.0h0m20.4 0.1h0m-183.2 0.0h0m61.1 0.0h0m-40.7 0.0h0m20.4 0.0h0m162.8 0.0h0m20.4 0.2h0m20.4 0.2h0m223.9 0.2h0m-203.5 0.1h0m-434.4 0.1h0m817.1 0.1h0m-362.4 0.1h0m291.9-0.0h0m-129.1 0.2h0m359.5 0.0h0m-1047.5 0.1h0m545.6-0.1h0m-705.5 0.1h0m725.9 0.2h0m101.8 0.1h0m-920.4 0.1h0m839.0 0.0h0m20.4 0.1h0m40.7-0.0h0m-20.4 0.1h0m312.1-0.0h0m53.3 0.1h0m148.0 0.3h0m-1049.1 0.1h0m-196.0 0.1h0m53.3 0.0h0m847.9 0.3h0m70.1 0.7h0m-754.5 0.1h0m-90.8 0.1h0m-215.3 0.1h0m1276.0 0.2h0m-306.2 0.2h0m-642.9 0.4h0m784.9 0.3h0m107.6 0.2h0m-1162.8 0.1h0m107.6 0.1h0m183.4 0.0h0m601.4 0.1h0m215.6 0.0h0m-125.1 0.2h0m-803.1 0.1h0m-125.1 0.1h0m-146.7 0.2h0m403.7-0.1h0m20.7 0.4h0m539.2 0.0h0m-373.3 0.2h0m20.7-0.0h0m20.7 0.0h0m20.7 0.0h0m694.1-0.0h0m-901.5 0.1h0m124.4 0.0h0m103.7 0.0h0m-124.4 0.0h0m-83.0 0.1h0m20.7 0.1h0m20.7-0.0h0m20.7-0.1h0m165.9 0.0h0m20.7 0.2h0m228.1 0.1h0m-207.4 0.1h0m-442.6 0.2h0m463.4 0.0h0m297.4 0.1h0m71.8 0.0h0m-348.5 0.1h0m145.2-0.1h0m-864.1 0.1h0m163.0 0.1h0m576.7 0.1h0m490.8 0.0h0m-387.1 0.1h0m-937.9 0.1h0m855.0 0.0h0m20.7 0.1h0m20.7 0.0h0m20.7-0.1h0m297.3 0.4h0m54.3 0.1h0m-1118.0 0.1h0m54.3 0.1h0m145.4 0.0h0m1069.1 0.0h0m-350.5 0.3h0m71.4 0.8h0m-1080.8 0.1h0m312.0 0.0h0m-92.6 0.0h0m768.8 0.5h0m312.0 0.0h0m-967.1 0.5h0m-275.4 0.4h0m1075.2-0.1h0m-965.5 0.3h0m1075.2 0.0h0m-275.4 0.1h0m-612.9 0.2h0m832.5 0.1h0m-1073.3 0.1h0m127.5 0.1h0m818.3-0.0h0m-1095.3 0.2h0m411.4 0.2h0m570.6 0.2h0m-549.5 0.3h0m190.2 0.1h0m21.1-0.0h0m21.1 0.0h0m-63.4 0.1h0m84.5-0.0h0m686.1 0.1h0m-918.6 0.1h0m126.8-0.1h0m126.8 0.0h0m-147.9 0.1h0m169.1 0.1h0m-253.6 0.0h0m21.1 0.1h0m21.1-0.0h0m21.1-0.1h0m422.7 0.0h0m-211.3 0.2h0m21.1 0.2h0m-472.2 0.1h0m493.3 0.1h0m147.9-0.1h0m134.0 0.1h0m-1014.5 0.0h0m1087.7 0.0h0m-921.7 0.2h0m587.6-0.0h0m105.7 0.1h0m-84.5 0.1h0m21.1 0.1h0m21.1 0.0h0m21.1-0.1h0m415.6 0.1h0m-1196.6 0.6h0m1083.9 0.0h0m-1028.6 0.1h0m1083.9 0.0h0m-935.7 0.2h0m732.2 0.2h0m-1028.6 0.8h0m1101.4 0.1h0m-877.8 0.1h0m94.3 0.1h0" stroke="#3d5a9a" stroke-opacity="0.37" stroke-width="2.99" stroke-linecap="round" fill="none"/>
<path d="M470.0,531.0 L470.5,530.7 L471.0,530.4 L471.5,530.1 L472.0,529.9 L472.5,529.6 L473.0,529.3 L473.5,529.0 L474.0,528.7 L474.5,528.4 L475.0,528.1 L475.5,527.8 L476.0,527.6 L476.5,527.3 L477.0,527.0 L477.5,526.7 L478.0,526.4 L478.5,526.1 L479.0,525.9 L479.5,525.6 L480.0,525.3 L480.5,525.0 L481.0,524.7 L481.5,524.4 L482.0,524.2 L482.5,523.9 L483.0,523.6 L483.5,523.3 L484.0,523.1 L484.5,522.8 L485.0,522.5 L485.5,522.2 L486.0,521.9 L486.5,521.7 L487.0,521.4 L487.5,521.1 L488.0,520.9 L488.5,520.6 L489.0,520.3 L489.5,520.1 L490.0,519.8 L490.5,519.5 L491.0,519.3 L491.5,519.0 L492.0,518.7 L492.5,518.5 L493.0,518.2 L493.5,517.9 L494.0,517.7 L494.5,517.4 L495.0,517.2 L495.5,516.9 L496.0,516.7 L496.5,516.4 L497.0,516.2 L497.5,515.9 L498.0,515.7 L498.5,515.4 L499.0,515.2 L499.5,514.9 L500.0,514.7 L500.5,514.5 L501.0,514.2 L501.5,514.0 L502.0,513.7 L502.5,513.5 L503.0,513.3 L503.5,513.0 L504.0,512.8 L504.5,512.6 L505.0,512.4 L505.5,512.1 L506.0,511.9 L506.5,511.7 L507.0,511.5 L507.5,511.3 L508.0,511.0 L508.5,510.8 L509.0,510.6 L509.5,510.4 L510.0,510.2 L510.5,510.0 L511.0,509.8 L511.5,509.6 L512.0,509.4 L512.5,509.2 L513.0,509.0 L513.5,508.8 L514.0,508.6 L514.5,508.4 L515.0,508.2 L515.5,508.0 L516.0,507.9 L516.5,507.7 L517.0,507.5 L517.5,507.3 L518.0,507.1 L518.5,507.0 L519.0,506.8 L519.5,506.6 L520.0,506.5 L520.5,506.3 L521.0,506.1 L521.5,506.0 L522.0,505.8 L522.5,505.7 L523.0,505.5 L523.5,505.4 L524.0,505.2 L524.5,505.1 L525.0,504.9 L525.5,504.8 L526.0,504.6 L526.5,504.5 L527.0,504.4 L527.5,504.2 L528.0,504.1 L528.5,504.0 L529.0,503.9 L529.5,503.7 L530.0,503.6 L530.5,503.5 L531.0,503.4 L531.5,503.3 L532.0,503.2 L532.5,503.1 L533.0,503.0 L533.5,502.9 L534.0,502.8 L534.5,502.7 L535.0,502.6 L535.5,502.5 L536.0,502.4 L536.5,502.3 L537.0,502.2 L537.5,502.1 L538.0,502.1 L538.5,502.0 L539.0,501.9 L539.5,501.9 L540.0,501.8 L540.5,501.7 L541.0,501.7 L541.5,501.6 L542.0,501.5 L542.5,501.5 L543.0,501.4 L543.5,501.4 L544.0,501.4 L544.5,501.3 L545.0,501.3 L545.5,501.2 L546.0,501.2 L546.5,501.2 L547.0,501.1 L547.5,501.1 L548.0,501.1 L548.5,501.1 L549.0,501.0 L549.5,501.0 L550.0,501.0 L550.5,501.0 L551.0,501.0 L551.5,501.0 L552.0,498.0 L552.5,498.0 L553.0,498.0 L553.5,498.1 L554.0,498.2 L554.5,498.3 L555.0,498.4 L555.5,498.6 L556.0,498.8 L556.5,499.0 L557.0,499.2 L557.5,499.4 L558.0,499.6 L558.5,499.8 L559.0,500.0 L559.5,500.2 L560.0,500.3 L560.5,500.4 L561.0,500.4 L561.5,500.4 L562.0,500.4 L562.5,500.3 L563.0,500.2 L563.5,500.0 L564.0,499.8 L564.5,499.5 L565.0,499.3 L565.5,499.0 L566.0,498.7 L566.5,498.4 L567.0,498.1 L567.5,497.9 L568.0,497.7 L568.5,497.5 L569.0,497.3 L569.5,497.2 L570.0,497.2 L570.5,497.2 L571.0,497.2 L571.5,497.3 L572.0,497.5 L572.5,497.7 L573.0,498.0 L573.5,498.3 L574.0,498.6 L574.5,499.0 L575.0,499.4 L575.5,499.7 L576.0,500.1 L576.5,500.4 L577.0,500.7 L577.5,500.9 L578.0,501.1 L578.5,501.2 L579.0,501.3 L579.5,501.2 L580.0,501.2 L580.5,501.0 L581.0,500.8 L581.5,500.5 L582.0,500.2 L582.5,499.8 L583.0,499.4 L583.5,499.0 L584.0,498.6 L584.5,498.1 L585.0,497.7 L585.5,497.4 L586.0,497.0 L586.5,496.7 L587.0,496.5 L587.5,496.4 L588.0,496.3 L588.5,496.3 L589.0,496.4 L589.5,496.6 L590.0,496.9 L590.5,497.2 L591.0,497.6 L591.5,498.0 L592.0,498.5 L592.5,499.0 L593.0,499.5 L593.5,500.0 L594.0,500.5 L594.5,500.9 L595.0,501.3 L595.5,501.6 L596.0,501.9 L596.5,502.0 L597.0,502.1 L597.5,502.1 L598.0,502.0 L598.5,501.7 L599.0,501.4 L599.5,501.1 L600.0,500.6 L600.5,500.1 L601.0,499.6 L601.5,499.0 L602.0,498.4 L602.5,497.9 L603.0,497.3 L603.5,496.8 L604.0,496.4 L604.5,496.0 L605.0,495.7 L605.5,495.6 L606.0,495.5 L606.5,495.5 L607.0,495.6 L607.5,495.9 L608.0,496.2 L608.5,496.7 L609.0,497.2 L609.5,497.7 L610.0,498.4 L610.5,499.0 L611.0,499.7 L611.5,500.3 L612.0,500.9 L612.5,501.5 L613.0,501.9 L613.5,502.4 L614.0,502.7 L614.5,502.9 L615.0,502.9 L615.5,502.9 L616.0,502.7 L616.5,502.5 L617.0,502.1 L617.5,501.6 L618.0,501.0 L618.5,500.4 L619.0,499.7 L619.5,499.0 L620.0,498.3 L620.5,497.6 L621.0,496.9 L621.5,496.3 L622.0,495.7 L622.5,495.3 L623.0,494.9 L623.5,494.7 L624.0,494.6 L624.5,494.7 L625.0,494.9 L625.5,495.2 L626.0,495.6 L626.5,496.1 L627.0,496.8 L627.5,497.5 L628.0,498.2 L628.5,499.0 L629.0,499.8 L629.5,500.6 L630.0,501.3 L630.5,502.0 L631.0,502.6 L631.5,503.1 L632.0,503.4 L632.5,503.7 L633.0,503.8 L633.5,503.7 L634.0,503.5 L634.5,503.2 L635.0,502.7 L635.5,502.1 L636.0,501.5 L636.5,500.7 L637.0,499.9 L637.5,499.0 L638.0,498.1 L638.5,497.3 L639.0,496.5 L639.5,495.7 L640.0,495.1 L640.5,494.6 L641.0,494.2 L641.5,493.9 L642.0,493.8 L642.5,493.9 L643.0,494.1 L643.5,494.4 L644.0,494.9 L644.5,495.6 L645.0,496.3 L645.5,497.2 L646.0,498.1 L646.5,499.0 L647.0,499.9 L647.5,500.9 L648.0,501.7 L648.5,502.5 L649.0,503.2 L649.5,503.8 L650.0,504.2 L650.5,504.5 L651.0,504.6 L651.5,504.6 L652.0,504.3 L652.5,503.9 L653.0,503.4 L653.5,502.7 L654.0,501.9 L654.5,501.0 L655.0,500.0 L655.5,499.0 L656.0,498.0 L656.5,497.0 L657.0,496.1 L657.5,495.2 L658.0,494.4 L658.5,493.8 L659.0,493.4 L659.5,493.1 L660.0,493.0 L660.5,493.0 L661.0,493.3 L661.5,493.7 L662.0,494.3 L662.5,495.0 L663.0,495.9 L663.5,496.9 L664.0,497.9 L664.5,499.0 L665.0,500.1 L665.5,501.2 L666.0,502.2 L666.5,503.1 L667.0,503.9 L667.5,504.5 L668.0,505.0 L668.5,505.3 L669.0,505.5 L669.5,505.4 L670.0,505.1 L670.5,504.7 L671.0,504.0 L671.5,503.2 L672.0,502.3 L672.5,501.3 L673.0,500.2 L673.5,499.0 L674.0,497.8 L674.5,496.7 L675.0,495.6 L675.5,494.7 L676.0,493.8 L676.5,493.1 L677.0,492.6 L677.5,492.2 L678.0,492.1 L678.5,492.2 L679.0,492.5 L679.5,493.0 L680.0,493.7 L680.5,494.5 L681.0,495.5 L681.5,496.6 L682.0,497.8 L682.5,499.0 L683.0,500.2 L683.5,501.4 L684.0,502.6 L684.5,503.6 L685.0,504.5 L685.5,505.3 L686.0,505.8 L686.5,506.2 L687.0,506.3 L687.5,506.2 L688.0,505.9 L688.5,505.4 L689.0,504.7 L689.5,503.8 L690.0,502.7 L690.5,501.6 L691.0,500.3 L691.5,499.0 L692.0,497.7 L692.5,496.4 L693.0,495.2 L693.5,494.1 L694.0,493.2 L694.5,492.4 L695.0,491.8 L695.5,491.4 L696.0,491.3 L696.5,491.4 L697.0,491.7 L697.5,492.3 L698.0,493.0 L698.5,494.0 L699.0,495.1 L699.5,496.3 L700.0,497.6 L700.5,499.0 L701.0,500.4 L701.5,501.7 L702.0,503.0 L702.5,504.2 L703.0,505.2 L703.5,506.0 L704.0,506.6 L704.5,507.0 L705.0,507.1" fill="none" stroke="#4a68a8" stroke-opacity="0.5" stroke-width="2" stroke-linecap="round" stroke-dasharray="0 3"/>
<path d="M740.0,410.0 L740.5,411.0 L741.0,412.0 L741.5,412.8 L742.0,413.4 L742.5,413.8 L743.0,414.0 L743.5,413.8 L744.0,413.4 L744.5,412.8 L745.0,412.0 L745.5,411.1 L746.0,410.1 L746.5,409.2 L747.0,408.3 L747.5,407.5 L748.0,406.9 L748.5,406.6 L749.0,406.5 L749.5,406.6 L750.0,407.0 L750.5,407.6 L751.0,408.4 L751.5,409.3 L752.0,410.2 L752.5,411.2 L753.0,412.0 L753.5,412.8 L754.0,413.3 L754.5,413.7 L755.0,413.8 L755.5,413.7 L756.0,413.3 L756.5,412.8 L757.0,412.1 L757.5,411.2 L758.0,410.4 L758.5,409.5 L759.0,408.7 L759.5,408.0 L760.0,407.5 L760.5,407.2 L761.0,407.1 L761.5,407.3 L762.0,407.6 L762.5,408.2 L763.0,408.8 L763.5,409.6 L764.0,410.5 L764.5,411.3 L765.0,412.1 L765.5,412.7 L766.0,413.2 L766.5,413.5 L767.0,413.6 L767.5,413.5 L768.0,413.2 L768.5,412.7 L769.0,412.1 L769.5,411.4 L770.0,410.6 L770.5,409.8 L771.0,409.1 L771.5,408.5 L772.0,408.1 L772.5,407.8 L773.0,407.8 L773.5,407.9 L774.0,408.2 L774.5,408.7 L775.0,409.3 L775.5,410.0 L776.0,410.7 L776.5,411.5 L777.0,412.1 L777.5,412.7 L778.0,413.1 L778.5,413.4 L779.0,413.5 L779.5,413.4 L780.0,413.1 L780.5,412.7 L781.0,412.1 L781.5,411.5 L782.0,410.8 L782.5,410.2 L783.0,409.6 L783.5,409.1 L784.0,408.7 L784.5,408.5 L785.0,408.4 L785.5,408.5 L786.0,408.8 L786.5,409.2 L787.0,409.7 L787.5,410.3 L788.0,411.0 L788.5,411.6 L789.0,412.2 L789.5,412.7 L790.0,413.0 L790.5,413.2 L791.0,413.3 L791.5,413.2 L792.0,413.0 L792.5,412.6 L793.0,412.2 L793.5,411.6 L794.0,411.1 L794.5,410.5 L795.0,410.0 L795.5,409.6 L796.0,409.3 L796.5,409.1 L797.0,409.0 L797.5,409.1 L798.0,409.4 L798.5,409.7 L799.0,410.2 L799.5,410.7 L800.0,411.2 L800.5,411.7 L801.0,412.2 L801.5,412.6 L802.0,412.9 L802.5,413.1 L803.0,413.2 L803.5,413.1 L804.0,412.9 L804.5,412.6 L805.0,412.2 L805.5,411.8 L806.0,411.3 L806.5,410.9 L807.0,410.5 L807.5,410.1 L808.0,409.9 L808.5,409.7 L809.0,409.7 L809.5,409.8 L810.0,410.0 L810.5,410.2 L811.0,410.6 L811.5,411.0 L812.0,411.4 L812.5,411.9 L813.0,412.2 L813.5,412.6 L814.0,412.8 L814.5,413.0 L815.0,413.0 L815.5,412.9 L816.0,412.8 L816.5,412.6 L817.0,412.3 L817.5,411.9 L818.0,411.6 L818.5,411.2 L819.0,410.9 L819.5,410.6 L820.0,410.4 L820.5,410.3 L821.0,410.3 L821.5,410.4 L822.0,410.5 L822.5,410.8 L823.0,411.0 L823.5,411.4 L824.0,411.7 L824.5,412.0 L825.0,412.3 L825.5,412.5 L826.0,412.7 L826.5,412.8 L827.0,412.8 L827.5,412.8 L828.0,412.7 L828.5,412.5 L829.0,412.3 L829.5,412.1 L830.0,411.8 L830.5,411.6 L831.0,411.3 L831.5,411.2 L832.0,411.0 L832.5,411.0 L833.0,411.0 L833.5,411.0 L834.0,411.1 L834.5,411.3 L835.0,411.5 L835.5,411.7 L836.0,411.9 L836.5,412.1 L837.0,412.3 L837.5,412.5 L838.0,412.6 L838.5,412.7 L839.0,412.7 L839.5,412.7 L840.0,412.6 L840.5,412.5 L841.0,412.3 L841.5,412.2 L842.0,412.0 L842.5,411.9 L843.0,411.8 L843.5,411.7 L844.0,411.6 L844.5,411.6 L845.0,411.6 L845.5,411.6 L846.0,411.7 L846.5,411.8 L847.0,411.9 L847.5,412.0 L848.0,412.2 L848.5,412.3 L849.0,412.4 L849.5,412.4 L850.0,412.5 L850.5,412.5 L851.0,412.5 L851.5,412.5 L852.0,412.5 L852.5,412.4 L853.0,412.4 L853.5,412.3 L854.0,412.3 L854.5,412.2 L855.0,412.2 L855.5,412.2 L856.0,412.2 L856.5,412.2 L857.0,412.2 L857.5,412.3 L858.0,412.3 L858.5,412.3 L859.0,412.4 L859.5,412.4 L860.0,412.4 L860.5,412.4 L861.0,412.4 L861.5,412.4 L862.0,412.4 L862.5,412.4 L863.0,412.4 L863.5,412.4 L864.0,412.4 L864.5,412.4 L865.0,412.4 L865.5,412.4 L866.0,412.4 L866.5,412.4 L867.0,412.5 L867.5,412.5 L868.0,412.5 L868.5,412.5 L869.0,412.5 L869.5,412.5 L870.0,412.5 L870.5,412.5 L871.0,412.5 L871.5,412.5 L872.0,412.6 L872.5,412.6 L873.0,412.6 L873.5,412.6 L874.0,412.6 L874.5,412.6 L875.0,412.7 L875.5,412.7 L876.0,412.7 L876.5,412.7 L877.0,412.7 L877.5,412.7 L878.0,412.8 L878.5,412.8 L879.0,412.8 L879.5,412.8 L880.0,412.8 L880.5,412.9 L881.0,412.9 L881.5,412.9 L882.0,412.9 L882.5,413.0 L883.0,413.0 L883.5,413.0 L884.0,413.0 L884.5,413.1 L885.0,413.1 L885.5,413.1 L886.0,413.2 L886.5,413.2 L887.0,413.2 L887.5,413.2 L888.0,413.3 L888.5,413.3 L889.0,413.3 L889.5,413.4 L890.0,413.4 L890.5,413.4 L891.0,413.5 L891.5,413.5 L892.0,413.5 L892.5,413.6 L893.0,413.6 L893.5,413.7 L894.0,413.7 L894.5,413.7 L895.0,413.8 L895.5,413.8 L896.0,413.9 L896.5,413.9 L897.0,413.9 L897.5,414.0 L898.0,414.0 L898.5,414.1 L899.0,414.1 L899.5,414.2 L900.0,414.2 L900.5,414.2 L901.0,414.3 L901.5,414.3 L902.0,414.4 L902.5,414.4 L903.0,414.5 L903.5,414.5 L904.0,414.6 L904.5,414.6 L905.0,414.7 L905.5,414.7 L906.0,414.8 L906.5,414.8 L907.0,414.9 L907.5,414.9 L908.0,415.0 L908.5,415.0 L909.0,415.1 L909.5,415.2 L910.0,415.2 L910.5,415.3 L911.0,415.3 L911.5,415.4 L912.0,415.4 L912.5,415.5 L913.0,415.6 L913.5,415.6 L914.0,415.7 L914.5,415.7 L915.0,415.8 L915.5,415.9 L916.0,415.9 L916.5,416.0 L917.0,416.0 L917.5,416.1 L918.0,416.2 L918.5,416.2 L919.0,416.3 L919.5,416.4 L920.0,416.4 L920.5,416.5 L921.0,416.6 L921.5,416.6 L922.0,416.7 L922.5,416.8 L923.0,416.9 L923.5,416.9 L924.0,417.0 L924.5,417.1 L925.0,417.1 L925.5,417.2 L926.0,417.3 L926.5,417.4 L927.0,417.4 L927.5,417.5 L928.0,417.6 L928.5,417.7 L929.0,417.7 L929.5,417.8 L930.0,417.9 L930.5,418.0 L931.0,418.1 L931.5,418.1 L932.0,418.2 L932.5,418.3 L933.0,418.4 L933.5,418.5 L934.0,418.5 L934.5,418.6 L935.0,418.7 L935.5,418.8 L936.0,418.9 L936.5,419.0 L937.0,419.1 L937.5,419.1 L938.0,419.2 L938.5,419.3 L939.0,419.4 L939.5,419.5 L940.0,419.6 L940.5,419.7 L941.0,419.8 L941.5,419.9 L942.0,419.9 L942.5,420.0 L943.0,420.1 L943.5,420.2 L944.0,420.3 L944.5,420.4 L945.0,420.5 L945.5,420.6 L946.0,420.7 L946.5,420.8 L947.0,420.9 L947.5,421.0 L948.0,421.1 L948.5,421.2 L949.0,421.3 L949.5,421.4 L950.0,421.5 L950.5,421.6 L951.0,421.7 L951.5,421.8 L952.0,421.9 L952.5,422.0 L953.0,422.1 L953.5,422.2 L954.0,422.3 L954.5,422.4 L955.0,422.5 L955.5,422.6 L956.0,422.7 L956.5,422.9 L957.0,423.0 L957.5,423.1 L958.0,423.2 L958.5,423.3 L959.0,423.4 L959.5,423.5 L960.0,423.6 L960.5,423.7 L961.0,423.9 L961.5,424.0 L962.0,424.1 L962.5,424.2 L963.0,424.3 L963.5,424.4 L964.0,424.5 L964.5,424.7 L965.0,424.8 L965.5,424.9 L966.0,425.0 L966.5,425.1 L967.0,425.3 L967.5,425.4 L968.0,425.5 L968.5,425.6 L969.0,425.7 L969.5,425.9 L970.0,426.0 L970.5,426.1 L971.0,426.2 L971.5,426.4 L972.0,426.5 L972.5,426.6 L973.0,426.7 L973.5,426.9 L974.0,427.0 L974.5,427.1 L975.0,427.2 L975.5,427.4 L976.0,427.5 L976.5,427.6 L977.0,427.8 L977.5,427.9 L978.0,428.0 L978.5,428.2 L979.0,428.3 L979.5,428.4 L980.0,428.6 L980.5,428.7 L981.0,428.8 L981.5,429.0 L982.0,429.1 L982.5,429.2 L983.0,429.4 L983.5,429.5 L984.0,429.7 L984.5,429.8 L985.0,429.9 L985.5,430.1 L986.0,430.2 L986.5,430.4 L987.0,430.5 L987.5,430.6 L988.0,430.8 L988.5,430.9 L989.0,431.1 L989.5,431.2 L990.0,431.4 L990.5,431.5 L991.0,431.7 L991.5,431.8 L992.0,432.0 L992.5,432.1 L993.0,432.3 L993.5,432.4 L994.0,432.6 L994.5,432.7 L995.0,432.9 L995.5,433.0 L996.0,433.2 L996.5,433.3 L997.0,433.5 L997.5,433.6 L998.0,433.8 L998.5,433.9 L999.0,434.1 L999.5,434.2 L1000.0,434.4" fill="none" stroke="#4a68a8" stroke-opacity="0.35" stroke-width="1.6" stroke-linecap="round" stroke-dasharray="0 2.5"/>
<path d="M470.0,365.0 L470.5,365.2 L471.0,365.4 L471.5,365.5 L472.0,365.7 L472.5,365.8 L473.0,365.9 L473.5,366.0 L474.0,366.0 L474.5,366.0 L475.0,366.0 L475.5,366.0 L476.0,365.9 L476.5,365.8 L477.0,365.6 L477.5,365.5 L478.0,365.3 L478.5,365.2 L479.0,365.0 L479.5,364.9 L480.0,364.7 L480.5,364.6 L481.0,364.6 L481.5,364.5 L482.0,364.5 L482.5,364.5 L483.0,364.6 L483.5,364.7 L484.0,364.8 L484.5,365.0 L485.0,365.2 L485.5,365.4 L486.0,365.6 L486.5,365.9 L487.0,366.1 L487.5,366.3 L488.0,366.5 L488.5,366.6 L489.0,366.8 L489.5,366.8 L490.0,366.9 L490.5,366.9 L491.0,366.9 L491.5,366.8 L492.0,366.7 L492.5,366.5 L493.0,366.4 L493.5,366.2 L494.0,366.0 L494.5,365.8 L495.0,365.6 L495.5,365.4 L496.0,365.2 L496.5,365.1 L497.0,365.0 L497.5,364.9 L498.0,364.9 L498.5,364.9 L499.0,365.0 L499.5,365.2 L500.0,365.3 L500.5,365.5 L501.0,365.8 L501.5,366.0 L502.0,366.3 L502.5,366.5 L503.0,366.8 L503.5,367.1 L504.0,367.3 L504.5,367.5 L505.0,367.6 L505.5,367.7 L506.0,367.8 L506.5,367.8 L507.0,367.7 L507.5,367.6 L508.0,367.5 L508.5,367.3 L509.0,367.1 L509.5,366.8 L510.0,366.6 L510.5,366.3 L511.0,366.1 L511.5,365.9 L512.0,365.7 L512.5,365.5 L513.0,365.4 L513.5,365.3 L514.0,365.3 L514.5,365.4 L515.0,365.4 L515.5,365.6 L516.0,365.8 L516.5,366.0 L517.0,366.3 L517.5,366.6 L518.0,366.9 L518.5,367.2 L519.0,367.5 L519.5,367.8 L520.0,368.1 L520.5,368.3 L521.0,368.5 L521.5,368.6 L522.0,368.6 L522.5,368.6 L523.0,368.6 L523.5,368.5 L524.0,368.3 L524.5,368.1 L525.0,367.8 L525.5,367.5 L526.0,367.2 L526.5,366.9 L527.0,366.7 L527.5,366.4 L528.0,366.2 L528.5,366.0 L529.0,365.8 L529.5,365.7 L530.0,365.7 L530.5,365.8 L531.0,365.9 L531.5,366.0 L532.0,366.3 L532.5,366.5 L533.0,366.9 L533.5,367.2 L534.0,367.6 L534.5,367.9 L535.0,368.3 L535.5,368.6 L536.0,368.9 L536.5,369.1 L537.0,369.3 L537.5,369.5 L538.0,369.5 L538.5,369.5 L539.0,369.4 L539.5,369.3 L540.0,369.1 L540.5,368.8 L541.0,368.5 L541.5,368.2 L542.0,367.9 L542.5,367.5 L543.0,367.2 L543.5,366.9 L544.0,366.6 L544.5,366.4 L545.0,366.2 L545.5,366.1 L546.0,366.1 L546.5,366.2 L547.0,366.3 L547.5,366.5 L548.0,366.7 L548.5,367.1 L549.0,367.4 L549.5,367.8 L550.0,368.2 L550.5,368.6 L551.0,369.0 L551.5,369.4 L552.0,369.7 L552.5,370.0 L553.0,370.2 L553.5,370.3 L554.0,370.4 L554.5,370.4 L555.0,370.3 L555.5,370.1 L556.0,369.9 L556.5,369.6 L557.0,369.3 L557.5,368.9 L558.0,368.5 L558.5,368.1 L559.0,367.8 L559.5,367.4 L560.0,367.1 L560.5,366.8 L561.0,366.7 L561.5,366.6 L562.0,366.5 L562.5,366.6 L563.0,366.7 L563.5,366.9 L564.0,367.2 L564.5,367.6 L565.0,368.0 L565.5,368.4 L566.0,368.8 L566.5,369.3 L567.0,369.7 L567.5,370.1 L568.0,370.5 L568.5,370.8 L569.0,371.0 L569.5,371.2 L570.0,371.3 L570.5,371.3 L571.0,371.2 L571.5,371.0 L572.0,370.7 L572.5,370.4 L573.0,370.0 L573.5,369.6 L574.0,369.2 L574.5,368.7 L575.0,368.3 L575.5,367.9 L576.0,367.6 L576.5,367.3 L577.0,367.1 L577.5,367.0 L578.0,366.9 L578.5,367.0 L579.0,367.1 L579.5,367.4 L580.0,367.7 L580.5,368.1 L581.0,368.5 L581.5,369.0 L582.0,369.5 L582.5,370.0 L583.0,370.5 L583.5,370.9 L584.0,371.3 L584.5,371.6 L585.0,371.9 L585.5,372.1 L586.0,372.1 L586.5,372.1 L587.0,372.0 L587.5,371.8 L588.0,371.5 L588.5,371.2 L589.0,370.7 L589.5,370.3 L590.0,369.8 L590.5,369.3 L591.0,368.9 L591.5,368.4 L592.0,368.0 L592.5,367.7 L593.0,367.5 L593.5,367.4 L594.0,367.3 L594.5,367.4 L595.0,367.6 L595.5,367.8 L596.0,368.2 L596.5,368.6 L597.0,369.1 L597.5,369.6 L598.0,370.1 L598.5,370.7 L599.0,371.2 L599.5,371.7 L600.0,372.1 L600.5,372.5 L601.0,372.8 L601.5,372.9 L602.0,373.0 L602.5,373.0 L603.0,372.9 L603.5,372.6 L604.0,372.3 L604.5,371.9 L605.0,371.5 L605.5,371.0 L606.0,370.4 L606.5,369.9 L607.0,369.4 L607.5,368.9 L608.0,368.5 L608.5,368.2 L609.0,367.9 L609.5,367.8 L610.0,367.7 L610.5,367.8 L611.0,368.0 L611.5,368.3 L612.0,368.6 L612.5,369.1 L613.0,369.6 L613.5,370.2 L614.0,370.8 L614.5,371.4 L615.0,371.9 L615.5,372.5 L616.0,372.9 L616.5,373.3 L617.0,373.6 L617.5,373.8 L618.0,373.9 L618.5,373.9 L619.0,373.7 L619.5,373.5 L620.0,373.1 L620.5,372.7 L621.0,372.2 L621.5,371.7 L622.0,371.1 L622.5,370.5 L623.0,370.0 L623.5,369.4 L624.0,369.0 L624.5,368.6 L625.0,368.4 L625.5,368.2 L626.0,368.1 L626.5,368.2 L627.0,368.4 L627.5,368.7 L628.0,369.1 L628.5,369.6 L629.0,370.2 L629.5,370.8 L630.0,371.4 L630.5,372.0 L631.0,372.7 L631.5,373.2 L632.0,373.7 L632.5,374.2 L633.0,374.5 L633.5,374.7 L634.0,374.8 L634.5,374.7 L635.0,374.6 L635.5,374.3 L636.0,373.9 L636.5,373.5 L637.0,372.9 L637.5,372.3 L638.0,371.7 L638.5,371.1 L639.0,370.5 L639.5,370.0 L640.0,369.5" fill="none" stroke="#4a68a8" stroke-opacity="0.28" stroke-width="1.5" stroke-linecap="round" stroke-dasharray="0 2.5"/>
</svg>
<div class="txt"><div class="title">环形图</div></div>
<div class="panel" style="left:64px"></div>
<div class="panel" style="left:744px"></div>
<svg width="1440" height="572" viewBox="0 0 1440 572">
<path d="M318.50,156.50A129,129 0 0 1 438.36,237.80L395.62,254.81A83,83 0 0 0 318.50,202.50Z" fill="#175eb0"/>
<path d="M438.36,237.80A129,129 0 0 1 432.08,346.66L391.58,324.85A83,83 0 0 0 395.62,254.81Z" fill="#4dbb8e"/>
<path d="M432.08,346.66A129,129 0 0 1 280.78,408.86L294.23,364.87A83,83 0 0 0 391.58,324.85Z" fill="#506080"/>
<path d="M280.78,408.86A129,129 0 0 1 191.09,305.68L236.52,298.48A83,83 0 0 0 294.23,364.87Z" fill="#d4a418"/>
<path d="M191.09,305.68A129,129 0 0 1 294.99,158.66L303.37,203.89A83,83 0 0 0 236.52,298.48Z" fill="#c85d42"/>
<path d="M294.99,158.66A129,129 0 0 1 318.50,156.50L318.50,202.50A83,83 0 0 0 303.37,203.89Z" fill="#5aadd2"/>
<path d="M318.50,203.50L318.50,155.50M394.69,255.18L439.29,237.43M390.70,324.38L432.96,347.13M294.53,363.92L280.49,409.82M237.51,298.33L190.10,305.84M303.56,204.87L294.81,157.68" stroke="#050a1c" stroke-width="1" fill="none"/>
<path d="M1007.30,147.50A129,129 0 0 1 1067.46,162.39L1046.01,203.08A83,83 0 0 0 1007.30,193.50Z" fill="#4f7fdc"/>
<path d="M1067.46,162.39A129,129 0 0 1 1103.17,190.18L1068.98,220.96A83,83 0 0 0 1046.01,203.08Z" fill="#4dbb8e"/>
<path d="M1103.17,190.18A129,129 0 0 1 1134.14,252.99L1088.91,261.37A83,83 0 0 0 1068.98,220.96Z" fill="#506080"/>
<path d="M1134.14,252.99A129,129 0 0 1 1131.73,310.54L1087.36,298.40A83,83 0 0 0 1088.91,261.37Z" fill="#d4a418"/>
<path d="M1131.73,310.54A129,129 0 0 1 1087.96,377.18L1059.20,341.28A83,83 0 0 0 1087.36,298.40Z" fill="#c85d42"/>
<path d="M1087.96,377.18A129,129 0 0 1 1080.55,382.68L1054.43,344.82A83,83 0 0 0 1059.20,341.28Z" fill="#5aadd2"/>
<path d="M1080.55,382.68A129,129 0 0 1 935.91,383.95L961.37,345.63A83,83 0 0 0 1054.43,344.82Z" fill="#7c62b4"/>
<path d="M935.91,383.95A129,129 0 0 1 878.40,281.45L924.36,279.69A83,83 0 0 0 961.37,345.63Z" fill="#dc8642"/>
<path d="M878.40,281.45A129,129 0 0 1 928.23,174.57L956.43,210.92A83,83 0 0 0 924.36,279.69Z" fill="#21827f"/>
<path d="M928.23,174.57A129,129 0 0 1 1007.30,147.50L1007.30,193.50A83,83 0 0 0 956.43,210.92Z" fill="#d983ab"/>
<path d="M1007.30,194.50L1007.30,146.50M1045.54,203.96L1067.93,161.50M1068.24,221.63L1103.91,189.51M1087.93,261.56L1135.12,252.81M1086.39,298.14L1132.69,310.80M1058.57,340.50L1088.58,377.96M1053.86,344.00L1081.12,383.51M961.92,344.80L935.36,384.78M925.36,279.65L877.40,281.49M957.04,211.71L927.62,173.78" stroke="#050a1c" stroke-width="1" fill="none"/>
<circle cx="366.2" cy="509" r="9.7" fill="#0f84ff"/>
<path d="M361.7,509.3 L364.6,512.2 L370,506.2" fill="none" stroke="#050a1c" stroke-width="1.7" stroke-linecap="round" stroke-linejoin="round"/>
<circle cx="1039" cy="507.9" r="9.2" fill="#e8832a"/>
<path d="M1035.4,504.3 L1042.6,511.5 M1042.6,504.3 L1035.4,511.5" stroke="#050a1c" stroke-width="1.7" stroke-linecap="round"/>
</svg>
<div class="txt">
<div class="num" style="left:218.5px;top:259px">3560</div>
<div class="sub" style="left:218.5px;top:295.5px">数据总量</div>
<div class="num" style="left:907.3px;top:258px">7546</div>
<div class="sub" style="left:907.3px;top:295.5px">数据总量</div>
<div class="lg" style="left:516.2px;top:230.2px;background:#4f7fdc"></div>
<div class="lt" style="left:531.0px;top:225.7px">Column1</div>
<div class="lg" style="left:516.2px;top:252.5px;background:#4dbb8e"></div>
<div class="lt" style="left:531.0px;top:248.0px">Column2</div>
<div class="lg" style="left:516.2px;top:274.8px;background:#506080"></div>
<div class="lt" style="left:531.0px;top:270.3px">Column3</div>
<div class="lg" style="left:516.2px;top:297.2px;background:#d4a418"></div>
<div class="lt" style="left:531.0px;top:292.7px">Column4</div>
<div class="lg" style="left:516.2px;top:319.4px;background:#c85d42"></div>
<div class="lt" style="left:531.0px;top:314.9px">Column5</div>
<div class="lg" style="left:516.2px;top:339.1px;background:#5aadd2"></div>
<div class="lt" style="left:531.0px;top:334.6px">Column6</div>
<div class="lg" style="left:1179.0px;top:173.6px;background:#4f7fdc"></div>
<div class="lt" style="left:1194.0px;top:169.1px">Column1</div>
<div class="lg" style="left:1179.0px;top:195.8px;background:#4dbb8e"></div>
<div class="lt" style="left:1194.0px;top:191.3px">Column2</div>
<div class="lg" style="left:1179.0px;top:218.0px;background:#506080"></div>
<div class="lt" style="left:1194.0px;top:213.5px">Column3</div>
<div class="lg" style="left:1179.0px;top:240.2px;background:#d4a418"></div>
<div class="lt" style="left:1194.0px;top:235.7px">Column4</div>
<div class="lg" style="left:1179.0px;top:262.4px;background:#c85d42"></div>
<div class="lt" style="left:1194.0px;top:257.9px">Column5</div>
<div class="lg" style="left:1179.0px;top:284.6px;background:#5aadd2"></div>
<div class="lt" style="left:1194.0px;top:280.1px">Column6</div>
<div class="lg" style="left:1179.0px;top:306.8px;background:#7c62b4"></div>
<div class="lt" style="left:1194.0px;top:302.3px">Column7</div>
<div class="lg" style="left:1179.0px;top:329.0px;background:#dc8642"></div>
<div class="lt" style="left:1194.0px;top:324.5px">Column8</div>
<div class="lg" style="left:1179.0px;top:351.2px;background:#21827f"></div>
<div class="lt" style="left:1194.0px;top:346.7px">Column9</div>
<div class="lg" style="left:1179.0px;top:373.4px;background:#d983ab"></div>
<div class="lt" style="left:1194.0px;top:368.9px">Column10</div>
<div class="tag" style="left:384px;top:500px;font-weight:400;color:#c9cdd6">建议</div>
<div class="tag" style="left:1059px;top:497px;color:#a9aebb">不建议</div>
</div>
</body></html>
